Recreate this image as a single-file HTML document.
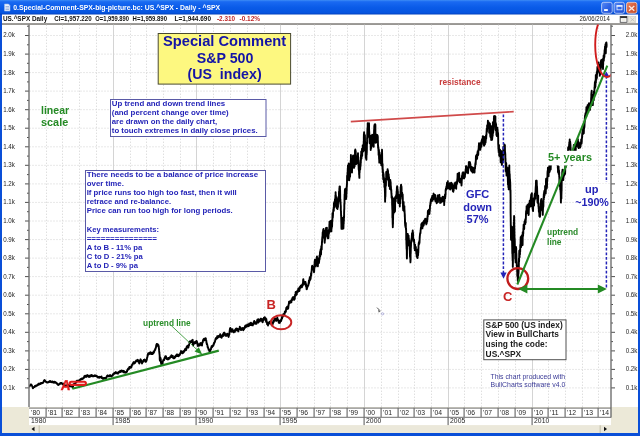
<!DOCTYPE html>
<html><head><meta charset="utf-8"><style>
html,body{margin:0;padding:0;width:640px;height:436px;overflow:hidden;background:#fff}
svg{display:block;will-change:transform}
</style></head><body>
<svg width="640" height="436" viewBox="0 0 640 436"><defs>
<linearGradient id="tb" x1="0" y1="0" x2="0" y2="1">
<stop offset="0" stop-color="#3d8cf5"/><stop offset="0.12" stop-color="#1a6af2"/><stop offset="0.5" stop-color="#0a5be8"/><stop offset="0.85" stop-color="#0655e0"/><stop offset="1" stop-color="#0240c0"/>
</linearGradient>
<clipPath id="plot"><rect x="29.5" y="24.5" width="581" height="382.5"/></clipPath>
</defs>
<rect x="0" y="0" width="640" height="436" fill="#0a4fd8"/>
<rect x="0" y="0" width="640" height="14.7" fill="url(#tb)"/>
<rect x="2" y="14.7" width="636" height="418.3" fill="#ece9d8"/>
<rect x="2" y="14.7" width="636" height="8.9" fill="#ffffff"/>
<rect x="2" y="23.6" width="636" height="1" fill="#1a1a1a"/>
<rect x="2" y="24.7" width="636" height="382.3" fill="#ffffff"/>
<g stroke="#d0d0d0" stroke-width="1" stroke-dasharray="1 2"><line x1="29.5" y1="387.9" x2="610.5" y2="387.9"/><line x1="29.5" y1="369.4" x2="610.5" y2="369.4"/><line x1="29.5" y1="350.9" x2="610.5" y2="350.9"/><line x1="29.5" y1="332.3" x2="610.5" y2="332.3"/><line x1="29.5" y1="313.8" x2="610.5" y2="313.8"/><line x1="29.5" y1="295.2" x2="610.5" y2="295.2"/><line x1="29.5" y1="276.6" x2="610.5" y2="276.6"/><line x1="29.5" y1="258.1" x2="610.5" y2="258.1"/><line x1="29.5" y1="239.6" x2="610.5" y2="239.6"/><line x1="29.5" y1="221.0" x2="610.5" y2="221.0"/><line x1="29.5" y1="202.4" x2="610.5" y2="202.4"/><line x1="29.5" y1="183.9" x2="610.5" y2="183.9"/><line x1="29.5" y1="165.3" x2="610.5" y2="165.3"/><line x1="29.5" y1="146.8" x2="610.5" y2="146.8"/><line x1="29.5" y1="128.2" x2="610.5" y2="128.2"/><line x1="29.5" y1="109.7" x2="610.5" y2="109.7"/><line x1="29.5" y1="91.1" x2="610.5" y2="91.1"/><line x1="29.5" y1="72.6" x2="610.5" y2="72.6"/><line x1="29.5" y1="54.1" x2="610.5" y2="54.1"/><line x1="29.5" y1="35.5" x2="610.5" y2="35.5"/></g>
<g stroke="#d0d0d0" stroke-width="1" stroke-dasharray="1 2"><line x1="46.5" y1="24.7" x2="46.5" y2="407"/><line x1="62.5" y1="24.7" x2="62.5" y2="407"/><line x1="79.5" y1="24.7" x2="79.5" y2="407"/><line x1="96.5" y1="24.7" x2="96.5" y2="407"/><line x1="130.5" y1="24.7" x2="130.5" y2="407"/><line x1="146.5" y1="24.7" x2="146.5" y2="407"/><line x1="163.5" y1="24.7" x2="163.5" y2="407"/><line x1="180.5" y1="24.7" x2="180.5" y2="407"/><line x1="213.5" y1="24.7" x2="213.5" y2="407"/><line x1="230.5" y1="24.7" x2="230.5" y2="407"/><line x1="247.5" y1="24.7" x2="247.5" y2="407"/><line x1="264.5" y1="24.7" x2="264.5" y2="407"/><line x1="297.5" y1="24.7" x2="297.5" y2="407"/><line x1="314.5" y1="24.7" x2="314.5" y2="407"/><line x1="330.5" y1="24.7" x2="330.5" y2="407"/><line x1="347.5" y1="24.7" x2="347.5" y2="407"/><line x1="381.5" y1="24.7" x2="381.5" y2="407"/><line x1="398.5" y1="24.7" x2="398.5" y2="407"/><line x1="414.5" y1="24.7" x2="414.5" y2="407"/><line x1="431.5" y1="24.7" x2="431.5" y2="407"/><line x1="464.5" y1="24.7" x2="464.5" y2="407"/><line x1="481.5" y1="24.7" x2="481.5" y2="407"/><line x1="498.5" y1="24.7" x2="498.5" y2="407"/><line x1="515.5" y1="24.7" x2="515.5" y2="407"/><line x1="548.5" y1="24.7" x2="548.5" y2="407"/><line x1="565.5" y1="24.7" x2="565.5" y2="407"/><line x1="582.5" y1="24.7" x2="582.5" y2="407"/><line x1="598.5" y1="24.7" x2="598.5" y2="407"/></g>
<g stroke="#d4d4d4" stroke-width="1"><line x1="113.5" y1="24.7" x2="113.5" y2="407"/><line x1="196.5" y1="24.7" x2="196.5" y2="407"/><line x1="280.5" y1="24.7" x2="280.5" y2="407"/><line x1="364.5" y1="24.7" x2="364.5" y2="407"/><line x1="448.5" y1="24.7" x2="448.5" y2="407"/><line x1="532.5" y1="24.7" x2="532.5" y2="407"/></g>
<g stroke="#505050" stroke-width="1"><line x1="25" y1="387.9" x2="29" y2="387.9"/><line x1="611" y1="387.9" x2="615" y2="387.9"/><line x1="25" y1="369.4" x2="29" y2="369.4"/><line x1="611" y1="369.4" x2="615" y2="369.4"/><line x1="25" y1="350.9" x2="29" y2="350.9"/><line x1="611" y1="350.9" x2="615" y2="350.9"/><line x1="25" y1="332.3" x2="29" y2="332.3"/><line x1="611" y1="332.3" x2="615" y2="332.3"/><line x1="25" y1="313.8" x2="29" y2="313.8"/><line x1="611" y1="313.8" x2="615" y2="313.8"/><line x1="25" y1="295.2" x2="29" y2="295.2"/><line x1="611" y1="295.2" x2="615" y2="295.2"/><line x1="25" y1="276.6" x2="29" y2="276.6"/><line x1="611" y1="276.6" x2="615" y2="276.6"/><line x1="25" y1="258.1" x2="29" y2="258.1"/><line x1="611" y1="258.1" x2="615" y2="258.1"/><line x1="25" y1="239.6" x2="29" y2="239.6"/><line x1="611" y1="239.6" x2="615" y2="239.6"/><line x1="25" y1="221.0" x2="29" y2="221.0"/><line x1="611" y1="221.0" x2="615" y2="221.0"/><line x1="25" y1="202.4" x2="29" y2="202.4"/><line x1="611" y1="202.4" x2="615" y2="202.4"/><line x1="25" y1="183.9" x2="29" y2="183.9"/><line x1="611" y1="183.9" x2="615" y2="183.9"/><line x1="25" y1="165.3" x2="29" y2="165.3"/><line x1="611" y1="165.3" x2="615" y2="165.3"/><line x1="25" y1="146.8" x2="29" y2="146.8"/><line x1="611" y1="146.8" x2="615" y2="146.8"/><line x1="25" y1="128.2" x2="29" y2="128.2"/><line x1="611" y1="128.2" x2="615" y2="128.2"/><line x1="25" y1="109.7" x2="29" y2="109.7"/><line x1="611" y1="109.7" x2="615" y2="109.7"/><line x1="25" y1="91.1" x2="29" y2="91.1"/><line x1="611" y1="91.1" x2="615" y2="91.1"/><line x1="25" y1="72.6" x2="29" y2="72.6"/><line x1="611" y1="72.6" x2="615" y2="72.6"/><line x1="25" y1="54.1" x2="29" y2="54.1"/><line x1="611" y1="54.1" x2="615" y2="54.1"/><line x1="25" y1="35.5" x2="29" y2="35.5"/><line x1="611" y1="35.5" x2="615" y2="35.5"/><line x1="27" y1="378.7" x2="29" y2="378.7"/><line x1="611" y1="378.7" x2="613" y2="378.7"/><line x1="27" y1="360.1" x2="29" y2="360.1"/><line x1="611" y1="360.1" x2="613" y2="360.1"/><line x1="27" y1="341.6" x2="29" y2="341.6"/><line x1="611" y1="341.6" x2="613" y2="341.6"/><line x1="27" y1="323.0" x2="29" y2="323.0"/><line x1="611" y1="323.0" x2="613" y2="323.0"/><line x1="27" y1="304.5" x2="29" y2="304.5"/><line x1="611" y1="304.5" x2="613" y2="304.5"/><line x1="27" y1="285.9" x2="29" y2="285.9"/><line x1="611" y1="285.9" x2="613" y2="285.9"/><line x1="27" y1="267.4" x2="29" y2="267.4"/><line x1="611" y1="267.4" x2="613" y2="267.4"/><line x1="27" y1="248.8" x2="29" y2="248.8"/><line x1="611" y1="248.8" x2="613" y2="248.8"/><line x1="27" y1="230.3" x2="29" y2="230.3"/><line x1="611" y1="230.3" x2="613" y2="230.3"/><line x1="27" y1="211.7" x2="29" y2="211.7"/><line x1="611" y1="211.7" x2="613" y2="211.7"/><line x1="27" y1="193.2" x2="29" y2="193.2"/><line x1="611" y1="193.2" x2="613" y2="193.2"/><line x1="27" y1="174.6" x2="29" y2="174.6"/><line x1="611" y1="174.6" x2="613" y2="174.6"/><line x1="27" y1="156.1" x2="29" y2="156.1"/><line x1="611" y1="156.1" x2="613" y2="156.1"/><line x1="27" y1="137.5" x2="29" y2="137.5"/><line x1="611" y1="137.5" x2="613" y2="137.5"/><line x1="27" y1="119.0" x2="29" y2="119.0"/><line x1="611" y1="119.0" x2="613" y2="119.0"/><line x1="27" y1="100.4" x2="29" y2="100.4"/><line x1="611" y1="100.4" x2="613" y2="100.4"/><line x1="27" y1="81.9" x2="29" y2="81.9"/><line x1="611" y1="81.9" x2="613" y2="81.9"/><line x1="27" y1="63.3" x2="29" y2="63.3"/><line x1="611" y1="63.3" x2="613" y2="63.3"/><line x1="27" y1="44.8" x2="29" y2="44.8"/><line x1="611" y1="44.8" x2="613" y2="44.8"/><line x1="27" y1="26.2" x2="29" y2="26.2"/><line x1="611" y1="26.2" x2="613" y2="26.2"/></g>
<rect x="28.3" y="24.7" width="1.4" height="382.3" fill="#707070"/>
<rect x="610.3" y="24.7" width="1.4" height="382.3" fill="#707070"/>
<g font-family='"Liberation Sans", sans-serif' font-size="7" fill="#1e1e1e"><text x="3.2" y="389.8" textLength="11.7" lengthAdjust="spacingAndGlyphs">0.1k</text><text x="625.7" y="389.8" textLength="11.7" lengthAdjust="spacingAndGlyphs">0.1k</text><text x="3.2" y="371.3" textLength="11.7" lengthAdjust="spacingAndGlyphs">0.2k</text><text x="625.7" y="371.3" textLength="11.7" lengthAdjust="spacingAndGlyphs">0.2k</text><text x="3.2" y="352.8" textLength="11.7" lengthAdjust="spacingAndGlyphs">0.3k</text><text x="625.7" y="352.8" textLength="11.7" lengthAdjust="spacingAndGlyphs">0.3k</text><text x="3.2" y="334.2" textLength="11.7" lengthAdjust="spacingAndGlyphs">0.4k</text><text x="625.7" y="334.2" textLength="11.7" lengthAdjust="spacingAndGlyphs">0.4k</text><text x="3.2" y="315.6" textLength="11.7" lengthAdjust="spacingAndGlyphs">0.5k</text><text x="625.7" y="315.6" textLength="11.7" lengthAdjust="spacingAndGlyphs">0.5k</text><text x="3.2" y="297.1" textLength="11.7" lengthAdjust="spacingAndGlyphs">0.6k</text><text x="625.7" y="297.1" textLength="11.7" lengthAdjust="spacingAndGlyphs">0.6k</text><text x="3.2" y="278.5" textLength="11.7" lengthAdjust="spacingAndGlyphs">0.7k</text><text x="625.7" y="278.5" textLength="11.7" lengthAdjust="spacingAndGlyphs">0.7k</text><text x="3.2" y="260.0" textLength="11.7" lengthAdjust="spacingAndGlyphs">0.8k</text><text x="625.7" y="260.0" textLength="11.7" lengthAdjust="spacingAndGlyphs">0.8k</text><text x="3.2" y="241.5" textLength="11.7" lengthAdjust="spacingAndGlyphs">0.9k</text><text x="625.7" y="241.5" textLength="11.7" lengthAdjust="spacingAndGlyphs">0.9k</text><text x="3.2" y="222.9" textLength="11.7" lengthAdjust="spacingAndGlyphs">1.0k</text><text x="625.7" y="222.9" textLength="11.7" lengthAdjust="spacingAndGlyphs">1.0k</text><text x="3.2" y="204.3" textLength="11.7" lengthAdjust="spacingAndGlyphs">1.1k</text><text x="625.7" y="204.3" textLength="11.7" lengthAdjust="spacingAndGlyphs">1.1k</text><text x="3.2" y="185.8" textLength="11.7" lengthAdjust="spacingAndGlyphs">1.2k</text><text x="625.7" y="185.8" textLength="11.7" lengthAdjust="spacingAndGlyphs">1.2k</text><text x="3.2" y="167.2" textLength="11.7" lengthAdjust="spacingAndGlyphs">1.3k</text><text x="625.7" y="167.2" textLength="11.7" lengthAdjust="spacingAndGlyphs">1.3k</text><text x="3.2" y="148.7" textLength="11.7" lengthAdjust="spacingAndGlyphs">1.4k</text><text x="625.7" y="148.7" textLength="11.7" lengthAdjust="spacingAndGlyphs">1.4k</text><text x="3.2" y="130.2" textLength="11.7" lengthAdjust="spacingAndGlyphs">1.5k</text><text x="625.7" y="130.2" textLength="11.7" lengthAdjust="spacingAndGlyphs">1.5k</text><text x="3.2" y="111.6" textLength="11.7" lengthAdjust="spacingAndGlyphs">1.6k</text><text x="625.7" y="111.6" textLength="11.7" lengthAdjust="spacingAndGlyphs">1.6k</text><text x="3.2" y="93.0" textLength="11.7" lengthAdjust="spacingAndGlyphs">1.7k</text><text x="625.7" y="93.0" textLength="11.7" lengthAdjust="spacingAndGlyphs">1.7k</text><text x="3.2" y="74.5" textLength="11.7" lengthAdjust="spacingAndGlyphs">1.8k</text><text x="625.7" y="74.5" textLength="11.7" lengthAdjust="spacingAndGlyphs">1.8k</text><text x="3.2" y="56.0" textLength="11.7" lengthAdjust="spacingAndGlyphs">1.9k</text><text x="625.7" y="56.0" textLength="11.7" lengthAdjust="spacingAndGlyphs">1.9k</text><text x="3.2" y="37.4" textLength="11.7" lengthAdjust="spacingAndGlyphs">2.0k</text><text x="625.7" y="37.4" textLength="11.7" lengthAdjust="spacingAndGlyphs">2.0k</text></g>
<rect x="29" y="407.8" width="582" height="17.5" fill="#ffffff"/>
<rect x="29" y="407.6" width="582" height="1" fill="#707070"/>
<rect x="29" y="416.8" width="582" height="1" fill="#707070"/>
<rect x="45.5" y="407.8" width="1.2" height="9.2" fill="#707070"/><rect x="61.5" y="407.8" width="1.2" height="9.2" fill="#707070"/><rect x="78.5" y="407.8" width="1.2" height="9.2" fill="#707070"/><rect x="95.5" y="407.8" width="1.2" height="9.2" fill="#707070"/><rect x="112.5" y="407.8" width="1.2" height="17.5" fill="#707070"/><rect x="129.5" y="407.8" width="1.2" height="9.2" fill="#707070"/><rect x="145.5" y="407.8" width="1.2" height="9.2" fill="#707070"/><rect x="162.5" y="407.8" width="1.2" height="9.2" fill="#707070"/><rect x="179.5" y="407.8" width="1.2" height="9.2" fill="#707070"/><rect x="195.5" y="407.8" width="1.2" height="17.5" fill="#707070"/><rect x="212.5" y="407.8" width="1.2" height="9.2" fill="#707070"/><rect x="229.5" y="407.8" width="1.2" height="9.2" fill="#707070"/><rect x="246.5" y="407.8" width="1.2" height="9.2" fill="#707070"/><rect x="263.5" y="407.8" width="1.2" height="9.2" fill="#707070"/><rect x="279.5" y="407.8" width="1.2" height="17.5" fill="#707070"/><rect x="296.5" y="407.8" width="1.2" height="9.2" fill="#707070"/><rect x="313.5" y="407.8" width="1.2" height="9.2" fill="#707070"/><rect x="329.5" y="407.8" width="1.2" height="9.2" fill="#707070"/><rect x="346.5" y="407.8" width="1.2" height="9.2" fill="#707070"/><rect x="363.5" y="407.8" width="1.2" height="17.5" fill="#707070"/><rect x="380.5" y="407.8" width="1.2" height="9.2" fill="#707070"/><rect x="397.5" y="407.8" width="1.2" height="9.2" fill="#707070"/><rect x="413.5" y="407.8" width="1.2" height="9.2" fill="#707070"/><rect x="430.5" y="407.8" width="1.2" height="9.2" fill="#707070"/><rect x="447.5" y="407.8" width="1.2" height="17.5" fill="#707070"/><rect x="463.5" y="407.8" width="1.2" height="9.2" fill="#707070"/><rect x="480.5" y="407.8" width="1.2" height="9.2" fill="#707070"/><rect x="497.5" y="407.8" width="1.2" height="9.2" fill="#707070"/><rect x="514.5" y="407.8" width="1.2" height="9.2" fill="#707070"/><rect x="531.5" y="407.8" width="1.2" height="17.5" fill="#707070"/><rect x="547.5" y="407.8" width="1.2" height="9.2" fill="#707070"/><rect x="564.5" y="407.8" width="1.2" height="9.2" fill="#707070"/><rect x="581.5" y="407.8" width="1.2" height="9.2" fill="#707070"/><rect x="597.5" y="407.8" width="1.2" height="9.2" fill="#707070"/>
<g font-family='"Liberation Sans", sans-serif' font-size="6.8" fill="#1e1e1e"><text x="31.1" y="415.2">'80</text><text x="31.1" y="423.4">1980</text><text x="48.1" y="415.2">'81</text><text x="64.1" y="415.2">'82</text><text x="81.1" y="415.2">'83</text><text x="98.1" y="415.2">'84</text><text x="115.1" y="415.2">'85</text><text x="115.1" y="423.4">1985</text><text x="132.1" y="415.2">'86</text><text x="148.1" y="415.2">'87</text><text x="165.1" y="415.2">'88</text><text x="182.1" y="415.2">'89</text><text x="198.1" y="415.2">'90</text><text x="198.1" y="423.4">1990</text><text x="215.1" y="415.2">'91</text><text x="232.1" y="415.2">'92</text><text x="249.1" y="415.2">'93</text><text x="266.1" y="415.2">'94</text><text x="282.1" y="415.2">'95</text><text x="282.1" y="423.4">1995</text><text x="299.1" y="415.2">'96</text><text x="316.1" y="415.2">'97</text><text x="332.1" y="415.2">'98</text><text x="349.1" y="415.2">'99</text><text x="366.1" y="415.2">'00</text><text x="366.1" y="423.4">2000</text><text x="383.1" y="415.2">'01</text><text x="400.1" y="415.2">'02</text><text x="416.1" y="415.2">'03</text><text x="433.1" y="415.2">'04</text><text x="450.1" y="415.2">'05</text><text x="450.1" y="423.4">2005</text><text x="466.1" y="415.2">'06</text><text x="483.1" y="415.2">'07</text><text x="500.1" y="415.2">'08</text><text x="517.1" y="415.2">'09</text><text x="534.1" y="415.2">'10</text><text x="534.1" y="423.4">2010</text><text x="550.1" y="415.2">'11</text><text x="567.1" y="415.2">'12</text><text x="584.1" y="415.2">'13</text><text x="600.1" y="415.2">'14</text></g>
<rect x="610.3" y="407" width="1.4" height="10.6" fill="#707070"/>
<rect x="29" y="425.3" width="582" height="7.7" fill="#ebe8da"/>
<rect x="38.5" y="425.3" width="1.5" height="7.7" fill="#cfcbb8"/>
<rect x="599.5" y="425.3" width="1.5" height="7.7" fill="#cfcbb8"/>
<path d="M31.5 429 L34.5 426.8 L34.5 431.2 Z" fill="#111"/>
<path d="M607 429 L604 426.8 L604 431.2 Z" fill="#111"/>
<path clip-path="url(#plot)" d="M29.0 386.9 29.1 386.8 29.2 386.7 29.2 386.6 29.3 386.6 29.4 386.5 29.4 386.5 29.5 386.4 29.6 386.0 29.6 385.9 29.7 385.7 29.8 385.8 29.8 385.7 29.9 385.7 30.0 385.5 30.0 385.3 30.1 385.2 30.2 385.3 30.2 385.5 30.3 385.4 30.3 385.3 30.4 385.1 30.5 385.2 30.5 384.9 30.6 384.8 30.7 385.0 30.7 384.6 30.8 384.5 30.9 384.5 30.9 384.5 31.0 384.6 31.1 384.5 31.1 384.5 31.2 384.6 31.3 384.8 31.3 385.0 31.4 384.8 31.5 385.1 31.5 385.3 31.6 385.2 31.7 385.0 31.7 385.4 31.8 385.5 31.9 385.7 31.9 385.8 32.0 385.8 32.1 386.0 32.1 386.0 32.2 386.3 32.3 386.6 32.3 386.5 32.4 386.6 32.5 386.8 32.5 387.0 32.6 387.2 32.7 387.5 32.7 387.9 32.8 388.0 32.9 388.0 32.9 388.3 33.0 388.3 33.1 387.7 33.1 387.6 33.2 387.7 33.3 387.7 33.3 387.5 33.4 387.8 33.5 387.6 33.5 387.4 33.6 387.4 33.7 387.4 33.7 387.4 33.8 387.3 33.9 387.3 33.9 387.3 34.0 387.0 34.1 387.1 34.1 387.1 34.2 386.9 34.3 386.8 34.3 386.9 34.4 387.1 34.5 386.9 34.5 386.8 34.6 386.6 34.7 386.7 34.7 386.5 34.8 386.5 34.9 386.5 34.9 386.0 35.0 386.5 35.1 386.3 35.1 386.4 35.2 386.2 35.3 386.0 35.3 386.3 35.4 386.1 35.5 386.4 35.5 386.3 35.6 386.2 35.7 386.3 35.7 386.2 35.8 386.2 35.9 385.9 35.9 385.9 36.0 385.6 36.1 385.7 36.1 385.8 36.2 385.7 36.3 385.9 36.3 385.8 36.4 385.5 36.5 385.8 36.5 385.8 36.6 385.5 36.7 385.7 36.7 385.7 36.8 385.6 36.9 385.7 36.9 385.7 37.0 385.6 37.1 385.6 37.1 385.3 37.2 385.6 37.3 385.4 37.3 385.3 37.4 385.0 37.5 385.0 37.5 384.9 37.6 384.6 37.7 384.7 37.7 384.9 37.8 384.9 37.9 384.8 37.9 385.0 38.0 385.0 38.1 384.8 38.1 384.6 38.2 384.7 38.3 384.7 38.3 384.4 38.4 384.4 38.5 384.1 38.5 384.0 38.6 383.8 38.7 384.2 38.7 383.9 38.8 383.7 38.9 384.1 38.9 384.1 39.0 383.8 39.1 384.2 39.1 384.3 39.2 384.2 39.3 384.4 39.3 384.4 39.4 384.2 39.5 384.3 39.5 384.2 39.6 384.1 39.7 383.8 39.7 383.8 39.8 383.8 39.9 384.1 39.9 383.9 40.0 383.6 40.1 383.7 40.1 383.8 40.2 383.9 40.3 384.0 40.3 383.8 40.4 383.3 40.5 383.3 40.5 383.9 40.6 383.8 40.7 383.4 40.7 383.3 40.8 383.1 40.9 383.3 40.9 383.4 41.0 383.5 41.1 383.6 41.1 383.4 41.2 383.4 41.3 383.2 41.3 383.1 41.4 383.2 41.5 383.2 41.5 383.2 41.6 383.4 41.6 383.1 41.7 383.1 41.8 383.0 41.8 383.1 41.9 383.2 42.0 383.1 42.0 382.9 42.1 383.1 42.2 383.2 42.2 383.1 42.3 382.9 42.4 382.9 42.4 382.9 42.5 382.9 42.6 383.0 42.6 382.9 42.7 382.7 42.8 382.6 42.8 382.6 42.9 382.9 43.0 382.5 43.0 382.7 43.1 382.7 43.2 382.5 43.2 382.5 43.3 382.4 43.4 382.2 43.4 382.1 43.5 382.0 43.6 381.8 43.6 381.5 43.7 381.4 43.8 381.5 43.8 381.0 43.9 381.2 44.0 380.9 44.0 380.5 44.1 380.5 44.2 380.6 44.2 380.6 44.3 380.4 44.4 380.4 44.4 380.2 44.5 380.5 44.6 380.3 44.6 380.4 44.7 380.5 44.8 380.6 44.8 380.5 44.9 380.3 45.0 380.8 45.0 380.8 45.1 380.6 45.2 380.8 45.2 381.1 45.3 381.2 45.4 381.4 45.4 381.4 45.5 381.5 45.6 381.5 45.6 381.5 45.7 381.3 45.8 381.4 45.8 381.8 45.9 381.8 46.0 381.9 46.0 382.0 46.1 381.9 46.2 382.0 46.2 381.9 46.3 382.2 46.4 382.1 46.4 382.2 46.5 382.0 46.6 382.4 46.6 382.3 46.7 382.2 46.8 382.2 46.8 381.9 46.9 382.1 47.0 382.1 47.0 382.3 47.1 382.5 47.2 382.3 47.2 382.4 47.3 382.2 47.4 382.4 47.4 382.5 47.5 382.5 47.6 382.6 47.6 382.5 47.7 382.2 47.8 382.4 47.8 382.5 47.9 382.2 48.0 382.3 48.0 382.4 48.1 382.3 48.2 382.3 48.2 382.4 48.3 382.2 48.4 382.3 48.4 382.0 48.5 382.1 48.6 382.1 48.6 382.1 48.7 382.0 48.8 381.8 48.8 381.7 48.9 381.8 49.0 381.9 49.0 382.1 49.1 381.8 49.2 381.7 49.2 381.6 49.3 381.5 49.4 381.3 49.4 381.7 49.5 381.5 49.6 381.3 49.6 381.8 49.7 381.5 49.8 381.3 49.8 381.2 49.9 381.3 50.0 381.2 50.0 381.2 50.1 381.3 50.2 381.2 50.2 380.9 50.3 381.5 50.4 381.5 50.4 381.6 50.5 381.5 50.6 381.8 50.6 381.6 50.7 381.9 50.8 381.8 50.8 381.7 50.9 381.9 51.0 381.4 51.0 381.5 51.1 382.0 51.2 381.7 51.2 381.8 51.3 381.9 51.4 381.8 51.4 381.9 51.5 382.0 51.6 382.0 51.6 381.7 51.7 381.9 51.8 382.0 51.8 382.2 51.9 382.2 52.0 382.1 52.0 382.1 52.1 381.9 52.2 382.0 52.2 381.7 52.3 381.6 52.4 381.6 52.4 381.8 52.5 381.7 52.6 381.8 52.6 382.1 52.7 381.9 52.7 382.0 52.8 381.7 52.9 382.0 52.9 382.1 53.0 382.3 53.1 382.2 53.1 382.4 53.2 382.6 53.3 382.1 53.3 382.1 53.4 382.2 53.5 381.9 53.5 382.4 53.6 382.5 53.7 382.4 53.7 382.3 53.8 382.2 53.9 382.5 53.9 382.5 54.0 382.8 54.1 382.2 54.1 382.2 54.2 382.0 54.3 382.0 54.3 382.0 54.4 381.7 54.5 381.9 54.5 381.9 54.6 382.1 54.7 382.3 54.7 382.4 54.8 382.1 54.9 382.2 54.9 382.3 55.0 382.2 55.1 382.2 55.1 382.2 55.2 382.2 55.3 382.2 55.3 382.6 55.4 382.3 55.5 382.2 55.5 382.2 55.6 382.2 55.7 382.3 55.7 382.7 55.8 382.4 55.9 382.8 55.9 382.7 56.0 382.6 56.1 382.7 56.1 382.5 56.2 382.8 56.3 383.0 56.3 383.0 56.4 383.0 56.5 383.1 56.5 382.9 56.6 383.0 56.7 383.3 56.7 383.6 56.8 383.4 56.9 383.7 56.9 383.6 57.0 383.8 57.1 383.7 57.1 383.7 57.2 383.5 57.3 383.8 57.3 383.8 57.4 384.2 57.5 383.7 57.5 383.9 57.6 384.0 57.7 384.1 57.7 384.3 57.8 384.4 57.9 384.5 57.9 384.8 58.0 384.6 58.1 384.6 58.1 385.0 58.2 384.8 58.3 384.9 58.3 384.9 58.4 384.9 58.5 384.7 58.5 384.6 58.6 384.6 58.7 384.6 58.7 384.6 58.8 384.4 58.9 384.5 58.9 384.6 59.0 384.2 59.1 384.2 59.1 384.3 59.2 384.2 59.3 384.4 59.3 384.4 59.4 384.1 59.5 384.0 59.5 384.2 59.6 384.0 59.7 383.9 59.7 384.0 59.8 383.8 59.9 383.9 59.9 383.4 60.0 383.5 60.1 383.6 60.1 383.1 60.2 383.4 60.3 383.4 60.3 383.7 60.4 383.4 60.5 383.4 60.5 383.1 60.6 383.1 60.7 383.6 60.7 383.2 60.8 383.3 60.9 382.9 60.9 383.4 61.0 383.3 61.1 383.1 61.1 382.9 61.2 383.0 61.3 383.1 61.3 383.0 61.4 383.0 61.5 383.1 61.5 383.3 61.6 383.2 61.7 383.3 61.7 383.5 61.8 383.5 61.9 383.3 61.9 383.6 62.0 383.4 62.1 383.5 62.1 383.4 62.2 383.4 62.3 383.5 62.3 383.5 62.4 383.5 62.5 383.8 62.5 383.8 62.6 383.7 62.7 384.3 62.7 384.0 62.8 384.3 62.9 384.0 62.9 383.7 63.0 384.2 63.1 383.8 63.1 383.7 63.2 383.8 63.3 383.7 63.3 384.0 63.4 383.7 63.5 383.8 63.5 384.1 63.6 384.2 63.7 384.0 63.7 384.3 63.8 384.2 63.8 384.2 63.9 384.5 64.0 384.7 64.0 384.4 64.1 384.5 64.2 384.8 64.2 385.0 64.3 385.0 64.4 385.1 64.4 384.9 64.5 385.0 64.6 384.9 64.6 384.9 64.7 385.3 64.8 385.2 64.8 385.1 64.9 385.1 65.0 385.1 65.0 385.3 65.1 385.6 65.2 385.6 65.2 385.5 65.3 385.7 65.4 385.8 65.4 385.8 65.5 385.6 65.6 385.5 65.6 385.7 65.7 385.7 65.8 385.7 65.8 386.0 65.9 386.0 66.0 386.2 66.0 386.1 66.1 386.0 66.2 385.9 66.2 385.9 66.3 386.0 66.4 385.9 66.4 385.9 66.5 385.9 66.6 385.5 66.6 385.7 66.7 385.6 66.8 385.7 66.8 385.5 66.9 385.6 67.0 385.2 67.0 385.4 67.1 385.4 67.2 385.3 67.2 385.2 67.3 385.1 67.4 385.0 67.4 384.9 67.5 385.0 67.6 384.9 67.6 384.8 67.7 384.8 67.8 385.0 67.8 385.1 67.9 385.0 68.0 385.1 68.0 384.9 68.1 385.2 68.2 385.3 68.2 385.4 68.3 385.5 68.4 385.3 68.4 385.3 68.5 385.3 68.6 385.3 68.6 385.2 68.7 385.3 68.8 385.3 68.8 385.2 68.9 385.1 69.0 385.4 69.0 385.5 69.1 385.7 69.2 385.7 69.2 385.6 69.3 385.7 69.4 385.6 69.4 385.7 69.5 385.6 69.6 385.9 69.6 385.9 69.7 386.0 69.8 386.1 69.8 386.2 69.9 386.3 70.0 386.2 70.0 386.2 70.1 386.4 70.2 386.3 70.2 386.1 70.3 386.3 70.4 386.2 70.4 386.2 70.5 385.9 70.6 386.2 70.6 386.1 70.7 386.0 70.8 386.2 70.8 386.2 70.9 386.1 71.0 386.2 71.0 386.0 71.1 386.2 71.2 386.1 71.2 386.2 71.3 386.1 71.4 386.2 71.4 386.2 71.5 386.3 71.6 386.4 71.6 386.2 71.7 386.2 71.8 386.2 71.8 386.2 71.9 386.3 72.0 386.4 72.0 386.6 72.1 386.5 72.2 386.5 72.2 386.6 72.3 386.8 72.4 387.0 72.4 386.9 72.5 387.1 72.6 387.2 72.6 387.5 72.7 387.5 72.8 387.5 72.8 387.2 72.9 387.1 73.0 387.1 73.0 386.7 73.1 386.3 73.2 386.0 73.2 386.0 73.3 385.7 73.4 385.4 73.4 385.1 73.5 384.7 73.6 384.7 73.6 384.3 73.7 384.4 73.8 384.6 73.8 384.5 73.9 384.4 74.0 384.3 74.0 384.1 74.1 384.2 74.2 383.9 74.2 383.9 74.3 383.9 74.4 384.0 74.4 384.0 74.5 384.2 74.6 384.0 74.6 384.0 74.7 384.2 74.8 383.9 74.8 384.2 74.9 383.9 75.0 384.4 75.0 384.2 75.1 384.1 75.1 383.9 75.2 383.9 75.3 383.5 75.3 383.2 75.4 383.0 75.5 383.0 75.5 382.8 75.6 382.7 75.7 382.9 75.7 382.7 75.8 382.6 75.9 382.4 75.9 382.2 76.0 382.4 76.1 382.6 76.1 382.0 76.2 381.7 76.3 381.4 76.3 381.7 76.4 381.7 76.5 381.4 76.5 381.2 76.6 381.0 76.7 381.3 76.7 381.3 76.8 381.2 76.9 381.1 76.9 380.7 77.0 381.1 77.1 381.1 77.1 381.1 77.2 381.4 77.3 381.3 77.3 381.2 77.4 381.1 77.5 380.9 77.5 380.9 77.6 381.0 77.7 380.7 77.7 380.9 77.8 380.8 77.9 380.7 77.9 380.9 78.0 380.9 78.1 380.6 78.1 380.7 78.2 380.8 78.3 380.8 78.3 380.6 78.4 380.7 78.5 380.6 78.5 380.6 78.6 380.8 78.7 380.8 78.7 380.8 78.8 380.9 78.9 380.7 78.9 380.4 79.0 380.8 79.1 380.5 79.1 380.7 79.2 380.4 79.3 380.3 79.3 380.4 79.4 380.7 79.5 380.4 79.5 380.2 79.6 380.4 79.7 380.2 79.7 380.2 79.8 380.1 79.9 380.1 79.9 380.2 80.0 380.1 80.1 379.6 80.1 379.7 80.2 379.7 80.3 379.9 80.3 379.6 80.4 379.2 80.5 379.6 80.5 379.6 80.6 379.5 80.7 379.5 80.7 379.5 80.8 379.6 80.9 379.6 80.9 379.5 81.0 379.3 81.1 379.2 81.1 379.3 81.2 379.5 81.3 379.1 81.3 379.1 81.4 378.8 81.5 379.2 81.5 378.8 81.6 378.7 81.7 378.7 81.7 378.7 81.8 378.6 81.9 378.9 81.9 378.8 82.0 379.0 82.1 379.2 82.1 378.9 82.2 378.9 82.3 378.7 82.3 378.9 82.4 378.7 82.5 379.1 82.5 379.0 82.6 378.6 82.7 378.7 82.7 378.7 82.8 378.6 82.9 378.5 82.9 378.6 83.0 378.1 83.1 378.2 83.1 378.2 83.2 378.2 83.3 378.5 83.3 378.2 83.4 378.1 83.5 377.8 83.5 378.0 83.6 378.2 83.7 377.9 83.7 377.9 83.8 378.1 83.9 378.0 83.9 378.1 84.0 377.5 84.1 377.5 84.1 376.8 84.2 376.9 84.3 376.6 84.3 376.1 84.4 376.3 84.5 376.2 84.5 376.2 84.6 376.4 84.7 376.0 84.7 376.2 84.8 376.0 84.9 375.9 84.9 376.2 85.0 376.0 85.1 376.0 85.1 375.8 85.2 376.4 85.3 376.4 85.3 376.3 85.4 376.3 85.5 376.1 85.5 376.3 85.6 376.1 85.7 376.7 85.7 376.9 85.8 376.5 85.9 376.5 85.9 376.4 86.0 376.7 86.1 377.0 86.1 376.4 86.2 376.4 86.2 376.3 86.3 376.5 86.4 376.0 86.4 375.8 86.5 375.4 86.6 375.8 86.6 376.0 86.7 375.6 86.8 375.4 86.8 375.7 86.9 375.9 87.0 376.3 87.0 376.1 87.1 375.7 87.2 376.1 87.2 376.2 87.3 375.8 87.4 375.4 87.4 375.2 87.5 375.1 87.6 375.3 87.6 375.3 87.7 375.5 87.8 375.3 87.8 375.8 87.9 375.4 88.0 375.8 88.0 375.6 88.1 376.0 88.2 375.8 88.2 375.6 88.3 375.6 88.4 375.6 88.4 375.9 88.5 376.1 88.6 376.6 88.6 376.5 88.7 376.9 88.8 376.1 88.8 376.1 88.9 376.1 89.0 376.3 89.0 376.5 89.1 376.5 89.2 376.5 89.2 376.3 89.3 376.4 89.4 375.7 89.4 376.0 89.5 376.4 89.6 376.8 89.6 376.6 89.7 376.8 89.8 376.9 89.8 376.3 89.9 376.2 90.0 376.2 90.0 376.2 90.1 376.2 90.2 376.2 90.2 375.8 90.3 376.0 90.4 376.0 90.4 376.0 90.5 376.1 90.6 376.1 90.6 376.1 90.7 376.3 90.8 376.2 90.8 375.8 90.9 375.7 91.0 375.6 91.0 375.3 91.1 375.7 91.2 375.6 91.2 375.5 91.3 375.4 91.4 375.1 91.4 374.9 91.5 375.5 91.6 375.2 91.6 375.2 91.7 375.2 91.8 375.7 91.8 375.6 91.9 375.4 92.0 375.5 92.0 375.6 92.1 376.0 92.2 375.8 92.2 375.8 92.3 375.8 92.4 376.3 92.4 376.0 92.5 375.7 92.6 375.6 92.6 375.5 92.7 375.7 92.8 375.8 92.8 375.7 92.9 375.8 93.0 376.2 93.0 376.2 93.1 376.2 93.2 376.2 93.2 375.9 93.3 375.9 93.4 376.3 93.4 376.0 93.5 376.4 93.6 376.0 93.6 375.9 93.7 376.0 93.8 376.3 93.8 376.0 93.9 375.9 94.0 375.8 94.0 375.9 94.1 376.1 94.2 376.1 94.2 375.8 94.3 376.1 94.4 375.5 94.4 375.5 94.5 375.5 94.6 375.6 94.6 375.5 94.7 375.4 94.8 376.0 94.8 375.7 94.9 375.9 95.0 376.1 95.0 375.8 95.1 375.9 95.2 375.8 95.2 375.9 95.3 375.8 95.4 375.8 95.4 375.7 95.5 375.4 95.6 375.5 95.6 375.7 95.7 375.6 95.8 375.4 95.8 376.1 95.9 376.0 96.0 375.9 96.0 375.9 96.1 375.8 96.2 376.0 96.2 376.2 96.3 376.2 96.4 375.9 96.4 376.1 96.5 376.2 96.6 375.8 96.6 376.5 96.7 376.1 96.8 376.3 96.8 376.4 96.9 376.7 97.0 376.7 97.0 376.6 97.1 376.6 97.2 376.3 97.2 376.4 97.3 376.4 97.3 376.2 97.4 376.4 97.5 376.8 97.5 376.8 97.6 376.9 97.7 377.1 97.7 377.2 97.8 377.4 97.9 377.5 97.9 377.5 98.0 377.2 98.1 377.0 98.1 377.3 98.2 377.0 98.3 377.2 98.3 377.3 98.4 377.1 98.5 377.1 98.5 377.2 98.6 377.1 98.7 377.4 98.7 377.4 98.8 377.0 98.9 377.2 98.9 377.1 99.0 377.0 99.1 377.3 99.1 377.2 99.2 377.7 99.3 377.8 99.3 377.1 99.4 377.4 99.5 377.1 99.5 377.3 99.6 377.0 99.7 377.1 99.7 377.0 99.8 377.2 99.9 376.8 99.9 377.2 100.0 377.1 100.1 377.0 100.1 377.0 100.2 376.9 100.3 376.9 100.3 377.1 100.4 377.0 100.5 377.0 100.5 377.2 100.6 377.0 100.7 377.1 100.7 377.3 100.8 377.1 100.9 377.5 100.9 377.0 101.0 377.1 101.1 377.4 101.1 377.0 101.2 376.9 101.3 376.9 101.3 376.9 101.4 376.6 101.5 376.5 101.5 376.8 101.6 377.1 101.7 377.4 101.7 377.5 101.8 377.8 101.9 378.1 101.9 378.0 102.0 378.0 102.1 378.1 102.1 377.8 102.2 378.4 102.3 378.1 102.3 378.2 102.4 378.2 102.5 378.4 102.5 378.0 102.6 378.7 102.7 378.1 102.7 378.6 102.8 378.6 102.9 378.4 102.9 378.6 103.0 378.7 103.1 378.7 103.1 378.4 103.2 378.9 103.3 378.6 103.3 378.8 103.4 378.9 103.5 378.4 103.5 378.4 103.6 378.4 103.7 378.6 103.7 378.3 103.8 378.4 103.9 378.4 103.9 378.0 104.0 378.1 104.1 378.0 104.1 377.9 104.2 377.9 104.3 377.9 104.3 378.1 104.4 378.4 104.5 378.0 104.5 378.4 104.6 378.5 104.7 378.6 104.7 378.3 104.8 378.3 104.9 378.1 104.9 378.2 105.0 378.2 105.1 378.3 105.1 378.1 105.2 378.0 105.3 378.0 105.3 378.7 105.4 378.7 105.5 378.6 105.5 378.6 105.6 378.7 105.7 378.3 105.7 378.6 105.8 378.3 105.9 378.2 105.9 378.3 106.0 378.4 106.1 378.1 106.1 378.1 106.2 378.1 106.3 378.0 106.3 377.4 106.4 377.5 106.5 377.0 106.5 377.0 106.6 376.6 106.7 376.8 106.7 376.6 106.8 376.5 106.9 376.3 106.9 376.4 107.0 376.2 107.1 375.6 107.1 375.6 107.2 375.6 107.3 375.7 107.3 375.8 107.4 375.7 107.5 375.9 107.5 375.8 107.6 376.0 107.7 376.0 107.7 376.0 107.8 376.0 107.9 376.0 107.9 376.0 108.0 375.7 108.1 376.2 108.1 375.9 108.2 376.4 108.3 376.1 108.3 376.0 108.4 375.6 108.5 375.9 108.5 375.7 108.6 375.7 108.6 376.0 108.7 376.2 108.8 375.9 108.8 376.2 108.9 376.2 109.0 376.2 109.0 376.4 109.1 376.2 109.2 376.3 109.2 376.1 109.3 375.7 109.4 376.1 109.4 376.1 109.5 376.0 109.6 375.9 109.6 376.2 109.7 375.8 109.8 375.9 109.8 375.6 109.9 375.7 110.0 375.7 110.0 375.4 110.1 375.1 110.2 375.2 110.2 375.3 110.3 375.4 110.4 375.6 110.4 375.8 110.5 375.9 110.6 375.7 110.6 375.7 110.7 375.8 110.8 375.9 110.8 375.7 110.9 375.6 111.0 375.8 111.0 376.2 111.1 376.2 111.2 376.4 111.2 376.1 111.3 376.2 111.4 376.5 111.4 376.3 111.5 376.3 111.6 376.3 111.6 376.3 111.7 376.2 111.8 376.1 111.8 376.1 111.9 376.1 112.0 376.0 112.0 375.8 112.1 375.7 112.2 375.6 112.2 375.5 112.3 375.6 112.4 375.7 112.4 375.6 112.5 375.1 112.6 375.5 112.6 375.3 112.7 375.5 112.8 375.2 112.8 374.8 112.9 374.7 113.0 374.9 113.0 374.3 113.1 374.2 113.2 374.2 113.2 374.4 113.3 374.2 113.4 373.7 113.4 373.8 113.5 374.1 113.6 374.3 113.6 374.0 113.7 374.4 113.8 373.8 113.8 373.9 113.9 373.4 114.0 373.5 114.0 373.2 114.1 373.2 114.2 373.3 114.2 373.2 114.3 373.0 114.4 373.1 114.4 373.0 114.5 373.4 114.6 373.1 114.6 373.0 114.7 372.8 114.8 373.1 114.8 373.3 114.9 373.0 115.0 373.5 115.0 373.3 115.1 373.0 115.2 373.3 115.2 373.3 115.3 373.1 115.4 373.1 115.4 373.2 115.5 372.9 115.6 372.8 115.6 372.6 115.7 372.3 115.8 372.1 115.8 372.8 115.9 372.2 116.0 372.7 116.0 372.4 116.1 372.7 116.2 372.8 116.2 372.9 116.3 373.0 116.4 372.7 116.4 372.9 116.5 372.6 116.6 372.7 116.6 373.1 116.7 373.3 116.8 373.2 116.8 373.0 116.9 373.0 117.0 373.2 117.0 373.0 117.1 373.3 117.2 373.0 117.2 373.0 117.3 372.7 117.4 372.9 117.4 372.9 117.5 372.8 117.6 372.7 117.6 373.3 117.7 373.1 117.8 373.3 117.8 373.6 117.9 373.7 118.0 373.5 118.0 373.6 118.1 373.3 118.2 373.4 118.2 372.8 118.3 373.1 118.4 373.1 118.4 372.8 118.5 372.5 118.6 372.8 118.6 372.3 118.7 372.3 118.8 372.3 118.8 372.1 118.9 372.0 119.0 371.8 119.0 372.3 119.1 371.9 119.2 372.2 119.2 372.0 119.3 371.9 119.4 372.3 119.4 372.3 119.5 372.0 119.6 371.4 119.6 371.3 119.7 371.3 119.7 371.4 119.8 371.2 119.9 371.5 119.9 371.9 120.0 371.6 120.1 371.8 120.1 371.4 120.2 371.0 120.3 371.3 120.3 371.5 120.4 371.5 120.5 372.0 120.5 371.3 120.6 371.5 120.7 371.4 120.7 371.6 120.8 371.5 120.9 371.4 120.9 371.1 121.0 370.9 121.1 370.9 121.1 370.7 121.2 371.2 121.3 371.2 121.3 371.0 121.4 370.8 121.5 371.1 121.5 371.5 121.6 370.5 121.7 371.3 121.7 371.3 121.8 371.4 121.9 371.4 121.9 371.4 122.0 371.1 122.1 371.1 122.1 371.2 122.2 371.4 122.3 371.2 122.3 371.1 122.4 371.0 122.5 371.1 122.5 371.1 122.6 371.0 122.7 371.0 122.7 370.9 122.8 370.9 122.9 371.3 122.9 371.2 123.0 371.2 123.1 370.9 123.1 371.4 123.2 371.2 123.3 371.0 123.3 371.5 123.4 371.7 123.5 372.3 123.5 371.7 123.6 372.1 123.7 371.7 123.7 372.0 123.8 371.7 123.9 371.5 123.9 371.5 124.0 371.5 124.1 371.2 124.1 371.4 124.2 371.5 124.3 371.5 124.3 371.9 124.4 372.1 124.5 371.7 124.5 371.8 124.6 372.1 124.7 372.2 124.7 372.5 124.8 372.5 124.9 372.4 124.9 372.4 125.0 372.5 125.1 372.5 125.1 372.6 125.2 372.6 125.3 372.7 125.3 372.7 125.4 372.6 125.5 372.5 125.5 372.3 125.6 372.3 125.7 372.3 125.7 372.2 125.8 372.4 125.9 372.1 125.9 372.2 126.0 372.4 126.1 372.1 126.1 372.3 126.2 372.3 126.3 372.5 126.3 371.9 126.4 372.0 126.5 371.8 126.5 371.7 126.6 371.4 126.7 371.3 126.7 371.3 126.8 371.1 126.9 371.4 126.9 371.1 127.0 371.4 127.1 371.7 127.1 371.2 127.2 370.3 127.3 370.5 127.3 370.0 127.4 369.9 127.5 370.0 127.5 369.9 127.6 369.8 127.7 369.6 127.7 370.2 127.8 369.6 127.9 369.1 127.9 369.7 128.0 369.2 128.1 369.0 128.1 368.6 128.2 368.5 128.3 368.7 128.3 368.9 128.4 369.3 128.5 369.6 128.5 368.9 128.6 368.9 128.7 369.4 128.7 368.7 128.8 368.7 128.9 368.8 128.9 368.0 129.0 368.8 129.1 368.9 129.1 368.9 129.2 368.4 129.3 368.1 129.3 367.5 129.4 366.9 129.5 367.3 129.5 367.4 129.6 367.5 129.7 367.4 129.7 367.2 129.8 367.0 129.9 367.2 129.9 367.4 130.0 367.0 130.1 367.0 130.1 366.9 130.2 366.9 130.3 367.2 130.3 367.3 130.4 367.4 130.5 367.5 130.5 367.7 130.6 367.2 130.7 367.6 130.7 367.1 130.8 366.8 130.8 367.2 130.9 367.7 131.0 367.3 131.0 367.3 131.1 367.0 131.2 366.3 131.2 366.2 131.3 366.3 131.4 366.0 131.4 366.6 131.5 367.0 131.6 366.7 131.6 365.9 131.7 365.6 131.8 365.6 131.8 365.6 131.9 365.2 132.0 364.9 132.0 365.1 132.1 364.7 132.2 364.6 132.2 364.4 132.3 364.8 132.4 364.5 132.4 364.5 132.5 364.9 132.6 364.1 132.6 364.1 132.7 363.8 132.8 363.5 132.8 363.5 132.9 363.8 133.0 363.6 133.0 363.4 133.1 363.1 133.2 362.8 133.2 362.9 133.3 363.4 133.4 363.2 133.4 362.9 133.5 363.5 133.6 362.2 133.6 362.2 133.7 362.1 133.8 362.4 133.8 362.9 133.9 363.1 134.0 363.1 134.0 362.8 134.1 362.7 134.2 363.0 134.2 363.5 134.3 363.3 134.4 363.4 134.4 363.4 134.5 363.2 134.6 363.2 134.6 363.3 134.7 363.0 134.8 362.5 134.8 362.5 134.9 362.8 135.0 363.0 135.0 362.8 135.1 363.0 135.2 362.2 135.2 362.5 135.3 361.7 135.4 362.2 135.4 362.0 135.5 361.8 135.6 361.9 135.6 361.4 135.7 361.2 135.8 361.5 135.8 361.8 135.9 361.5 136.0 361.5 136.0 361.2 136.1 360.8 136.2 360.4 136.2 360.7 136.3 360.7 136.4 360.4 136.4 360.6 136.5 360.5 136.6 360.8 136.6 360.9 136.7 360.9 136.8 360.8 136.8 360.9 136.9 360.7 137.0 360.4 137.0 361.3 137.1 360.8 137.2 360.6 137.2 360.5 137.3 360.4 137.4 360.8 137.4 360.8 137.5 360.8 137.6 359.9 137.6 360.1 137.7 360.1 137.8 359.8 137.8 360.0 137.9 360.3 138.0 360.2 138.0 360.3 138.1 360.4 138.2 360.5 138.2 360.8 138.3 360.6 138.4 361.3 138.4 361.3 138.5 361.8 138.6 361.4 138.6 361.8 138.7 361.3 138.8 361.1 138.8 361.6 138.9 362.4 139.0 362.1 139.0 362.9 139.1 362.7 139.2 362.6 139.2 362.7 139.3 362.6 139.4 362.7 139.4 363.6 139.5 362.8 139.6 362.6 139.6 362.3 139.7 361.8 139.8 362.0 139.8 361.3 139.9 361.1 140.0 360.6 140.0 360.5 140.1 360.7 140.2 360.2 140.2 360.3 140.3 360.1 140.4 360.3 140.4 359.4 140.5 360.1 140.6 359.5 140.6 359.6 140.7 360.1 140.8 359.6 140.8 360.0 140.9 360.1 141.0 360.6 141.0 360.3 141.1 360.7 141.2 360.9 141.2 361.2 141.3 361.4 141.4 362.1 141.4 362.0 141.5 362.2 141.6 362.4 141.6 362.3 141.7 362.1 141.8 362.5 141.8 362.5 141.9 362.3 142.0 363.1 142.0 363.6 142.1 363.1 142.1 362.9 142.2 362.6 142.3 362.8 142.3 362.7 142.4 362.4 142.5 362.3 142.5 362.6 142.6 362.2 142.7 361.8 142.7 361.6 142.8 362.0 142.9 361.4 142.9 361.0 143.0 361.4 143.1 361.7 143.1 361.2 143.2 361.5 143.3 361.6 143.3 361.4 143.4 361.2 143.5 360.7 143.5 360.8 143.6 360.3 143.7 360.3 143.7 360.0 143.8 360.2 143.9 359.9 143.9 360.0 144.0 360.0 144.1 360.0 144.1 360.1 144.2 360.0 144.3 360.6 144.3 360.6 144.4 360.6 144.5 360.3 144.5 360.0 144.6 359.8 144.7 360.2 144.7 359.5 144.8 360.3 144.9 360.4 144.9 359.7 145.0 360.6 145.1 360.3 145.1 360.8 145.2 361.3 145.3 361.3 145.3 361.4 145.4 361.9 145.5 361.3 145.5 361.4 145.6 361.4 145.7 361.5 145.7 361.2 145.8 361.6 145.9 361.1 145.9 361.3 146.0 361.4 146.1 361.1 146.1 361.7 146.2 361.6 146.3 360.9 146.3 360.9 146.4 360.4 146.5 360.6 146.5 360.2 146.6 360.3 146.7 360.2 146.7 360.1 146.8 359.5 146.9 358.8 146.9 359.1 147.0 357.9 147.1 358.1 147.1 357.8 147.2 357.1 147.3 357.0 147.3 357.2 147.4 357.1 147.5 356.5 147.5 356.0 147.6 355.7 147.7 355.4 147.7 354.9 147.8 354.2 147.9 354.9 147.9 354.4 148.0 354.3 148.1 353.8 148.1 353.9 148.2 353.8 148.3 353.3 148.3 354.1 148.4 354.5 148.5 354.0 148.5 353.9 148.6 354.1 148.7 353.7 148.7 353.6 148.8 354.3 148.9 353.5 148.9 354.0 149.0 353.8 149.1 353.0 149.1 353.6 149.2 353.4 149.3 353.6 149.3 353.9 149.4 353.6 149.5 353.9 149.5 353.7 149.6 353.5 149.7 353.0 149.7 352.6 149.8 352.8 149.9 353.1 149.9 353.2 150.0 352.6 150.1 352.6 150.1 352.6 150.2 353.0 150.3 353.0 150.3 352.2 150.4 352.4 150.5 352.3 150.5 352.8 150.6 353.0 150.7 352.9 150.7 353.0 150.8 353.4 150.9 353.3 150.9 353.9 151.0 353.4 151.1 353.2 151.1 353.3 151.2 353.2 151.3 353.0 151.3 354.0 151.4 353.5 151.5 353.8 151.5 354.0 151.6 353.5 151.7 352.8 151.7 353.1 151.8 353.0 151.9 353.2 151.9 353.8 152.0 353.9 152.1 353.3 152.1 353.5 152.2 353.8 152.3 353.8 152.3 354.1 152.4 353.8 152.5 353.9 152.5 353.7 152.6 353.9 152.7 353.4 152.7 353.6 152.8 353.8 152.9 353.8 152.9 353.4 153.0 353.6 153.1 353.0 153.1 352.5 153.2 352.7 153.2 353.1 153.3 352.3 153.4 353.1 153.4 353.1 153.5 353.2 153.6 352.8 153.6 352.5 153.7 351.6 153.8 351.9 153.8 352.1 153.9 352.3 154.0 352.1 154.0 352.1 154.1 352.2 154.2 352.0 154.2 351.1 154.3 350.7 154.4 351.1 154.4 350.7 154.5 350.6 154.6 350.1 154.6 350.7 154.7 350.1 154.8 350.4 154.8 350.0 154.9 350.3 155.0 349.7 155.0 350.1 155.1 350.0 155.2 349.1 155.2 349.2 155.3 348.7 155.4 348.6 155.4 348.4 155.5 348.6 155.6 349.0 155.6 348.4 155.7 348.1 155.8 347.7 155.8 347.6 155.9 347.4 156.0 347.4 156.0 347.0 156.1 346.3 156.2 345.4 156.2 345.9 156.3 345.2 156.4 345.0 156.4 344.4 156.5 344.6 156.6 344.4 156.6 344.8 156.7 344.8 156.8 344.0 156.9 344.4 156.9 344.0 157.0 344.5 157.1 344.1 157.1 344.0 157.2 344.8 157.2 345.2 157.3 345.8 157.4 345.3 157.4 345.4 157.5 345.2 157.6 345.1 157.6 345.3 157.7 345.0 157.8 345.0 157.8 344.8 157.9 344.5 158.0 345.4 158.0 345.3 158.1 345.8 158.2 345.3 158.2 345.6 158.3 345.7 158.4 345.7 158.4 345.0 158.5 346.6 158.6 346.1 158.6 345.8 158.7 346.1 158.8 346.8 158.8 347.6 158.9 348.3 159.0 349.0 159.0 349.1 159.1 350.2 159.2 350.9 159.2 351.5 159.3 352.3 159.4 352.8 159.4 353.3 159.5 354.1 159.6 354.8 159.7 356.9 159.7 358.6 159.8 359.9 159.9 360.5 159.9 359.3 160.0 358.2 160.0 359.7 160.1 360.8 160.2 359.8 160.2 358.2 160.3 357.5 160.4 359.6 160.4 359.4 160.5 360.4 160.6 358.3 160.6 358.7 160.7 358.6 160.8 359.1 160.8 359.5 160.9 362.1 161.0 362.8 161.0 362.3 161.1 363.4 161.2 362.3 161.2 362.8 161.3 363.2 161.4 363.2 161.4 365.0 161.5 362.2 161.6 363.8 161.6 364.5 161.7 364.7 161.7 365.0 161.8 364.8 161.9 365.0 161.9 365.0 162.0 364.4 162.1 364.8 162.1 365.0 162.2 363.9 162.3 363.8 162.3 363.5 162.4 362.4 162.5 361.7 162.6 362.7 162.6 363.7 162.7 362.8 162.8 361.5 162.8 361.5 162.9 361.0 163.0 360.7 163.0 360.7 163.1 360.3 163.2 360.5 163.2 360.4 163.3 360.5 163.4 360.3 163.4 360.0 163.5 360.1 163.6 360.2 163.6 360.4 163.7 360.2 163.8 360.1 163.8 359.7 163.9 360.4 164.0 359.8 164.0 359.9 164.1 360.0 164.2 360.0 164.2 359.7 164.3 359.4 164.3 358.8 164.4 358.1 164.5 358.7 164.5 359.0 164.6 357.9 164.7 357.8 164.7 358.3 164.8 357.5 164.9 357.9 164.9 357.6 165.0 357.4 165.1 357.8 165.1 356.7 165.2 356.6 165.3 356.6 165.3 356.5 165.4 356.1 165.5 356.6 165.5 356.2 165.6 356.4 165.7 356.2 165.7 356.8 165.8 356.8 165.9 356.9 165.9 357.0 166.0 356.5 166.1 356.9 166.1 357.5 166.2 357.5 166.3 358.0 166.3 358.1 166.4 358.4 166.5 358.4 166.5 358.5 166.6 358.5 166.7 358.9 166.7 358.5 166.8 359.0 166.9 358.7 166.9 358.5 167.0 358.4 167.1 358.7 167.1 358.5 167.2 358.1 167.3 358.5 167.3 358.5 167.4 359.0 167.5 359.1 167.5 359.2 167.6 358.8 167.7 359.1 167.7 358.7 167.8 359.0 167.9 359.3 167.9 359.4 168.0 359.3 168.1 359.5 168.1 358.9 168.2 359.1 168.3 358.8 168.3 358.2 168.4 358.5 168.5 358.4 168.5 358.0 168.6 358.4 168.7 358.6 168.7 358.0 168.8 358.8 168.9 358.3 168.9 358.8 169.0 358.4 169.1 358.6 169.1 358.5 169.2 358.5 169.3 358.5 169.3 358.7 169.4 358.2 169.5 358.2 169.5 358.0 169.6 358.5 169.7 358.2 169.7 358.0 169.8 358.2 169.9 357.9 169.9 357.9 170.0 357.8 170.1 357.2 170.1 357.5 170.2 357.1 170.3 357.0 170.3 356.9 170.4 356.6 170.5 356.7 170.5 356.9 170.6 357.1 170.7 356.7 170.7 356.8 170.8 356.6 170.9 356.7 170.9 356.5 171.0 356.9 171.1 356.9 171.1 357.1 171.2 356.4 171.3 355.7 171.3 355.8 171.4 355.5 171.5 355.4 171.5 355.2 171.6 356.1 171.7 356.1 171.7 356.6 171.8 357.1 171.9 357.1 171.9 357.0 172.0 356.9 172.1 356.8 172.1 356.6 172.2 356.9 172.3 356.8 172.3 356.6 172.4 356.5 172.5 356.3 172.5 356.6 172.6 356.2 172.7 355.9 172.7 356.0 172.8 356.7 172.9 356.8 172.9 357.3 173.0 356.9 173.1 357.2 173.1 358.0 173.2 358.0 173.3 357.8 173.3 358.2 173.4 357.9 173.5 357.7 173.5 357.2 173.6 357.5 173.7 357.9 173.7 358.0 173.8 357.9 173.9 357.7 173.9 357.8 174.0 357.9 174.1 358.4 174.1 358.0 174.2 357.8 174.3 357.6 174.3 357.2 174.4 357.5 174.5 357.5 174.5 357.7 174.6 357.6 174.7 357.2 174.7 357.2 174.8 357.1 174.9 357.3 174.9 357.4 175.0 357.6 175.1 356.8 175.1 356.7 175.2 356.7 175.3 356.2 175.3 356.3 175.4 356.3 175.5 356.2 175.5 356.1 175.6 356.4 175.6 356.0 175.7 355.9 175.8 355.5 175.8 355.6 175.9 355.7 176.0 356.1 176.0 355.4 176.1 355.2 176.2 355.4 176.2 355.4 176.3 355.6 176.4 355.8 176.4 356.3 176.5 355.7 176.6 355.5 176.6 355.5 176.7 354.9 176.8 354.6 176.8 355.0 176.9 354.8 177.0 354.7 177.0 355.0 177.1 354.9 177.2 355.2 177.2 354.8 177.3 355.2 177.4 354.9 177.4 355.3 177.5 354.7 177.6 354.8 177.6 354.8 177.7 354.9 177.8 355.4 177.8 356.0 177.9 355.2 178.0 355.2 178.0 355.7 178.1 356.0 178.2 355.7 178.2 355.5 178.3 355.7 178.4 355.6 178.4 355.7 178.5 356.1 178.6 355.9 178.6 356.2 178.7 355.3 178.8 355.8 178.8 355.8 178.9 354.9 179.0 354.8 179.0 354.8 179.1 354.6 179.2 354.7 179.2 355.1 179.3 355.3 179.4 355.1 179.4 355.5 179.5 355.2 179.6 355.1 179.6 355.0 179.7 355.0 179.8 354.7 179.8 354.7 179.9 354.7 180.0 354.2 180.0 354.4 180.1 354.1 180.2 353.6 180.2 353.7 180.3 353.2 180.4 353.1 180.4 353.2 180.5 353.1 180.6 352.6 180.6 352.7 180.7 352.3 180.8 352.5 180.8 352.2 180.9 352.3 181.0 351.5 181.0 350.9 181.1 351.3 181.2 351.6 181.2 352.0 181.3 351.5 181.4 352.1 181.4 352.1 181.5 352.5 181.6 352.1 181.6 352.1 181.7 352.3 181.8 352.3 181.8 352.0 181.9 352.0 182.0 352.4 182.0 352.9 182.1 352.7 182.2 352.9 182.2 352.7 182.3 353.0 182.4 353.4 182.4 353.0 182.5 352.9 182.6 353.1 182.6 352.7 182.7 352.3 182.8 352.0 182.8 352.5 182.9 352.5 183.0 352.1 183.0 352.3 183.1 352.3 183.2 351.3 183.2 351.5 183.3 352.8 183.4 352.5 183.4 352.5 183.5 352.1 183.6 352.0 183.6 352.3 183.7 352.4 183.8 351.8 183.8 352.1 183.9 351.8 184.0 351.7 184.0 351.8 184.1 351.4 184.2 351.6 184.2 351.1 184.3 351.3 184.4 351.3 184.4 350.9 184.5 350.4 184.6 350.5 184.6 350.6 184.7 350.9 184.8 349.9 184.8 349.5 184.9 350.3 185.0 349.8 185.0 349.4 185.1 349.0 185.2 349.1 185.2 349.0 185.3 349.1 185.4 349.6 185.4 349.2 185.5 348.8 185.6 348.7 185.6 349.2 185.7 349.1 185.8 349.1 185.8 349.6 185.9 349.3 186.0 349.3 186.0 349.3 186.1 349.5 186.2 348.8 186.2 350.0 186.3 349.4 186.4 348.6 186.4 348.8 186.5 348.7 186.6 347.6 186.6 347.0 186.7 347.0 186.7 347.3 186.8 346.5 186.9 347.2 186.9 347.2 187.0 347.1 187.1 347.2 187.1 346.8 187.2 346.6 187.3 346.3 187.3 346.3 187.4 345.9 187.5 346.2 187.5 345.8 187.6 346.5 187.7 346.1 187.7 346.9 187.8 347.3 187.9 346.6 187.9 346.9 188.0 347.0 188.1 347.5 188.1 347.6 188.2 347.7 188.3 346.7 188.3 346.5 188.4 347.0 188.5 347.3 188.5 346.9 188.6 345.9 188.7 345.7 188.7 345.3 188.8 345.5 188.9 345.2 188.9 345.7 189.0 345.5 189.1 344.4 189.1 344.0 189.2 343.7 189.3 343.2 189.3 343.2 189.4 342.4 189.5 342.3 189.5 341.6 189.6 341.6 189.7 342.2 189.7 341.5 189.8 342.6 189.9 342.3 189.9 341.8 190.0 341.7 190.1 342.1 190.1 342.1 190.2 341.6 190.3 341.8 190.3 341.6 190.4 342.2 190.5 342.8 190.5 341.7 190.6 341.8 190.7 341.4 190.7 342.1 190.8 342.1 190.9 341.3 190.9 341.8 191.0 341.7 191.1 341.3 191.1 341.9 191.2 342.0 191.3 341.6 191.3 342.1 191.4 340.8 191.5 341.8 191.5 341.4 191.6 341.6 191.7 341.3 191.7 341.5 191.8 341.8 191.9 341.5 191.9 341.9 192.0 341.2 192.1 341.1 192.1 341.3 192.2 341.6 192.3 341.7 192.3 341.8 192.4 341.0 192.5 340.0 192.5 340.3 192.6 339.9 192.7 339.8 192.7 341.3 192.8 342.5 192.9 344.6 192.9 343.9 193.0 343.9 193.1 345.0 193.1 345.5 193.2 345.1 193.3 343.8 193.3 344.4 193.4 343.8 193.5 343.8 193.5 343.8 193.6 342.8 193.7 343.4 193.7 343.2 193.8 343.6 193.9 343.5 193.9 343.3 194.0 343.6 194.1 343.2 194.1 342.6 194.2 342.7 194.3 342.5 194.3 342.8 194.4 342.1 194.5 342.9 194.5 343.1 194.6 342.8 194.7 343.4 194.7 342.9 194.8 343.5 194.9 342.7 194.9 342.2 195.0 342.3 195.1 342.3 195.1 342.7 195.2 342.4 195.3 342.5 195.3 343.2 195.4 342.5 195.5 342.8 195.5 342.6 195.6 342.9 195.7 342.6 195.7 342.6 195.8 342.9 195.9 342.4 195.9 342.3 196.0 341.8 196.1 341.9 196.1 341.2 196.2 341.7 196.3 341.5 196.3 341.7 196.4 341.1 196.5 340.9 196.5 341.0 196.6 341.2 196.7 341.2 196.7 341.8 196.8 342.2 196.9 342.9 196.9 342.6 197.0 341.9 197.1 342.2 197.1 342.2 197.2 342.4 197.3 342.6 197.3 342.9 197.4 343.8 197.5 344.0 197.5 344.8 197.6 344.8 197.7 344.8 197.7 345.1 197.8 345.5 197.8 345.5 197.9 346.1 198.0 345.2 198.0 345.5 198.1 344.7 198.2 344.8 198.2 345.2 198.3 345.6 198.4 344.9 198.4 345.2 198.5 345.4 198.6 344.6 198.6 344.3 198.7 345.0 198.8 344.9 198.8 344.6 198.9 345.3 199.0 344.8 199.0 344.9 199.1 344.4 199.2 345.0 199.2 344.9 199.3 345.1 199.4 345.1 199.4 344.2 199.5 345.1 199.6 345.5 199.6 344.8 199.7 345.5 199.8 345.3 199.8 345.0 199.9 344.8 200.0 344.9 200.0 344.1 200.1 344.3 200.2 343.1 200.2 343.8 200.3 343.3 200.4 344.0 200.4 343.9 200.5 344.0 200.6 343.7 200.6 343.4 200.7 343.6 200.8 343.4 200.8 343.0 200.9 343.4 201.0 343.8 201.0 344.8 201.1 343.9 201.2 344.7 201.2 344.5 201.3 344.3 201.4 344.3 201.4 344.3 201.5 344.1 201.6 343.7 201.6 344.8 201.7 343.9 201.8 344.5 201.8 344.5 201.9 344.8 202.0 345.5 202.0 345.1 202.1 344.9 202.2 343.3 202.2 343.4 202.3 342.8 202.4 342.8 202.4 342.4 202.5 342.3 202.6 342.4 202.6 342.2 202.7 342.6 202.8 341.4 202.8 341.3 202.9 341.2 203.0 340.5 203.0 340.3 203.1 340.7 203.2 340.8 203.2 340.5 203.3 339.8 203.4 339.5 203.4 339.5 203.5 339.2 203.6 339.2 203.6 339.8 203.7 339.2 203.8 339.0 203.8 338.9 203.9 338.8 204.0 338.8 204.0 339.0 204.1 339.1 204.2 340.3 204.2 340.1 204.3 340.0 204.4 340.1 204.4 340.4 204.5 340.0 204.6 339.7 204.6 339.9 204.7 340.2 204.8 340.1 204.8 340.1 204.9 339.7 205.0 339.1 205.0 338.4 205.1 338.7 205.2 338.8 205.2 339.3 205.3 338.5 205.4 338.4 205.4 338.7 205.5 338.6 205.6 338.1 205.6 338.6 205.7 339.3 205.8 339.7 205.8 339.8 205.9 338.6 206.0 339.3 206.0 339.8 206.1 340.1 206.2 340.3 206.2 340.4 206.3 340.6 206.4 341.5 206.4 342.5 206.5 342.3 206.6 342.5 206.6 343.4 206.7 343.1 206.8 344.2 206.8 343.3 206.9 344.2 207.0 343.9 207.0 344.3 207.1 344.1 207.2 344.6 207.2 345.0 207.3 344.9 207.4 345.3 207.4 345.4 207.5 346.2 207.6 346.4 207.6 346.7 207.7 347.4 207.8 347.5 207.8 347.2 207.9 347.0 208.0 347.2 208.0 347.7 208.1 347.6 208.2 348.3 208.2 348.0 208.3 348.5 208.4 348.7 208.4 349.0 208.5 348.6 208.6 349.6 208.6 349.8 208.7 349.3 208.8 349.7 208.8 349.5 208.9 349.6 209.0 349.5 209.0 349.7 209.1 349.7 209.1 349.6 209.2 350.3 209.3 350.6 209.3 351.1 209.4 351.2 209.5 351.2 209.5 351.7 209.6 351.7 209.7 351.7 209.7 351.7 209.8 351.7 209.9 351.7 209.9 351.7 210.0 351.7 210.1 351.0 210.1 350.9 210.2 351.2 210.3 350.9 210.3 350.5 210.4 350.1 210.5 350.1 210.5 349.6 210.6 349.7 210.7 349.1 210.7 349.5 210.8 349.6 210.9 348.8 210.9 348.9 211.0 348.6 211.1 348.3 211.1 348.9 211.2 347.6 211.3 347.2 211.3 347.3 211.4 347.8 211.5 347.0 211.5 346.9 211.6 346.2 211.7 346.6 211.7 346.6 211.8 346.7 211.9 346.3 211.9 346.9 212.0 346.8 212.1 346.2 212.1 346.9 212.2 347.0 212.3 346.2 212.3 346.5 212.4 346.1 212.5 345.7 212.5 345.7 212.6 345.7 212.7 346.1 212.7 346.3 212.8 345.9 212.9 346.3 212.9 345.5 213.0 345.2 213.1 345.5 213.1 345.7 213.2 345.2 213.3 345.2 213.3 345.0 213.4 345.2 213.5 344.7 213.5 345.4 213.6 344.4 213.7 344.8 213.7 343.8 213.8 343.5 213.9 343.8 213.9 343.4 214.0 344.0 214.1 343.4 214.1 343.6 214.2 343.1 214.3 342.5 214.3 342.4 214.4 342.2 214.5 342.4 214.5 342.6 214.6 342.7 214.7 342.6 214.7 342.4 214.8 341.8 214.9 341.3 214.9 341.8 215.0 341.4 215.1 341.2 215.1 340.9 215.2 340.9 215.3 339.8 215.3 340.2 215.4 339.4 215.5 339.4 215.5 339.0 215.6 339.3 215.7 339.0 215.7 339.3 215.8 338.1 215.9 338.8 215.9 338.8 216.0 338.4 216.1 338.1 216.1 338.6 216.2 338.2 216.3 338.8 216.3 338.7 216.4 338.7 216.5 338.1 216.5 338.0 216.6 338.7 216.7 338.3 216.7 338.0 216.8 338.4 216.9 338.4 216.9 338.5 217.0 337.9 217.1 338.4 217.1 337.2 217.2 336.2 217.3 337.3 217.3 336.4 217.4 336.9 217.5 336.8 217.5 336.6 217.6 337.1 217.7 337.7 217.7 337.1 217.8 336.7 217.9 336.1 217.9 336.9 218.0 336.5 218.1 336.7 218.1 336.2 218.2 336.4 218.3 336.4 218.3 337.0 218.4 336.6 218.5 336.5 218.5 336.5 218.6 335.9 218.7 336.5 218.7 336.8 218.8 336.9 218.9 336.3 218.9 336.3 219.0 336.2 219.1 336.0 219.1 336.2 219.2 335.8 219.3 336.6 219.3 335.8 219.4 336.6 219.5 336.2 219.5 335.9 219.6 336.8 219.7 336.5 219.7 336.1 219.8 336.0 219.9 336.1 219.9 335.5 220.0 335.4 220.1 335.2 220.1 335.2 220.2 334.2 220.2 334.4 220.3 334.9 220.4 335.0 220.4 336.1 220.5 335.7 220.6 336.0 220.6 335.9 220.7 335.7 220.8 335.9 220.8 336.3 220.9 336.7 221.0 337.3 221.0 337.3 221.1 336.4 221.2 336.7 221.2 336.5 221.3 337.0 221.4 337.7 221.4 336.9 221.5 337.5 221.6 337.6 221.6 337.8 221.7 336.1 221.8 336.0 221.8 336.3 221.9 336.5 222.0 336.9 222.0 336.0 222.1 336.2 222.2 335.9 222.2 335.7 222.3 335.5 222.4 335.5 222.4 335.0 222.5 334.8 222.6 335.7 222.6 336.1 222.7 335.2 222.8 335.3 222.8 335.0 222.9 334.2 223.0 334.6 223.0 334.7 223.1 334.1 223.2 334.6 223.2 334.9 223.3 334.6 223.4 334.6 223.4 335.5 223.5 335.9 223.6 335.6 223.6 335.1 223.7 333.7 223.8 333.7 223.8 332.9 223.9 332.7 224.0 333.0 224.0 332.8 224.1 333.3 224.2 333.4 224.2 332.8 224.3 332.9 224.4 333.1 224.4 332.8 224.5 333.3 224.6 333.5 224.6 333.1 224.7 333.5 224.8 333.5 224.8 333.2 224.9 333.4 225.0 333.8 225.0 334.4 225.1 334.1 225.2 334.8 225.2 334.2 225.3 334.1 225.4 334.6 225.4 334.7 225.5 334.8 225.6 335.2 225.6 334.4 225.7 334.6 225.8 334.6 225.8 334.8 225.9 335.8 226.0 335.1 226.0 335.1 226.1 334.8 226.2 335.1 226.2 335.4 226.3 334.8 226.4 335.6 226.4 334.7 226.5 335.6 226.6 335.4 226.6 335.0 226.7 335.8 226.8 335.7 226.8 334.6 226.9 334.4 227.0 333.9 227.0 334.5 227.1 333.6 227.2 333.7 227.2 333.7 227.3 333.8 227.4 333.9 227.4 334.0 227.5 333.9 227.6 334.1 227.6 334.3 227.7 334.7 227.8 334.2 227.8 334.4 227.9 334.2 228.0 335.0 228.0 335.3 228.1 335.8 228.2 334.9 228.2 335.4 228.3 335.3 228.4 336.1 228.4 335.8 228.5 336.6 228.6 336.9 228.6 336.7 228.7 336.4 228.8 335.6 228.8 335.4 228.9 335.4 229.0 335.6 229.0 335.2 229.1 334.5 229.2 334.7 229.2 334.4 229.3 334.1 229.4 333.4 229.4 332.9 229.5 332.8 229.6 332.2 229.6 331.1 229.7 330.8 229.8 329.9 229.8 330.0 229.9 328.7 230.0 329.1 230.0 329.6 230.1 329.0 230.2 328.3 230.2 328.2 230.3 327.9 230.4 327.9 230.4 328.9 230.5 330.1 230.6 330.0 230.6 330.0 230.7 328.8 230.8 329.7 230.8 329.6 230.9 329.1 231.0 328.8 231.0 329.7 231.1 329.5 231.2 330.0 231.2 330.6 231.3 330.5 231.3 330.7 231.4 330.6 231.5 331.4 231.5 331.7 231.6 331.1 231.7 331.1 231.7 331.6 231.8 330.1 231.9 330.6 231.9 331.2 232.0 330.8 232.1 330.3 232.1 330.6 232.2 330.5 232.3 330.5 232.3 330.1 232.4 329.8 232.5 329.3 232.5 329.8 232.6 329.7 232.7 329.7 232.7 329.9 232.8 330.8 232.9 330.7 232.9 330.7 233.0 331.5 233.1 331.3 233.1 330.7 233.2 331.0 233.3 332.0 233.3 331.5 233.4 331.5 233.5 332.2 233.5 332.2 233.6 332.4 233.7 332.4 233.7 331.9 233.8 331.3 233.9 331.7 233.9 332.0 234.0 331.2 234.1 331.1 234.1 331.6 234.2 330.9 234.3 330.9 234.3 330.6 234.4 331.1 234.5 330.6 234.5 331.3 234.6 330.8 234.7 330.6 234.7 331.3 234.8 330.9 234.9 331.1 234.9 331.9 235.0 331.0 235.1 331.0 235.1 329.8 235.2 329.9 235.3 329.4 235.3 329.4 235.4 330.4 235.5 329.6 235.5 329.5 235.6 329.4 235.7 329.6 235.7 330.2 235.8 330.2 235.9 328.8 235.9 329.8 236.0 329.5 236.1 329.6 236.1 329.5 236.2 330.2 236.3 329.9 236.3 329.8 236.4 328.8 236.5 329.3 236.5 329.4 236.6 329.9 236.7 329.1 236.7 328.6 236.8 329.4 236.9 329.4 236.9 329.5 237.0 329.6 237.1 329.9 237.1 330.3 237.2 329.4 237.3 329.3 237.3 328.7 237.4 328.8 237.5 329.1 237.5 329.5 237.6 330.6 237.7 330.5 237.7 329.9 237.8 329.5 237.9 329.9 237.9 330.0 238.0 330.0 238.1 329.5 238.1 330.7 238.2 331.2 238.3 331.4 238.3 330.8 238.4 331.3 238.5 330.4 238.5 329.8 238.6 329.7 238.7 329.2 238.7 329.5 238.8 330.0 238.9 329.2 238.9 329.0 239.0 328.9 239.1 328.7 239.1 328.9 239.2 329.1 239.3 328.9 239.3 328.6 239.4 329.0 239.5 328.7 239.5 328.2 239.6 328.6 239.7 328.0 239.7 327.8 239.8 326.7 239.9 327.9 239.9 327.8 240.0 327.8 240.1 328.0 240.1 328.4 240.2 327.6 240.3 328.9 240.3 328.5 240.4 328.1 240.5 328.8 240.5 328.9 240.6 328.5 240.7 328.9 240.7 329.7 240.8 329.9 240.9 329.8 240.9 328.8 241.0 329.7 241.1 330.0 241.1 329.7 241.2 329.8 241.3 329.1 241.3 328.1 241.4 328.5 241.5 329.0 241.5 329.4 241.6 329.4 241.7 328.5 241.7 328.4 241.8 329.7 241.9 328.7 241.9 329.1 242.0 329.5 242.1 329.3 242.1 328.7 242.2 329.3 242.3 328.3 242.3 328.5 242.4 328.9 242.5 328.8 242.5 329.0 242.6 328.6 242.6 328.7 242.7 328.8 242.8 328.2 242.8 328.8 242.9 328.7 243.0 329.0 243.0 328.9 243.1 328.2 243.2 329.3 243.2 328.7 243.3 329.8 243.4 329.2 243.4 330.2 243.5 329.3 243.6 328.8 243.6 329.5 243.7 329.5 243.8 329.2 243.8 328.9 243.9 328.8 244.0 328.8 244.0 329.1 244.1 329.2 244.2 328.7 244.2 328.7 244.3 328.6 244.4 327.7 244.4 327.7 244.5 327.8 244.6 327.8 244.6 327.8 244.7 328.0 244.8 327.4 244.8 327.0 244.9 326.8 245.0 326.7 245.0 326.3 245.1 326.0 245.2 326.5 245.2 326.5 245.3 326.5 245.4 326.8 245.4 325.9 245.5 325.5 245.6 325.9 245.6 325.7 245.7 326.4 245.8 326.5 245.8 327.2 245.9 326.2 246.0 326.5 246.0 325.7 246.1 326.0 246.2 326.8 246.2 326.5 246.3 326.2 246.4 326.4 246.4 326.3 246.5 326.1 246.6 325.8 246.6 325.4 246.7 325.7 246.8 325.1 246.8 325.3 246.9 325.8 247.0 325.1 247.0 325.4 247.1 325.1 247.2 325.5 247.2 325.5 247.3 324.5 247.4 324.4 247.4 324.9 247.5 326.0 247.6 325.4 247.6 325.7 247.7 325.9 247.8 325.7 247.8 326.3 247.9 325.0 248.0 325.1 248.0 325.2 248.1 325.1 248.2 325.8 248.2 326.2 248.3 325.0 248.4 324.5 248.4 324.6 248.5 324.7 248.6 325.0 248.6 325.5 248.7 325.4 248.8 324.2 248.8 325.0 248.9 325.2 249.0 325.6 249.0 325.1 249.1 325.9 249.2 325.0 249.2 324.1 249.3 323.4 249.4 324.4 249.4 324.2 249.5 324.3 249.6 324.0 249.6 324.2 249.7 324.4 249.8 325.0 249.8 324.2 249.9 324.4 250.0 324.9 250.0 323.9 250.1 323.8 250.2 323.7 250.2 323.8 250.3 323.6 250.4 323.6 250.4 324.3 250.5 324.2 250.6 324.8 250.6 325.1 250.7 324.2 250.8 325.0 250.8 323.4 250.9 322.7 251.0 323.6 251.0 323.3 251.1 323.0 251.2 323.1 251.2 323.7 251.3 323.1 251.4 323.4 251.4 323.3 251.5 323.4 251.6 323.7 251.6 323.9 251.7 324.0 251.8 323.8 251.8 324.3 251.9 324.1 252.0 324.3 252.0 325.3 252.1 324.8 252.2 324.9 252.2 324.8 252.3 324.8 252.4 324.1 252.4 325.4 252.5 324.8 252.6 324.6 252.6 324.8 252.7 324.9 252.8 324.2 252.8 325.3 252.9 324.4 253.0 324.4 253.0 324.6 253.1 324.7 253.2 324.4 253.2 323.3 253.3 323.1 253.4 322.7 253.4 322.6 253.5 323.7 253.6 322.9 253.6 322.9 253.7 323.0 253.7 322.1 253.8 322.9 253.9 323.0 253.9 323.5 254.0 322.1 254.1 322.0 254.1 321.1 254.2 321.9 254.3 321.0 254.3 321.9 254.4 321.7 254.5 322.3 254.5 322.5 254.6 323.0 254.7 322.7 254.7 323.5 254.8 323.6 254.9 322.4 254.9 322.6 255.0 323.1 255.1 322.9 255.1 323.5 255.2 323.4 255.3 322.9 255.3 323.5 255.4 323.8 255.5 322.9 255.5 322.9 255.6 322.1 255.7 323.1 255.7 322.6 255.8 322.5 255.9 323.0 255.9 322.5 256.0 322.4 256.1 323.2 256.1 322.4 256.2 323.1 256.3 322.9 256.3 322.7 256.4 322.7 256.5 323.4 256.5 323.7 256.6 322.7 256.7 322.7 256.7 322.6 256.8 322.1 256.9 322.5 256.9 322.7 257.0 322.3 257.1 321.6 257.1 320.2 257.2 321.1 257.3 321.0 257.3 320.7 257.4 320.0 257.5 320.2 257.5 319.6 257.6 319.5 257.7 320.1 257.7 320.2 257.8 320.3 257.9 320.5 257.9 321.0 258.0 320.6 258.1 320.4 258.1 320.3 258.2 321.1 258.3 321.4 258.3 322.6 258.4 322.3 258.5 322.5 258.5 321.3 258.6 320.2 258.7 320.3 258.7 319.3 258.8 320.0 258.9 319.7 258.9 320.9 259.0 320.3 259.1 320.3 259.1 320.4 259.2 321.1 259.3 321.4 259.3 320.7 259.4 320.0 259.5 321.0 259.5 320.4 259.6 320.9 259.7 320.9 259.7 321.4 259.8 320.5 259.9 320.5 259.9 320.2 260.0 320.1 260.1 320.3 260.1 319.8 260.2 320.0 260.3 320.1 260.3 319.7 260.4 320.4 260.5 319.5 260.5 320.2 260.6 319.5 260.7 319.7 260.7 319.6 260.8 318.7 260.9 319.9 260.9 320.6 261.0 319.8 261.1 319.4 261.1 318.8 261.2 319.6 261.3 319.2 261.3 320.0 261.4 319.7 261.5 320.0 261.5 320.3 261.6 319.4 261.7 319.2 261.7 319.6 261.8 320.2 261.9 319.8 261.9 320.6 262.0 321.2 262.1 320.8 262.1 320.0 262.2 321.7 262.3 320.9 262.3 321.4 262.4 320.1 262.5 320.7 262.5 320.8 262.6 321.2 262.7 321.5 262.7 322.2 262.8 321.2 262.9 319.8 262.9 320.0 263.0 320.4 263.1 321.1 263.1 320.2 263.2 320.6 263.3 319.7 263.3 318.8 263.4 319.6 263.5 320.0 263.5 320.2 263.6 319.8 263.7 319.4 263.7 319.2 263.8 319.0 263.9 318.5 263.9 317.8 264.0 318.7 264.1 318.0 264.1 318.5 264.2 318.3 264.3 317.5 264.3 318.0 264.4 318.2 264.5 318.8 264.5 318.7 264.6 318.3 264.7 319.1 264.7 318.0 264.8 317.2 264.8 317.2 264.9 317.3 265.0 318.3 265.0 317.8 265.1 318.2 265.2 318.7 265.2 319.6 265.3 318.2 265.4 319.0 265.4 318.9 265.5 319.0 265.6 318.1 265.6 320.3 265.7 319.7 265.8 319.6 265.8 320.2 265.9 320.6 266.0 321.7 266.0 319.9 266.1 320.1 266.2 321.0 266.2 319.8 266.3 319.0 266.4 319.6 266.4 320.7 266.5 320.9 266.6 320.8 266.6 320.9 266.7 321.3 266.8 322.0 266.8 321.9 266.9 322.9 267.0 323.0 267.0 323.1 267.1 324.1 267.2 323.6 267.2 322.5 267.3 323.2 267.4 323.5 267.4 323.2 267.5 324.4 267.6 324.1 267.6 323.8 267.7 324.0 267.8 324.3 267.8 323.4 267.9 323.9 268.0 325.5 268.0 325.1 268.1 324.8 268.2 324.1 268.2 324.0 268.3 323.5 268.4 323.5 268.4 323.9 268.5 323.1 268.6 324.2 268.6 323.6 268.7 322.7 268.8 322.9 268.8 323.2 268.9 323.1 269.0 322.8 269.0 322.9 269.1 322.5 269.2 322.6 269.2 322.8 269.3 322.4 269.4 322.5 269.4 322.3 269.5 321.6 269.6 321.6 269.6 323.0 269.7 322.5 269.8 322.1 269.8 322.2 269.9 322.1 270.0 322.6 270.0 323.0 270.1 322.6 270.2 321.8 270.2 321.5 270.3 322.1 270.4 322.1 270.4 321.8 270.5 321.8 270.6 321.6 270.6 322.7 270.7 322.9 270.8 323.4 270.8 323.4 270.9 323.4 271.0 323.3 271.0 322.9 271.1 323.0 271.2 323.4 271.2 324.4 271.3 323.1 271.4 324.2 271.4 324.1 271.5 324.4 271.6 323.5 271.6 324.0 271.7 323.9 271.8 323.7 271.8 324.1 271.9 323.4 272.0 324.1 272.0 323.8 272.1 325.5 272.2 324.2 272.2 323.6 272.3 323.4 272.4 323.3 272.4 323.9 272.5 324.4 272.6 323.5 272.6 323.3 272.7 323.2 272.8 323.4 272.8 323.1 272.9 323.9 273.0 322.6 273.0 322.2 273.1 321.9 273.2 322.1 273.2 321.5 273.3 321.3 273.4 321.1 273.4 320.8 273.5 320.1 273.6 320.1 273.6 320.7 273.7 320.7 273.8 321.5 273.8 321.6 273.9 321.8 274.0 320.5 274.0 321.0 274.1 321.1 274.2 321.1 274.2 320.4 274.3 319.9 274.4 319.6 274.4 319.5 274.5 319.2 274.6 318.5 274.6 318.3 274.7 319.1 274.8 318.4 274.8 319.7 274.9 319.4 275.0 319.3 275.0 319.0 275.1 319.3 275.2 319.4 275.2 318.4 275.3 319.6 275.4 319.3 275.4 319.0 275.5 318.6 275.6 318.9 275.6 320.2 275.7 320.2 275.8 320.2 275.8 320.5 275.9 320.7 276.0 320.6 276.0 320.7 276.1 320.7 276.1 320.4 276.2 320.4 276.3 320.7 276.3 320.9 276.4 320.5 276.5 320.7 276.5 320.2 276.6 319.3 276.7 318.6 276.7 319.2 276.8 319.2 276.9 320.0 276.9 318.9 277.0 318.8 277.1 319.2 277.1 318.8 277.2 318.2 277.3 317.5 277.3 318.1 277.4 318.9 277.5 319.6 277.5 320.1 277.6 319.4 277.7 319.7 277.7 318.9 277.8 319.9 277.9 319.6 277.9 319.9 278.0 320.3 278.1 320.1 278.1 320.0 278.2 320.0 278.3 320.3 278.3 320.4 278.4 320.1 278.5 321.2 278.5 321.6 278.6 321.2 278.7 322.3 278.7 322.3 278.8 322.3 278.9 321.9 278.9 322.1 279.0 322.9 279.1 320.7 279.1 321.4 279.2 322.2 279.3 322.4 279.3 322.7 279.4 322.9 279.5 322.7 279.5 322.1 279.6 322.2 279.7 322.0 279.7 322.7 279.8 322.5 279.9 322.8 279.9 322.4 280.0 321.9 280.1 321.6 280.1 320.8 280.2 321.3 280.3 320.4 280.3 321.0 280.4 321.3 280.5 321.1 280.5 320.9 280.6 320.8 280.7 320.1 280.7 321.4 280.8 320.5 280.9 321.1 280.9 321.3 281.0 321.0 281.1 319.7 281.1 320.5 281.2 321.0 281.3 319.9 281.3 320.3 281.4 319.1 281.5 319.6 281.5 319.4 281.6 319.2 281.7 318.7 281.7 319.1 281.8 319.0 281.9 318.1 281.9 317.5 282.0 318.8 282.1 318.2 282.1 316.8 282.2 316.2 282.3 316.5 282.3 316.0 282.4 316.7 282.5 315.6 282.5 316.7 282.6 316.6 282.7 316.9 282.7 316.6 282.8 315.9 282.9 316.1 282.9 315.4 283.0 316.1 283.1 315.6 283.1 315.7 283.2 316.3 283.3 315.0 283.3 314.2 283.4 315.2 283.5 314.7 283.5 315.0 283.6 315.8 283.7 315.3 283.7 315.6 283.8 315.7 283.9 315.1 283.9 314.3 284.0 314.7 284.1 314.5 284.1 314.4 284.2 315.1 284.3 314.1 284.3 314.5 284.4 313.6 284.5 313.2 284.5 314.2 284.6 314.0 284.7 312.4 284.7 312.9 284.8 312.0 284.9 311.5 284.9 312.0 285.0 312.4 285.1 311.5 285.1 312.5 285.2 312.3 285.3 311.8 285.3 311.2 285.4 311.5 285.5 312.2 285.5 311.9 285.6 311.8 285.7 311.6 285.7 311.1 285.8 311.0 285.9 311.6 285.9 310.1 286.0 310.2 286.1 309.3 286.1 309.3 286.2 308.3 286.3 308.5 286.3 307.8 286.4 309.1 286.5 308.9 286.5 308.8 286.6 308.6 286.7 309.2 286.7 308.7 286.8 308.8 286.9 308.0 286.9 307.7 287.0 307.7 287.1 307.6 287.1 306.6 287.2 307.6 287.2 307.6 287.3 308.2 287.4 307.6 287.4 307.8 287.5 307.6 287.6 307.2 287.6 308.2 287.7 307.7 287.8 307.6 287.8 307.8 287.9 307.7 288.0 307.1 288.0 307.0 288.1 308.7 288.2 307.9 288.2 308.4 288.3 307.2 288.4 307.0 288.4 305.5 288.5 305.4 288.6 305.4 288.6 304.6 288.7 304.2 288.8 303.9 288.8 304.1 288.9 303.3 289.0 302.8 289.0 301.8 289.1 303.4 289.2 303.4 289.2 302.7 289.3 301.9 289.4 301.9 289.4 301.8 289.5 302.4 289.6 302.0 289.6 302.1 289.7 303.1 289.8 302.5 289.8 301.7 289.9 301.6 290.0 302.2 290.0 301.8 290.1 301.2 290.2 301.5 290.2 301.2 290.3 302.1 290.4 302.2 290.4 301.4 290.5 301.8 290.6 302.3 290.6 301.8 290.7 301.6 290.8 302.6 290.8 302.2 290.9 302.0 291.0 300.9 291.0 301.0 291.1 302.0 291.2 302.3 291.2 301.1 291.3 302.3 291.4 302.3 291.4 301.5 291.5 300.5 291.6 299.9 291.6 300.9 291.7 299.1 291.8 299.8 291.8 299.4 291.9 300.1 292.0 299.6 292.0 299.7 292.1 300.2 292.2 299.2 292.2 300.0 292.3 299.9 292.4 299.3 292.4 299.6 292.5 297.7 292.6 298.7 292.6 298.1 292.7 298.8 292.8 298.1 292.8 298.2 292.9 297.9 293.0 297.8 293.0 297.8 293.1 297.0 293.2 298.9 293.2 298.4 293.3 298.3 293.4 298.7 293.4 298.6 293.5 297.9 293.6 297.5 293.6 298.7 293.7 299.0 293.8 299.3 293.8 298.2 293.9 299.3 294.0 299.9 294.0 298.3 294.1 299.4 294.2 298.6 294.2 298.0 294.3 298.1 294.4 298.2 294.4 299.4 294.5 298.2 294.6 298.3 294.6 297.9 294.7 298.9 294.8 298.6 294.8 297.5 294.9 296.2 295.0 296.1 295.0 296.3 295.1 294.6 295.2 295.2 295.2 295.5 295.3 294.9 295.4 295.7 295.4 295.4 295.5 295.0 295.6 294.2 295.6 292.4 295.7 291.9 295.8 292.8 295.8 292.4 295.9 292.0 296.0 293.5 296.0 292.9 296.1 294.2 296.2 294.8 296.2 295.2 296.3 294.6 296.4 294.5 296.4 293.5 296.5 294.6 296.6 294.1 296.6 294.3 296.7 293.9 296.8 294.4 296.8 293.4 296.9 293.1 297.0 292.2 297.0 292.6 297.1 292.0 297.2 291.3 297.2 291.9 297.3 291.2 297.4 291.0 297.4 290.6 297.5 290.4 297.6 291.5 297.6 291.1 297.7 290.8 297.8 292.1 297.8 291.5 297.9 290.5 298.0 291.5 298.0 291.5 298.1 290.3 298.2 289.9 298.2 289.2 298.3 289.3 298.3 288.5 298.4 289.2 298.5 289.3 298.5 289.1 298.6 290.1 298.7 290.1 298.7 290.3 298.8 290.4 298.9 289.6 298.9 289.6 299.0 291.0 299.1 290.8 299.1 291.1 299.2 289.0 299.3 290.2 299.3 288.3 299.4 289.9 299.5 289.4 299.5 290.6 299.6 289.4 299.7 287.7 299.7 287.7 299.8 286.9 299.9 288.8 299.9 288.7 300.0 288.1 300.1 287.6 300.1 287.3 300.2 287.2 300.3 287.8 300.3 287.1 300.4 286.8 300.5 286.3 300.5 286.4 300.6 287.1 300.7 286.9 300.7 286.3 300.8 285.7 300.9 285.6 300.9 286.4 301.0 287.0 301.1 287.3 301.1 286.8 301.2 286.2 301.3 286.4 301.3 286.9 301.4 285.8 301.5 286.6 301.5 286.2 301.6 287.0 301.7 286.6 301.7 285.2 301.8 285.8 301.9 287.2 301.9 287.0 302.0 285.2 302.1 286.2 302.1 286.6 302.2 284.8 302.3 285.2 302.3 284.8 302.4 284.2 302.5 285.8 302.5 285.2 302.6 285.7 302.7 285.6 302.7 285.7 302.8 285.6 302.9 284.3 302.9 283.9 303.0 282.6 303.1 281.2 303.1 280.0 303.2 280.0 303.3 279.1 303.3 280.5 303.4 280.1 303.5 280.1 303.5 280.2 303.6 282.1 303.7 281.6 303.7 282.6 303.8 282.6 303.9 282.1 303.9 282.4 304.0 281.7 304.1 283.4 304.1 283.8 304.2 282.9 304.3 282.8 304.3 282.9 304.4 282.7 304.5 282.1 304.5 283.2 304.6 283.4 304.7 283.2 304.7 284.1 304.8 282.8 304.9 283.4 304.9 283.7 305.0 283.4 305.1 282.8 305.1 282.9 305.2 283.4 305.3 282.0 305.3 282.1 305.4 282.6 305.5 282.6 305.5 282.0 305.6 284.7 305.7 285.6 305.7 283.5 305.8 283.3 305.9 284.6 305.9 284.6 306.0 284.2 306.1 285.1 306.1 285.8 306.2 286.7 306.3 287.1 306.3 286.3 306.4 287.0 306.5 286.7 306.5 287.9 306.6 289.1 306.7 287.7 306.7 287.8 306.8 289.2 306.9 288.8 306.9 288.7 307.0 288.4 307.1 287.7 307.1 287.1 307.2 287.5 307.3 287.8 307.3 287.4 307.4 287.1 307.5 286.9 307.5 285.9 307.6 286.4 307.7 286.6 307.7 285.6 307.8 286.2 307.9 286.0 307.9 286.2 308.0 285.2 308.1 285.8 308.1 285.6 308.2 285.3 308.3 285.6 308.3 284.9 308.4 285.1 308.5 284.1 308.5 283.5 308.6 283.6 308.7 284.0 308.7 282.5 308.8 282.0 308.9 282.0 308.9 280.7 309.0 280.4 309.1 283.0 309.1 280.6 309.2 281.5 309.3 281.6 309.3 281.4 309.4 281.3 309.5 279.3 309.5 279.0 309.6 280.4 309.6 279.3 309.7 278.0 309.8 278.5 309.8 277.1 309.9 277.5 310.0 278.6 310.0 279.0 310.1 279.9 310.2 279.5 310.2 279.2 310.3 278.3 310.4 278.1 310.4 278.7 310.5 277.5 310.6 278.9 310.6 279.0 310.7 277.6 310.8 276.9 310.8 276.3 310.9 275.7 311.0 275.5 311.0 273.5 311.1 273.7 311.2 274.8 311.2 275.8 311.3 273.3 311.4 273.6 311.4 272.0 311.5 272.2 311.6 271.2 311.6 271.7 311.7 270.0 311.8 268.8 311.8 269.3 311.9 267.4 312.0 266.3 312.0 267.4 312.1 267.1 312.2 265.9 312.2 265.7 312.3 266.1 312.4 266.1 312.4 266.8 312.5 269.1 312.6 268.4 312.6 268.4 312.7 267.8 312.8 268.3 312.8 267.8 312.9 268.4 313.0 268.1 313.0 268.4 313.1 269.5 313.2 269.4 313.2 269.2 313.3 269.4 313.4 269.2 313.4 268.5 313.5 267.1 313.6 267.2 313.6 268.0 313.7 269.1 313.8 268.2 313.8 269.5 313.9 270.9 314.0 272.2 314.0 269.5 314.1 270.4 314.2 271.3 314.2 269.9 314.3 268.8 314.4 267.8 314.4 264.4 314.5 265.7 314.6 264.8 314.6 261.7 314.7 261.9 314.8 260.6 314.8 261.5 314.9 259.8 315.0 260.3 315.0 261.7 315.1 260.7 315.2 262.4 315.2 263.9 315.3 265.0 315.4 265.0 315.4 263.5 315.5 264.7 315.6 264.7 315.6 263.3 315.7 262.4 315.8 266.4 315.8 264.2 315.9 265.6 316.0 263.7 316.0 260.9 316.1 265.2 316.2 263.4 316.2 262.0 316.3 261.2 316.4 262.1 316.4 260.3 316.5 259.8 316.6 259.5 316.6 258.0 316.7 257.8 316.8 257.8 316.8 257.3 316.9 258.5 317.0 256.4 317.0 259.6 317.1 260.0 317.2 260.7 317.2 258.8 317.3 258.8 317.4 261.2 317.4 263.1 317.5 262.4 317.6 263.4 317.6 263.7 317.7 261.4 317.8 264.3 317.8 266.3 317.9 266.1 318.0 263.5 318.0 263.5 318.1 263.3 318.2 262.3 318.2 259.7 318.3 262.1 318.4 262.7 318.4 262.0 318.5 261.0 318.6 263.1 318.6 262.4 318.7 258.3 318.8 260.2 318.8 260.5 318.9 261.5 319.0 262.9 319.0 261.2 319.1 258.3 319.2 259.0 319.2 261.3 319.3 257.9 319.4 258.1 319.4 258.1 319.5 255.5 319.6 256.3 319.6 259.1 319.7 255.8 319.8 256.5 319.8 256.4 319.9 254.8 320.0 253.3 320.0 251.9 320.1 253.4 320.2 256.4 320.2 254.1 320.3 251.5 320.4 250.6 320.4 253.3 320.5 254.6 320.6 252.1 320.6 250.1 320.7 249.1 320.7 250.4 320.8 250.3 320.9 250.8 320.9 254.7 321.0 254.5 321.1 253.0 321.1 249.1 321.2 249.2 321.3 246.9 321.3 246.2 321.4 248.9 321.5 247.0 321.5 246.9 321.6 246.8 321.7 249.6 321.7 249.4 321.8 245.0 321.9 244.5 321.9 242.8 322.0 241.4 322.1 242.3 322.1 241.3 322.2 238.5 322.3 237.3 322.3 238.2 322.4 236.5 322.5 236.6 322.5 237.8 322.6 234.5 322.7 232.2 322.7 237.6 322.8 237.4 322.9 233.4 322.9 234.0 323.0 233.3 323.1 233.6 323.1 231.2 323.2 230.1 323.3 229.5 323.3 230.4 323.4 231.4 323.5 229.5 323.5 229.7 323.6 229.0 323.7 230.6 323.7 229.8 323.8 233.0 323.9 235.3 323.9 232.3 324.0 233.7 324.1 233.9 324.1 235.2 324.2 234.3 324.3 236.6 324.3 238.7 324.4 238.1 324.5 239.4 324.5 235.6 324.6 241.6 324.7 242.1 324.7 242.8 324.8 240.2 324.9 239.6 324.9 238.2 325.0 240.0 325.1 234.8 325.1 232.5 325.2 232.1 325.3 233.1 325.3 230.6 325.4 235.9 325.5 235.7 325.5 234.0 325.6 233.3 325.7 230.6 325.7 231.9 325.8 232.8 325.9 235.8 325.9 235.1 326.0 228.0 326.1 232.3 326.1 233.4 326.2 230.8 326.3 230.8 326.3 230.3 326.4 229.6 326.5 231.3 326.5 232.3 326.6 234.3 326.7 230.1 326.7 232.4 326.8 229.4 326.9 227.8 326.9 231.2 327.0 233.9 327.1 234.3 327.1 231.5 327.2 236.4 327.3 232.3 327.3 234.0 327.4 236.7 327.5 237.9 327.5 231.6 327.6 233.6 327.7 236.8 327.7 234.9 327.8 230.9 327.9 236.6 327.9 236.1 328.0 235.5 328.1 238.4 328.1 237.5 328.2 234.2 328.3 234.9 328.3 235.7 328.4 238.2 328.5 236.7 328.5 236.0 328.6 234.4 328.7 230.6 328.7 233.4 328.8 231.7 328.9 230.0 328.9 233.6 329.0 232.4 329.1 229.3 329.1 230.7 329.2 231.1 329.3 231.4 329.3 228.7 329.4 224.0 329.5 225.0 329.5 221.6 329.6 223.1 329.7 225.0 329.7 223.9 329.8 221.6 329.9 226.3 329.9 226.6 330.0 227.6 330.1 229.4 330.1 231.5 330.2 224.4 330.3 227.8 330.3 229.4 330.4 227.3 330.5 226.5 330.5 229.5 330.6 227.2 330.7 221.0 330.7 224.8 330.8 224.7 330.9 226.7 330.9 226.0 331.0 227.6 331.1 229.0 331.1 225.0 331.2 225.7 331.3 226.6 331.3 227.5 331.4 231.4 331.5 224.8 331.5 224.1 331.6 227.1 331.7 220.8 331.7 222.5 331.8 228.1 331.8 224.7 331.9 222.0 332.0 221.4 332.0 221.8 332.1 226.5 332.2 221.2 332.2 219.4 332.3 219.9 332.4 221.3 332.4 218.5 332.5 213.1 332.6 213.2 332.6 217.2 332.7 216.7 332.8 216.6 332.8 217.6 332.9 216.1 333.0 214.9 333.0 214.4 333.1 212.4 333.2 211.6 333.2 211.8 333.3 209.9 333.4 211.2 333.4 209.3 333.5 209.4 333.6 210.4 333.6 209.3 333.7 207.4 333.8 207.1 333.8 210.7 333.9 203.3 334.0 205.2 334.0 204.7 334.1 204.8 334.2 203.5 334.2 205.1 334.3 202.0 334.4 204.9 334.4 207.6 334.5 203.1 334.6 203.5 334.6 202.1 334.7 201.7 334.8 201.3 334.8 203.2 334.9 199.5 335.0 201.7 335.0 200.8 335.1 201.7 335.2 198.6 335.2 201.3 335.3 200.9 335.4 195.8 335.4 195.6 335.5 195.2 335.6 196.9 335.6 192.3 335.7 199.0 335.8 195.0 335.8 198.8 335.9 195.9 336.0 197.7 336.0 200.3 336.1 202.4 336.2 197.6 336.2 202.5 336.3 206.3 336.4 203.7 336.4 200.3 336.5 199.7 336.6 204.5 336.6 207.4 336.7 201.6 336.8 203.5 336.8 207.7 336.9 208.2 337.0 204.3 337.0 204.9 337.1 207.4 337.2 206.4 337.2 201.3 337.3 205.6 337.4 202.2 337.4 204.2 337.5 209.1 337.6 204.1 337.6 202.1 337.7 203.8 337.8 203.0 337.8 202.9 337.9 202.3 338.0 206.9 338.0 199.1 338.1 202.8 338.2 202.1 338.2 198.2 338.3 197.7 338.4 198.2 338.4 197.0 338.5 197.1 338.6 197.0 338.6 198.6 338.7 200.5 338.8 199.2 338.8 196.2 338.9 196.7 339.0 191.6 339.0 193.4 339.1 195.5 339.2 200.8 339.2 196.9 339.3 192.3 339.3 190.8 339.4 188.0 339.5 191.9 339.5 188.1 339.6 186.4 339.7 186.4 339.7 186.4 339.8 186.4 339.9 186.4 340.0 189.8 340.0 192.5 340.1 190.3 340.2 195.9 340.2 198.6 340.3 201.0 340.4 203.6 340.4 199.2 340.5 204.3 340.6 202.0 340.6 203.8 340.7 205.0 340.8 206.3 340.8 210.6 340.9 210.7 341.0 211.4 341.0 212.8 341.1 216.3 341.2 214.9 341.2 218.2 341.3 222.0 341.4 224.6 341.4 227.0 341.5 228.9 341.6 228.3 341.6 228.9 341.7 228.9 341.8 227.7 341.8 228.9 341.9 228.9 342.0 228.9 342.0 228.9 342.1 228.9 342.2 228.9 342.2 226.7 342.3 228.9 342.4 225.4 342.4 227.6 342.5 226.1 342.6 222.2 342.6 220.4 342.7 223.2 342.8 222.3 342.8 224.0 342.9 219.2 343.0 219.8 343.0 217.8 343.1 218.2 343.1 222.1 343.2 222.6 343.3 222.6 343.3 224.5 343.4 228.5 343.5 226.0 343.5 222.7 343.6 220.0 343.7 223.8 343.7 219.5 343.8 219.7 343.9 221.1 343.9 217.0 344.0 218.0 344.1 217.0 344.1 213.9 344.2 208.9 344.3 209.4 344.3 205.2 344.4 202.7 344.5 203.9 344.5 199.7 344.6 194.2 344.7 196.0 344.7 197.3 344.8 193.0 344.9 189.6 344.9 194.9 345.0 192.0 345.1 198.0 345.1 194.4 345.2 192.4 345.3 188.7 345.3 191.2 345.4 190.2 345.5 191.7 345.5 191.8 345.6 191.6 345.7 193.7 345.7 192.8 345.8 190.6 345.9 194.7 345.9 192.7 346.0 194.5 346.1 194.8 346.1 199.1 346.2 193.5 346.3 197.7 346.3 197.4 346.4 194.0 346.5 192.5 346.5 194.0 346.6 191.1 346.7 189.4 346.7 187.1 346.8 185.5 346.9 186.5 346.9 184.3 347.0 184.6 347.1 175.7 347.1 179.0 347.2 178.5 347.3 180.8 347.3 180.3 347.4 176.1 347.5 176.8 347.5 172.4 347.6 178.0 347.7 171.7 347.7 170.7 347.8 168.1 347.9 167.9 347.9 165.8 348.0 165.1 348.1 174.5 348.1 166.4 348.2 165.3 348.3 171.6 348.3 165.7 348.4 168.6 348.5 174.2 348.5 171.2 348.6 169.1 348.7 168.3 348.7 171.1 348.8 163.5 348.9 167.7 348.9 171.2 349.0 168.4 349.1 172.5 349.1 175.1 349.2 180.3 349.3 179.8 349.3 177.9 349.4 175.9 349.5 176.9 349.5 178.4 349.6 177.8 349.7 177.0 349.7 174.3 349.8 171.0 349.9 176.0 349.9 173.8 350.0 176.8 350.1 175.9 350.1 171.5 350.2 172.9 350.3 169.1 350.3 172.0 350.4 169.6 350.5 171.4 350.5 167.6 350.6 166.4 350.7 163.9 350.7 160.6 350.8 161.8 350.9 160.5 350.9 155.0 351.0 160.3 351.1 163.3 351.1 164.9 351.2 162.1 351.3 168.9 351.3 164.8 351.4 167.9 351.5 168.3 351.5 165.3 351.6 163.0 351.7 167.1 351.7 164.2 351.8 164.5 351.9 166.3 351.9 160.8 352.0 172.6 352.1 167.5 352.1 167.4 352.2 165.4 352.3 162.1 352.3 159.1 352.4 160.7 352.5 162.7 352.5 163.8 352.6 162.0 352.7 160.7 352.7 161.2 352.8 158.8 352.9 161.4 352.9 156.0 353.0 158.5 353.1 162.6 353.1 156.6 353.2 155.4 353.3 162.4 353.3 163.3 353.4 159.3 353.5 163.0 353.5 159.2 353.6 158.4 353.7 158.8 353.7 160.5 353.8 158.1 353.9 161.6 353.9 160.6 354.0 167.9 354.1 164.4 354.1 166.9 354.2 165.0 354.2 163.4 354.3 162.8 354.4 163.4 354.4 163.2 354.5 161.3 354.6 166.4 354.6 160.3 354.7 159.8 354.8 165.1 354.8 156.8 354.9 161.1 355.0 162.1 355.0 150.5 355.1 152.1 355.2 154.4 355.2 154.5 355.3 149.5 355.4 152.8 355.4 153.5 355.5 150.3 355.6 151.9 355.6 154.6 355.7 151.2 355.8 156.1 355.8 159.0 355.9 157.4 356.0 154.9 356.0 158.4 356.1 160.2 356.2 164.0 356.2 160.2 356.3 161.4 356.4 158.0 356.4 160.3 356.5 161.5 356.6 159.3 356.6 160.0 356.7 161.3 356.8 163.0 356.8 162.8 356.9 158.8 357.0 160.0 357.0 162.4 357.1 158.5 357.2 157.1 357.2 160.4 357.3 161.8 357.4 161.5 357.4 159.7 357.5 158.9 357.6 161.5 357.6 162.9 357.7 157.2 357.8 161.2 357.8 158.1 357.9 158.9 358.0 153.1 358.0 159.0 358.1 161.8 358.2 160.1 358.2 160.3 358.3 157.1 358.4 161.6 358.4 165.1 358.5 164.3 358.6 166.2 358.6 166.2 358.7 169.5 358.8 169.6 358.8 165.4 358.9 171.1 359.0 170.2 359.0 168.7 359.1 174.4 359.2 171.8 359.2 173.3 359.3 177.0 359.4 177.9 359.4 173.6 359.5 171.7 359.6 169.0 359.6 172.7 359.7 168.6 359.8 168.6 359.8 169.0 359.9 167.9 360.0 167.4 360.0 167.9 360.1 164.5 360.2 165.2 360.2 169.5 360.3 166.4 360.4 163.7 360.4 162.9 360.5 161.8 360.6 160.3 360.6 165.9 360.7 160.1 360.8 163.0 360.8 160.6 360.9 158.3 361.0 154.9 361.0 160.0 361.1 155.9 361.2 153.7 361.2 151.4 361.3 154.3 361.4 154.2 361.4 155.5 361.5 158.5 361.6 154.6 361.6 154.0 361.7 154.7 361.8 156.8 361.8 156.2 361.9 153.7 362.0 148.7 362.0 151.6 362.1 151.9 362.2 152.5 362.2 155.7 362.3 150.5 362.4 150.1 362.4 149.6 362.5 150.5 362.6 148.9 362.6 151.7 362.7 145.3 362.8 146.7 362.8 145.4 362.9 150.1 363.0 146.9 363.0 147.6 363.1 145.5 363.2 150.3 363.2 151.6 363.3 147.0 363.4 149.9 363.4 148.3 363.5 149.0 363.6 150.5 363.6 145.5 363.7 141.2 363.8 142.7 363.8 138.0 363.9 134.2 364.0 134.0 364.0 134.2 364.1 132.2 364.2 136.0 364.2 137.1 364.3 134.0 364.4 137.1 364.4 136.4 364.5 140.2 364.6 139.1 364.6 139.4 364.7 142.2 364.8 136.4 364.8 138.3 364.9 135.1 365.0 139.6 365.0 142.9 365.1 141.5 365.2 142.5 365.2 147.0 365.3 151.1 365.3 147.8 365.4 148.6 365.5 149.8 365.5 145.5 365.6 151.1 365.7 151.3 365.7 154.5 365.8 158.0 365.9 155.4 365.9 153.9 366.0 153.2 366.1 150.3 366.1 156.3 366.2 155.8 366.3 159.4 366.3 155.4 366.4 159.8 366.5 154.8 366.5 148.9 366.6 154.9 366.7 154.3 366.7 153.0 366.8 152.3 366.9 148.2 366.9 146.5 367.0 142.7 367.1 143.4 367.1 137.7 367.2 139.4 367.3 132.5 367.3 134.3 367.4 130.0 367.5 127.9 367.5 131.0 367.6 129.3 367.7 125.5 367.7 123.2 367.8 123.2 367.8 123.2 367.9 129.8 368.0 125.8 368.1 128.5 368.1 128.5 368.2 129.5 368.3 136.7 368.3 129.3 368.4 128.5 368.5 126.2 368.5 131.9 368.6 132.3 368.7 132.3 368.7 126.8 368.8 133.1 368.9 131.1 368.9 125.8 369.0 123.2 369.1 129.1 369.1 130.2 369.2 131.4 369.3 132.9 369.3 136.7 369.4 134.1 369.5 135.6 369.5 137.1 369.6 141.7 369.7 143.3 369.7 139.7 369.8 135.4 369.9 140.2 369.9 137.4 370.0 142.8 370.1 138.0 370.1 135.7 370.2 142.1 370.3 140.6 370.3 139.9 370.4 143.6 370.5 142.8 370.5 143.3 370.6 141.4 370.7 148.8 370.7 150.1 370.8 142.2 370.9 139.9 370.9 143.0 371.0 142.1 371.1 141.5 371.1 139.2 371.2 146.2 371.3 141.9 371.3 148.0 371.4 140.5 371.5 137.2 371.5 135.8 371.6 139.0 371.7 141.5 371.7 140.6 371.8 138.2 371.9 139.5 371.9 139.8 372.0 138.4 372.1 136.7 372.1 138.0 372.2 134.6 372.3 134.9 372.3 136.7 372.4 136.2 372.5 141.2 372.5 145.8 372.6 144.2 372.7 139.6 372.7 137.2 372.8 140.2 372.9 138.4 372.9 142.6 373.0 137.5 373.1 141.6 373.1 135.6 373.2 138.9 373.3 141.9 373.3 136.2 373.4 140.2 373.5 138.6 373.5 136.7 373.6 143.2 373.7 146.8 373.7 141.1 373.8 142.0 373.9 142.9 373.9 138.8 374.0 133.9 374.1 130.6 374.1 129.8 374.2 129.4 374.2 130.3 374.3 125.7 374.4 127.9 374.4 126.4 374.5 126.4 374.6 128.3 374.6 124.4 374.7 124.4 374.8 124.4 374.8 129.9 374.9 128.8 375.0 129.5 375.0 127.3 375.1 124.4 375.2 124.4 375.2 127.4 375.3 124.4 375.4 125.8 375.4 131.5 375.5 140.2 375.6 140.2 375.6 142.7 375.7 141.6 375.8 141.3 375.8 139.9 375.9 142.3 376.0 142.7 376.0 140.6 376.1 137.3 376.2 135.9 376.2 134.4 376.3 135.5 376.4 137.8 376.4 140.3 376.5 140.0 376.6 135.3 376.6 137.6 376.7 135.9 376.8 136.7 376.8 138.5 376.9 139.2 377.0 139.7 377.0 142.2 377.1 139.8 377.2 135.0 377.2 136.5 377.3 139.9 377.4 139.5 377.4 141.8 377.5 136.6 377.6 135.4 377.6 138.8 377.7 142.5 377.8 136.6 377.8 139.7 377.9 141.3 378.0 146.1 378.0 145.1 378.1 147.9 378.2 146.3 378.2 147.1 378.3 147.3 378.4 147.4 378.4 150.4 378.5 149.2 378.6 155.1 378.6 153.7 378.7 150.5 378.8 149.4 378.8 150.4 378.9 155.2 379.0 150.4 379.0 156.1 379.1 159.3 379.2 157.7 379.2 159.2 379.3 162.6 379.4 158.2 379.4 157.2 379.5 160.6 379.6 155.1 379.6 152.4 379.7 157.5 379.8 157.1 379.8 156.8 379.9 158.0 380.0 160.3 380.0 157.3 380.1 161.1 380.2 159.4 380.2 159.3 380.3 158.0 380.4 155.5 380.4 157.9 380.5 156.9 380.6 157.9 380.6 159.3 380.7 161.6 380.8 161.6 380.8 163.3 380.9 155.6 381.0 157.3 381.0 159.1 381.1 159.7 381.2 161.7 381.2 161.8 381.3 165.3 381.4 163.2 381.4 162.9 381.5 160.7 381.6 160.9 381.6 159.4 381.7 154.3 381.8 155.7 381.8 158.7 381.9 159.9 382.0 152.7 382.0 149.8 382.1 153.1 382.2 160.6 382.2 160.0 382.3 165.0 382.4 165.9 382.4 166.0 382.5 168.7 382.6 166.9 382.6 163.9 382.7 172.2 382.8 168.9 382.8 169.6 382.9 170.7 383.0 173.8 383.0 175.3 383.1 177.2 383.2 175.2 383.2 179.3 383.3 177.0 383.4 174.5 383.4 173.0 383.5 176.5 383.6 174.9 383.6 174.3 383.7 177.0 383.8 182.3 383.8 178.3 383.9 177.5 384.0 181.4 384.0 179.3 384.1 179.1 384.2 180.3 384.2 182.3 384.3 181.6 384.4 182.8 384.4 186.9 384.5 183.9 384.6 185.7 384.6 186.2 384.7 183.3 384.8 187.3 384.8 187.4 384.9 191.3 385.0 193.7 385.0 195.7 385.1 201.8 385.1 199.4 385.2 198.7 385.3 195.7 385.3 194.4 385.4 196.8 385.5 192.0 385.5 187.7 385.6 185.7 385.7 183.3 385.7 180.0 385.8 178.8 385.9 186.0 386.0 182.6 386.0 179.1 386.1 180.9 386.2 175.2 386.2 172.0 386.3 174.7 386.4 177.3 386.4 174.5 386.5 174.2 386.6 176.6 386.6 176.6 386.7 173.7 386.8 178.5 386.8 172.1 386.9 176.2 387.0 175.8 387.0 173.4 387.1 178.7 387.2 175.1 387.2 179.6 387.3 176.8 387.4 172.6 387.4 170.6 387.5 171.8 387.6 169.1 387.6 171.0 387.7 173.5 387.7 172.7 387.8 173.6 387.9 174.1 387.9 170.4 388.0 171.1 388.1 172.5 388.1 175.9 388.2 176.2 388.3 174.4 388.3 173.6 388.4 176.9 388.5 178.5 388.5 177.7 388.6 177.7 388.7 174.5 388.7 182.2 388.8 179.7 388.9 186.1 388.9 181.1 389.0 177.0 389.1 179.4 389.1 179.3 389.2 182.6 389.3 183.3 389.3 185.5 389.4 183.1 389.5 184.8 389.5 186.3 389.6 184.1 389.7 182.7 389.7 181.9 389.8 188.3 389.9 187.3 389.9 189.1 390.0 184.7 390.1 183.5 390.1 187.9 390.2 186.8 390.3 180.0 390.3 180.5 390.4 181.8 390.5 181.8 390.5 181.3 390.6 184.5 390.7 182.5 390.7 184.6 390.8 185.8 390.9 189.5 390.9 186.4 391.0 188.2 391.1 190.5 391.1 190.1 391.2 189.4 391.3 192.2 391.3 189.9 391.4 193.6 391.5 194.7 391.5 193.1 391.6 197.7 391.7 196.7 391.7 196.9 391.8 198.1 391.9 196.2 391.9 199.0 392.0 196.5 392.1 198.5 392.1 204.3 392.2 206.0 392.3 209.3 392.4 210.3 392.4 217.7 392.5 212.0 392.6 217.7 392.6 219.3 392.7 224.1 392.8 225.2 392.8 227.3 392.9 224.4 393.0 223.6 393.0 221.0 393.1 218.1 393.1 216.5 393.2 212.1 393.3 213.4 393.3 213.5 393.4 211.5 393.5 213.7 393.5 210.3 393.6 208.4 393.7 208.7 393.7 208.7 393.8 206.0 393.9 203.1 393.9 202.9 394.0 198.3 394.1 201.7 394.1 201.4 394.2 207.8 394.3 204.2 394.3 207.1 394.4 204.9 394.5 206.7 394.5 209.3 394.6 212.0 394.7 209.9 394.7 207.1 394.8 207.6 394.9 202.6 394.9 205.7 395.0 211.3 395.1 207.7 395.1 200.9 395.2 201.4 395.3 199.6 395.3 199.8 395.4 196.7 395.5 197.3 395.5 198.8 395.6 200.4 395.7 201.2 395.7 198.0 395.8 197.6 395.9 198.4 395.9 196.9 396.0 199.0 396.1 195.1 396.1 197.4 396.2 196.0 396.3 195.9 396.3 198.2 396.4 196.7 396.5 196.7 396.5 195.3 396.6 191.5 396.7 191.6 396.7 193.2 396.8 190.2 396.9 187.6 396.9 187.3 397.0 188.9 397.1 186.2 397.1 187.1 397.2 192.8 397.3 187.9 397.3 186.5 397.4 191.6 397.5 193.5 397.5 193.4 397.6 189.0 397.7 193.7 397.7 194.1 397.8 193.4 397.9 191.5 397.9 195.8 398.0 196.6 398.1 194.6 398.1 202.8 398.2 198.6 398.3 202.0 398.3 203.1 398.4 201.4 398.5 202.5 398.5 202.4 398.6 199.0 398.7 198.8 398.7 200.2 398.8 198.9 398.8 196.8 398.9 199.3 399.0 197.6 399.0 203.3 399.1 197.4 399.2 197.8 399.2 197.4 399.3 202.8 399.4 195.2 399.4 197.5 399.5 198.8 399.6 196.6 399.6 198.2 399.7 198.3 399.8 198.6 399.8 206.5 399.9 199.6 400.0 195.7 400.0 198.1 400.1 197.4 400.2 203.5 400.2 201.2 400.3 197.2 400.4 196.4 400.4 195.5 400.5 190.9 400.6 191.8 400.6 187.2 400.7 189.2 400.8 189.4 400.8 190.5 400.9 186.7 401.0 185.1 401.0 187.1 401.1 184.6 401.2 186.2 401.2 191.0 401.3 187.9 401.4 188.6 401.4 195.1 401.5 186.5 401.6 188.8 401.6 193.7 401.7 195.1 401.8 195.6 401.8 195.1 401.9 196.4 402.0 196.2 402.0 193.1 402.1 192.6 402.2 193.7 402.2 194.4 402.3 194.9 402.4 195.5 402.4 199.0 402.5 197.7 402.6 194.7 402.6 196.9 402.7 194.5 402.8 198.4 402.8 203.1 402.9 203.8 403.0 206.1 403.0 206.7 403.1 208.9 403.2 206.6 403.2 210.2 403.3 207.1 403.4 205.9 403.4 207.6 403.5 205.6 403.6 206.0 403.6 201.9 403.7 205.4 403.8 207.7 403.8 207.8 403.9 210.0 404.0 210.4 404.0 210.7 404.1 207.8 404.2 210.0 404.2 211.2 404.3 211.6 404.4 206.1 404.4 208.5 404.5 210.0 404.6 211.6 404.6 212.7 404.7 213.4 404.8 216.6 404.8 214.4 404.9 217.8 405.0 223.3 405.0 219.5 405.1 224.5 405.2 222.3 405.2 225.8 405.3 225.1 405.4 224.9 405.4 226.4 405.5 227.2 405.6 226.1 405.6 227.2 405.7 224.2 405.8 226.1 405.8 222.9 405.9 228.7 406.0 229.6 406.0 229.8 406.1 229.2 406.2 232.8 406.2 239.9 406.3 239.9 406.4 239.7 406.4 243.2 406.5 245.2 406.6 248.9 406.6 247.6 406.7 248.6 406.8 251.3 406.8 254.1 406.9 258.5 407.0 254.6 407.0 251.5 407.1 245.5 407.2 242.1 407.2 237.4 407.3 234.0 407.4 238.9 407.4 234.6 407.5 238.2 407.6 238.2 407.6 238.4 407.7 236.4 407.8 233.9 407.8 239.0 407.9 236.9 408.0 234.9 408.0 235.5 408.1 236.5 408.2 235.8 408.2 237.7 408.3 238.5 408.4 236.9 408.4 236.1 408.5 237.1 408.6 235.6 408.6 236.6 408.7 239.8 408.8 237.9 408.8 238.1 408.9 240.3 409.0 241.9 409.0 245.7 409.1 240.1 409.2 242.7 409.2 245.6 409.3 241.7 409.4 246.4 409.4 242.6 409.5 244.8 409.6 245.3 409.6 249.2 409.7 247.6 409.8 251.0 409.8 250.7 409.9 253.8 410.0 256.7 410.0 255.3 410.1 255.8 410.2 257.7 410.2 257.9 410.3 257.1 410.4 260.3 410.4 262.4 410.5 260.6 410.6 259.9 410.6 253.5 410.7 253.8 410.8 250.1 410.8 248.3 410.9 247.3 411.0 245.9 411.0 245.0 411.1 242.8 411.2 242.2 411.2 239.9 411.3 241.4 411.3 242.3 411.4 242.2 411.5 239.2 411.5 239.7 411.6 239.0 411.7 238.0 411.7 238.1 411.8 236.8 411.9 235.1 411.9 235.6 412.0 233.3 412.1 235.6 412.1 233.3 412.2 234.7 412.3 234.2 412.3 235.0 412.4 232.9 412.5 233.9 412.5 232.8 412.6 232.1 412.7 231.8 412.7 230.5 412.8 232.8 412.9 233.2 412.9 234.4 413.0 235.7 413.1 234.6 413.1 232.9 413.2 238.7 413.3 238.8 413.3 239.3 413.4 239.7 413.5 240.9 413.5 240.4 413.6 239.2 413.7 240.7 413.7 239.8 413.8 240.3 413.9 240.2 413.9 240.5 414.0 240.4 414.1 239.7 414.1 241.3 414.2 243.3 414.3 242.2 414.3 245.1 414.4 244.9 414.5 244.2 414.5 248.6 414.6 248.5 414.7 247.6 414.7 248.5 414.8 250.2 414.9 250.0 414.9 248.4 415.0 246.7 415.1 244.8 415.1 246.2 415.2 247.0 415.3 247.2 415.3 247.1 415.4 248.5 415.5 246.9 415.5 249.1 415.6 247.8 415.7 248.0 415.7 248.1 415.8 248.9 415.9 246.9 415.9 248.2 416.0 248.7 416.1 249.0 416.1 250.7 416.2 251.0 416.3 253.6 416.3 252.3 416.4 252.4 416.5 252.1 416.5 250.4 416.6 253.8 416.7 256.6 416.7 254.4 416.8 254.7 416.9 251.2 416.9 252.3 417.0 250.5 417.1 249.6 417.1 251.9 417.2 253.2 417.2 251.4 417.3 252.2 417.4 254.0 417.4 258.0 417.5 258.0 417.6 258.0 417.6 254.9 417.7 252.9 417.8 251.4 417.8 250.9 417.9 254.2 418.0 252.0 418.0 252.0 418.1 255.1 418.2 252.2 418.3 252.4 418.3 252.8 418.4 249.2 418.5 247.3 418.5 245.7 418.6 245.6 418.7 243.0 418.7 243.8 418.8 243.9 418.9 244.6 418.9 242.4 419.0 242.3 419.1 242.7 419.1 243.4 419.2 241.2 419.3 243.7 419.3 242.3 419.4 240.7 419.5 242.1 419.5 242.6 419.6 240.3 419.7 237.7 419.7 238.1 419.8 236.4 419.9 235.5 419.9 235.5 420.0 234.4 420.1 234.1 420.1 233.4 420.2 232.8 420.3 232.7 420.3 233.0 420.4 233.4 420.5 231.9 420.5 232.8 420.6 230.3 420.7 230.0 420.7 230.0 420.8 228.7 420.9 227.6 420.9 228.6 421.0 229.2 421.1 227.7 421.1 227.9 421.2 227.8 421.2 227.5 421.3 224.2 421.4 228.5 421.4 226.9 421.5 224.8 421.6 227.5 421.6 226.8 421.7 226.0 421.8 223.1 421.8 223.9 421.9 224.1 422.0 225.7 422.0 226.0 422.1 224.8 422.2 225.7 422.2 226.1 422.3 225.5 422.4 228.4 422.4 226.7 422.5 227.7 422.6 225.7 422.6 226.5 422.7 224.4 422.8 224.5 422.8 223.2 422.9 223.0 423.0 222.3 423.0 224.7 423.1 225.1 423.2 223.8 423.2 223.3 423.3 224.9 423.4 225.7 423.4 225.5 423.5 222.5 423.6 224.4 423.6 224.1 423.7 222.9 423.8 225.1 423.8 224.8 423.9 225.0 424.0 222.8 424.0 220.8 424.1 222.2 424.2 222.8 424.2 223.5 424.3 221.9 424.4 222.4 424.4 222.3 424.5 222.6 424.6 222.5 424.6 220.0 424.7 220.1 424.8 220.2 424.8 221.3 424.9 221.2 425.0 220.9 425.0 221.7 425.1 221.9 425.2 219.8 425.2 218.6 425.3 218.7 425.4 219.5 425.4 220.2 425.5 221.6 425.6 220.5 425.6 220.2 425.7 221.6 425.8 219.1 425.8 223.0 425.9 220.8 426.0 222.5 426.0 222.2 426.1 223.2 426.2 222.6 426.2 224.4 426.3 221.6 426.4 220.9 426.4 224.0 426.5 221.5 426.6 220.6 426.6 221.3 426.7 223.1 426.8 221.7 426.8 220.9 426.9 220.6 427.0 219.3 427.0 218.6 427.1 218.5 427.2 221.5 427.2 219.8 427.3 220.1 427.4 216.9 427.4 219.7 427.5 217.7 427.6 215.8 427.6 215.5 427.7 216.1 427.8 216.6 427.8 211.9 427.9 211.8 428.0 211.9 428.0 210.7 428.1 211.6 428.2 211.6 428.2 214.0 428.3 213.1 428.4 210.4 428.4 210.4 428.5 211.0 428.6 213.4 428.6 212.9 428.7 211.7 428.8 212.8 428.8 210.7 428.9 209.7 429.0 212.3 429.0 213.6 429.1 214.0 429.2 213.6 429.2 212.9 429.3 214.1 429.4 213.6 429.4 213.7 429.5 213.7 429.6 210.2 429.6 210.1 429.7 211.3 429.8 210.2 429.8 209.1 429.9 208.9 430.0 206.2 430.0 205.5 430.1 205.6 430.2 205.7 430.2 206.0 430.3 204.7 430.4 203.0 430.4 204.5 430.5 203.6 430.6 201.7 430.6 202.7 430.7 202.9 430.8 203.3 430.8 201.0 430.9 199.6 431.0 200.2 431.0 200.0 431.1 200.5 431.2 200.6 431.2 201.2 431.3 199.4 431.4 198.4 431.4 200.6 431.5 199.7 431.6 200.0 431.6 198.6 431.7 199.2 431.8 197.8 431.8 199.6 431.9 199.3 432.0 199.4 432.0 199.8 432.1 197.2 432.2 197.3 432.2 195.9 432.3 197.4 432.3 196.7 432.4 197.5 432.5 197.5 432.5 199.1 432.6 200.8 432.7 200.0 432.7 197.9 432.8 197.0 432.9 199.7 432.9 199.1 433.0 198.8 433.1 198.5 433.1 199.5 433.2 197.5 433.3 197.1 433.3 198.0 433.4 198.3 433.5 194.7 433.5 193.9 433.6 193.6 433.7 195.3 433.7 194.1 433.8 196.2 433.9 194.7 433.9 195.1 434.0 195.8 434.1 195.7 434.1 197.7 434.2 195.0 434.3 197.2 434.3 198.0 434.4 196.5 434.5 198.6 434.5 196.3 434.6 196.9 434.7 196.4 434.7 199.0 434.8 197.6 434.9 198.2 434.9 198.0 435.0 196.4 435.1 194.9 435.1 197.6 435.2 200.3 435.3 200.2 435.3 201.0 435.4 198.8 435.5 200.0 435.5 201.1 435.6 200.0 435.7 199.7 435.7 200.1 435.8 201.0 435.9 199.8 435.9 200.9 436.0 198.6 436.1 199.6 436.1 198.9 436.2 200.2 436.3 201.1 436.3 201.4 436.4 202.3 436.5 198.2 436.5 201.1 436.6 201.7 436.7 200.0 436.7 203.3 436.8 202.7 436.9 199.7 436.9 201.6 437.0 201.4 437.1 198.9 437.1 198.3 437.2 198.2 437.3 198.8 437.3 197.6 437.4 197.8 437.5 197.5 437.5 196.8 437.6 195.5 437.7 195.9 437.7 197.3 437.8 196.6 437.9 197.2 437.9 198.6 438.0 202.0 438.1 195.4 438.1 196.1 438.2 196.0 438.3 197.2 438.3 196.6 438.4 198.7 438.5 196.5 438.5 199.1 438.6 197.4 438.7 198.2 438.7 197.3 438.8 197.4 438.9 199.3 438.9 198.3 439.0 197.7 439.1 197.0 439.1 196.9 439.2 196.0 439.3 196.8 439.3 194.9 439.4 194.8 439.5 197.0 439.5 197.9 439.6 197.5 439.7 197.7 439.7 198.1 439.8 197.6 439.9 198.7 439.9 199.8 440.0 200.5 440.1 202.9 440.1 199.9 440.2 202.2 440.3 201.6 440.3 202.3 440.4 201.2 440.5 200.9 440.5 200.5 440.6 201.6 440.7 202.7 440.7 202.1 440.8 201.4 440.9 199.4 440.9 199.6 441.0 198.2 441.1 199.2 441.1 199.9 441.2 199.2 441.3 200.6 441.3 198.9 441.4 199.5 441.5 200.9 441.5 199.4 441.6 199.5 441.7 197.9 441.7 201.0 441.8 200.6 441.9 199.4 441.9 200.8 442.0 201.2 442.1 200.8 442.1 201.7 442.2 200.9 442.3 199.8 442.3 200.7 442.4 198.0 442.5 197.9 442.5 196.9 442.6 198.6 442.7 200.2 442.7 199.0 442.8 196.8 442.9 199.7 442.9 199.8 443.0 199.8 443.1 201.1 443.1 198.7 443.2 199.9 443.3 199.9 443.3 198.6 443.4 198.1 443.5 200.2 443.5 199.7 443.6 199.5 443.6 198.9 443.7 200.1 443.8 200.3 443.8 198.6 443.9 197.5 444.0 200.6 444.0 198.2 444.1 201.3 444.2 205.1 444.2 203.0 444.3 202.6 444.4 201.6 444.4 200.9 444.5 201.2 444.6 197.5 444.6 196.2 444.7 197.6 444.8 196.2 444.8 198.0 444.9 196.8 445.0 194.5 445.0 194.7 445.1 196.7 445.2 196.7 445.2 198.1 445.3 194.7 445.4 196.4 445.4 194.1 445.5 193.8 445.6 194.5 445.6 190.5 445.7 189.5 445.8 190.3 445.8 189.7 445.9 189.2 446.0 188.2 446.0 188.9 446.1 189.6 446.2 189.9 446.2 189.6 446.3 188.8 446.4 188.6 446.4 186.4 446.5 189.2 446.6 187.0 446.6 186.1 446.7 188.4 446.8 188.1 446.8 185.4 446.9 183.8 447.0 182.8 447.0 183.8 447.1 185.0 447.2 184.5 447.2 184.9 447.3 182.6 447.4 182.9 447.4 183.6 447.5 182.4 447.6 183.1 447.6 182.0 447.7 181.7 447.8 181.1 447.8 185.2 447.9 185.1 448.0 184.9 448.0 184.3 448.1 183.4 448.2 186.9 448.2 184.2 448.3 186.7 448.4 188.4 448.4 186.4 448.5 186.8 448.6 185.5 448.6 186.7 448.7 187.4 448.8 185.3 448.8 188.3 448.9 187.7 449.0 185.6 449.0 185.7 449.1 187.4 449.2 185.3 449.2 187.0 449.3 188.1 449.4 188.8 449.4 187.8 449.5 187.1 449.6 186.9 449.6 183.9 449.7 183.3 449.8 184.7 449.8 187.1 449.9 187.7 450.0 185.1 450.0 184.3 450.1 186.8 450.2 189.5 450.2 188.4 450.3 187.7 450.4 184.3 450.4 183.8 450.5 183.2 450.6 183.2 450.6 183.7 450.7 184.0 450.8 184.2 450.8 183.6 450.9 185.6 451.0 185.8 451.0 184.8 451.1 184.7 451.2 184.6 451.2 182.8 451.3 183.9 451.4 184.2 451.4 187.0 451.5 187.2 451.6 185.3 451.6 183.5 451.7 183.1 451.8 188.2 451.8 188.2 451.9 187.5 452.0 188.5 452.0 183.9 452.1 185.0 452.2 185.9 452.2 184.8 452.3 184.1 452.4 185.4 452.4 187.5 452.5 188.5 452.6 189.0 452.6 187.6 452.7 189.9 452.8 187.8 452.8 190.9 452.9 190.4 453.0 189.3 453.0 191.2 453.1 189.5 453.2 190.0 453.2 191.3 453.3 191.9 453.4 190.6 453.4 189.1 453.5 190.4 453.6 190.1 453.6 190.2 453.7 190.3 453.8 186.6 453.8 187.8 453.9 187.2 454.0 185.8 454.0 187.9 454.1 188.3 454.2 188.0 454.2 185.5 454.3 186.3 454.4 185.3 454.4 184.6 454.5 186.6 454.6 183.3 454.6 186.7 454.7 185.5 454.7 183.4 454.8 185.4 454.9 187.7 454.9 185.5 455.0 183.5 455.1 185.3 455.1 184.2 455.2 184.6 455.3 184.2 455.3 183.8 455.4 182.4 455.5 186.2 455.5 185.2 455.6 185.0 455.7 186.3 455.7 184.5 455.8 185.7 455.9 187.7 455.9 187.0 456.0 188.2 456.1 185.5 456.1 185.9 456.2 188.7 456.3 185.0 456.3 185.4 456.4 185.2 456.5 184.5 456.5 182.7 456.6 182.5 456.7 181.9 456.7 182.9 456.8 181.9 456.9 182.6 456.9 183.6 457.0 184.0 457.1 180.7 457.1 181.6 457.2 180.9 457.3 179.3 457.3 180.4 457.4 178.8 457.5 177.6 457.5 178.1 457.6 173.8 457.7 175.3 457.7 176.0 457.8 176.8 457.9 177.1 457.9 179.0 458.0 178.8 458.1 180.8 458.1 179.0 458.2 180.3 458.3 177.0 458.3 178.3 458.4 179.6 458.5 179.5 458.5 180.6 458.6 180.0 458.7 179.5 458.7 179.3 458.8 179.0 458.9 180.1 458.9 181.0 459.0 179.5 459.1 172.8 459.1 174.3 459.2 174.5 459.3 175.6 459.3 178.6 459.4 178.8 459.5 178.3 459.5 179.5 459.6 182.3 459.7 181.7 459.7 180.9 459.8 181.8 459.9 180.9 459.9 180.1 460.0 181.3 460.1 180.3 460.1 180.1 460.2 178.9 460.3 178.6 460.3 179.6 460.4 180.4 460.5 181.1 460.5 181.1 460.6 180.4 460.7 180.4 460.7 179.3 460.8 181.0 460.9 180.9 460.9 181.1 461.0 182.5 461.1 182.1 461.1 182.9 461.2 179.8 461.3 182.2 461.3 182.3 461.4 184.4 461.5 182.8 461.5 185.5 461.6 183.6 461.7 182.6 461.7 181.0 461.8 178.9 461.9 180.1 461.9 177.6 462.0 176.0 462.1 176.8 462.1 175.3 462.2 176.6 462.3 175.8 462.3 175.9 462.4 175.1 462.5 176.3 462.5 172.9 462.6 175.8 462.7 174.9 462.7 174.9 462.8 175.3 462.9 176.6 462.9 175.6 463.0 173.2 463.1 174.7 463.1 172.3 463.2 174.1 463.3 176.0 463.3 176.7 463.4 173.9 463.5 176.0 463.5 178.1 463.6 173.6 463.7 173.5 463.7 175.0 463.8 175.6 463.9 175.6 463.9 174.5 464.0 173.8 464.1 174.2 464.1 178.6 464.2 178.1 464.3 175.9 464.3 176.8 464.4 174.8 464.5 174.9 464.5 175.0 464.6 175.9 464.7 176.9 464.7 174.1 464.8 174.8 464.9 177.0 464.9 176.1 465.0 174.9 465.1 174.7 465.1 172.4 465.2 172.0 465.3 173.6 465.3 173.7 465.4 172.0 465.5 172.6 465.5 170.8 465.6 172.8 465.7 171.6 465.7 169.6 465.8 169.8 465.8 169.0 465.9 169.0 466.0 166.1 466.0 168.8 466.1 168.9 466.2 166.1 466.2 166.2 466.3 169.4 466.4 172.2 466.4 168.9 466.5 170.0 466.6 170.7 466.6 169.9 466.7 168.7 466.8 168.4 466.8 168.6 466.9 168.1 467.0 168.0 467.0 170.1 467.1 169.8 467.2 170.4 467.2 168.9 467.3 170.6 467.4 171.6 467.4 170.5 467.5 172.5 467.6 171.2 467.6 169.3 467.7 171.3 467.8 172.1 467.8 171.7 467.9 171.1 468.0 172.1 468.0 173.2 468.1 171.8 468.2 169.6 468.2 167.9 468.3 166.5 468.4 167.7 468.4 168.0 468.5 166.5 468.6 168.2 468.6 166.3 468.7 164.7 468.8 165.6 468.8 162.2 468.9 162.1 469.0 164.6 469.0 163.1 469.1 166.0 469.2 164.1 469.2 164.0 469.3 163.7 469.4 163.6 469.4 162.8 469.5 162.4 469.6 165.0 469.6 163.1 469.7 163.9 469.8 162.3 469.8 165.1 469.9 162.1 470.0 163.5 470.0 163.4 470.1 162.9 470.2 163.8 470.2 167.0 470.3 166.3 470.4 164.1 470.4 165.9 470.5 166.8 470.6 166.0 470.6 166.9 470.7 166.9 470.8 169.9 470.8 167.2 470.9 166.7 471.0 167.6 471.0 169.1 471.1 168.7 471.2 169.4 471.2 170.2 471.3 170.6 471.4 167.7 471.4 170.9 471.5 171.2 471.6 170.6 471.6 171.2 471.7 167.2 471.8 168.3 471.8 168.3 471.9 170.1 472.0 167.2 472.0 168.4 472.1 169.2 472.2 168.8 472.2 169.6 472.3 168.1 472.4 170.9 472.4 169.9 472.5 171.9 472.6 172.5 472.6 170.4 472.7 170.7 472.8 172.4 472.8 170.9 472.9 171.2 473.0 169.0 473.0 169.3 473.1 167.7 473.2 170.0 473.2 170.8 473.3 170.0 473.4 170.4 473.4 171.7 473.5 170.4 473.6 168.5 473.6 168.4 473.7 169.4 473.8 170.4 473.8 169.6 473.9 169.9 474.0 172.1 474.0 171.2 474.1 171.8 474.2 170.4 474.2 169.7 474.3 171.6 474.4 168.6 474.4 170.9 474.5 172.6 474.6 171.5 474.6 169.8 474.7 168.0 474.8 168.4 474.8 168.5 474.9 168.9 475.0 168.7 475.0 167.8 475.1 167.5 475.2 165.9 475.2 166.8 475.3 163.8 475.4 163.4 475.4 164.7 475.5 163.9 475.6 161.9 475.6 164.6 475.7 164.0 475.8 161.6 475.8 161.3 475.9 157.0 476.0 156.5 476.0 156.2 476.1 155.8 476.2 156.6 476.2 158.0 476.3 155.5 476.4 158.5 476.4 159.5 476.5 157.4 476.6 156.1 476.6 156.7 476.7 157.2 476.8 154.4 476.8 157.8 476.9 157.4 477.0 156.7 477.0 158.7 477.1 157.0 477.1 158.8 477.2 157.1 477.3 155.7 477.3 154.6 477.4 155.9 477.5 153.3 477.5 152.3 477.6 153.3 477.7 155.1 477.7 151.1 477.8 152.1 477.9 153.9 477.9 153.0 478.0 151.0 478.1 152.0 478.1 152.5 478.2 155.0 478.3 153.5 478.3 150.8 478.4 150.9 478.5 151.0 478.5 148.9 478.6 150.5 478.7 150.3 478.7 148.4 478.8 146.4 478.9 144.5 478.9 147.2 479.0 143.1 479.1 143.8 479.1 147.0 479.2 147.6 479.3 148.1 479.3 145.1 479.4 143.6 479.5 144.7 479.5 145.2 479.6 144.0 479.7 145.2 479.7 147.4 479.8 146.7 479.9 147.6 479.9 144.2 480.0 145.2 480.1 143.5 480.1 146.0 480.2 147.2 480.3 147.6 480.3 145.4 480.4 149.7 480.5 147.8 480.5 145.9 480.6 143.6 480.7 146.4 480.7 145.4 480.8 146.1 480.9 144.9 480.9 143.2 481.0 145.2 481.1 144.2 481.1 144.3 481.2 143.4 481.3 142.2 481.3 143.9 481.4 146.7 481.5 143.7 481.5 140.9 481.6 142.7 481.7 141.1 481.7 143.3 481.8 144.7 481.9 140.4 481.9 142.6 482.0 139.3 482.1 141.4 482.1 140.2 482.2 142.5 482.3 141.3 482.3 143.0 482.4 142.3 482.5 140.0 482.5 140.8 482.6 139.7 482.7 137.6 482.7 137.5 482.8 137.8 482.9 136.1 482.9 137.8 483.0 139.5 483.1 142.2 483.1 138.0 483.2 138.2 483.3 136.4 483.3 139.9 483.4 137.4 483.5 140.4 483.5 140.8 483.6 141.5 483.7 138.0 483.7 139.5 483.8 140.6 483.9 141.6 483.9 141.9 484.0 145.5 484.1 145.8 484.1 141.1 484.2 143.2 484.3 138.3 484.3 139.8 484.4 140.2 484.5 139.8 484.5 141.7 484.6 141.7 484.7 142.8 484.7 143.4 484.8 142.9 484.9 144.4 484.9 142.2 485.0 143.1 485.1 142.4 485.1 136.8 485.2 139.6 485.3 139.7 485.3 139.0 485.4 142.9 485.5 142.0 485.5 140.9 485.6 142.4 485.7 139.5 485.7 140.5 485.8 140.0 485.9 135.8 485.9 136.2 486.0 136.8 486.1 135.2 486.1 137.9 486.2 138.6 486.3 134.7 486.3 136.4 486.4 134.8 486.5 134.6 486.5 133.3 486.6 131.3 486.7 130.1 486.7 128.8 486.8 131.5 486.9 132.0 486.9 132.0 487.0 131.2 487.1 127.6 487.1 125.7 487.2 125.3 487.3 125.8 487.3 128.3 487.4 126.9 487.5 126.3 487.5 126.5 487.6 126.3 487.7 126.6 487.7 125.6 487.8 123.7 487.9 120.6 487.9 122.2 488.0 121.4 488.1 122.7 488.1 121.5 488.2 122.6 488.2 123.5 488.3 124.9 488.4 123.0 488.4 124.0 488.5 124.9 488.6 123.7 488.6 123.7 488.7 122.3 488.8 124.8 488.8 126.3 488.9 126.6 489.0 123.5 489.0 128.3 489.1 129.2 489.2 132.7 489.2 127.0 489.3 130.1 489.4 128.6 489.4 127.2 489.5 126.2 489.6 127.6 489.6 128.2 489.7 128.0 489.8 124.0 489.8 123.5 489.9 124.2 490.0 123.8 490.0 124.8 490.1 128.1 490.2 133.2 490.2 134.2 490.3 136.1 490.4 136.6 490.4 136.7 490.5 135.4 490.6 133.6 490.6 134.2 490.7 133.2 490.8 137.8 490.8 136.5 490.9 137.0 491.0 136.5 491.0 135.4 491.1 135.6 491.2 140.0 491.2 133.8 491.3 135.5 491.4 131.7 491.4 126.2 491.5 127.6 491.6 133.6 491.6 128.4 491.7 129.7 491.8 130.5 491.8 127.2 491.9 130.3 492.0 130.7 492.0 133.3 492.1 139.8 492.2 137.8 492.2 138.3 492.3 138.1 492.4 133.1 492.4 133.9 492.5 133.3 492.6 132.8 492.6 131.9 492.7 136.0 492.8 130.7 492.8 127.0 492.9 122.1 493.0 123.8 493.0 124.6 493.1 132.0 493.2 129.6 493.2 133.0 493.3 128.6 493.4 131.1 493.4 129.9 493.5 129.4 493.6 124.6 493.6 123.2 493.7 122.9 493.8 123.3 493.8 125.9 493.9 118.0 494.0 118.2 494.0 116.2 494.1 116.2 494.2 116.2 494.2 118.1 494.3 116.2 494.4 116.2 494.4 116.2 494.5 116.2 494.6 116.2 494.6 124.6 494.7 120.5 494.8 122.3 494.8 126.4 494.9 122.9 495.0 119.4 495.0 119.6 495.1 124.2 495.2 119.1 495.2 116.2 495.3 117.0 495.4 116.6 495.4 123.7 495.5 127.1 495.6 129.4 495.6 125.6 495.7 127.7 495.8 122.9 495.8 125.5 495.9 130.6 496.0 125.9 496.0 128.0 496.1 124.2 496.2 127.2 496.2 128.2 496.3 131.5 496.4 130.0 496.4 135.0 496.5 131.0 496.6 131.7 496.6 130.2 496.7 133.8 496.8 134.2 496.8 136.0 496.9 129.8 497.0 130.2 497.0 129.5 497.1 129.7 497.2 134.2 497.2 130.6 497.3 131.9 497.4 131.9 497.4 127.8 497.5 135.5 497.6 129.6 497.6 131.0 497.7 131.5 497.8 134.8 497.8 134.2 497.9 132.4 498.0 134.1 498.0 136.0 498.1 133.4 498.2 139.6 498.2 143.5 498.3 145.2 498.4 147.7 498.4 149.1 498.5 146.8 498.6 144.8 498.6 151.9 498.7 149.5 498.8 147.1 498.8 148.5 498.9 145.9 499.0 145.1 499.0 149.0 499.1 150.9 499.2 149.3 499.2 155.7 499.3 149.4 499.3 150.8 499.4 149.8 499.5 153.8 499.5 153.1 499.6 154.9 499.7 154.8 499.7 152.5 499.8 149.4 499.9 151.7 499.9 152.2 500.0 154.0 500.1 150.1 500.1 156.4 500.2 153.0 500.3 151.0 500.3 150.3 500.4 152.6 500.5 157.0 500.5 155.1 500.6 159.0 500.7 162.4 500.7 159.7 500.8 155.6 500.9 156.5 500.9 157.2 501.0 154.9 501.1 157.8 501.1 157.0 501.2 156.1 501.3 153.0 501.3 151.8 501.4 154.3 501.5 151.3 501.5 158.6 501.6 159.4 501.7 160.6 501.7 161.4 501.8 160.6 501.9 164.9 501.9 164.4 502.0 162.4 502.1 162.2 502.1 161.1 502.2 155.6 502.3 159.0 502.3 156.8 502.4 154.0 502.5 157.5 502.5 152.6 502.6 155.0 502.7 154.5 502.7 153.9 502.8 156.0 502.9 156.5 502.9 162.1 503.0 159.0 503.1 162.2 503.1 154.1 503.2 153.1 503.3 152.6 503.3 149.0 503.4 146.7 503.5 149.1 503.5 149.5 503.6 151.5 503.7 148.4 503.7 153.8 503.8 153.1 503.9 152.1 503.9 150.6 504.0 150.4 504.1 149.9 504.1 150.1 504.2 146.6 504.3 148.9 504.3 146.0 504.4 144.4 504.5 147.8 504.5 146.8 504.6 149.1 504.7 146.4 504.7 147.3 504.8 145.0 504.9 145.2 504.9 146.7 505.0 152.9 505.1 154.0 505.1 151.7 505.2 153.6 505.3 156.2 505.3 153.8 505.4 159.7 505.5 158.5 505.5 161.8 505.6 162.8 505.7 165.7 505.7 171.4 505.8 169.8 505.9 162.9 505.9 170.7 506.0 166.9 506.1 167.1 506.1 165.5 506.2 163.0 506.3 170.2 506.3 169.1 506.4 168.6 506.5 175.6 506.5 171.3 506.6 169.4 506.7 170.5 506.7 170.1 506.8 174.0 506.9 172.6 506.9 167.1 507.0 169.1 507.1 169.1 507.1 170.6 507.2 171.1 507.3 171.1 507.3 170.0 507.4 171.2 507.5 171.5 507.5 168.6 507.6 171.6 507.7 168.0 507.7 171.4 507.8 177.6 507.9 182.2 507.9 177.4 508.0 184.7 508.1 177.2 508.1 171.6 508.2 175.6 508.3 177.9 508.3 184.9 508.4 187.5 508.5 186.2 508.5 178.6 508.6 178.1 508.7 179.5 508.7 189.4 508.8 183.0 508.9 182.5 508.9 176.0 509.0 167.6 509.1 171.2 509.1 168.5 509.2 172.6 509.3 165.4 509.3 178.8 509.4 171.1 509.5 175.7 509.5 178.5 509.6 175.3 509.7 179.0 509.7 174.0 509.8 177.7 509.9 182.6 509.9 178.9 510.0 179.2 510.1 181.3 510.1 183.3 510.2 181.9 510.3 185.2 510.3 187.4 510.4 191.8 510.5 193.6 510.5 190.1 510.6 200.5 510.6 212.8 510.7 217.0 510.8 226.0 510.8 225.6 510.9 230.1 511.0 239.7 511.0 238.7 511.1 232.5 511.2 232.7 511.2 234.6 511.3 234.0 511.4 234.2 511.4 238.7 511.5 239.7 511.6 232.9 511.6 234.2 511.7 231.5 511.8 230.0 511.8 228.6 511.9 226.8 512.0 227.1 512.0 238.3 512.1 241.4 512.2 247.4 512.2 246.1 512.3 253.6 512.4 253.6 512.4 251.6 512.5 256.0 512.6 258.4 512.6 259.8 512.7 260.9 512.8 260.9 512.8 266.9 512.9 263.0 513.0 251.1 513.0 251.7 513.1 246.6 513.2 250.0 513.2 252.7 513.3 240.2 513.4 236.3 513.4 227.7 513.5 235.4 513.6 235.3 513.6 231.5 513.7 231.2 513.8 228.2 513.8 222.3 513.9 221.9 514.0 219.8 514.0 221.5 514.1 216.0 514.2 217.6 514.2 217.5 514.3 225.8 514.4 229.8 514.4 230.9 514.5 235.6 514.6 240.6 514.6 242.5 514.7 238.9 514.8 242.2 514.8 243.6 514.9 247.3 515.0 248.1 515.0 252.4 515.1 247.6 515.2 250.3 515.2 259.0 515.3 256.8 515.4 256.3 515.4 257.3 515.5 259.8 515.6 262.4 515.6 258.9 515.7 258.5 515.8 258.7 515.8 259.0 515.9 255.1 516.0 254.1 516.0 246.9 516.1 253.3 516.2 248.0 516.2 250.6 516.3 253.4 516.4 257.3 516.4 253.5 516.5 258.7 516.6 263.5 516.6 261.9 516.7 262.0 516.8 266.1 516.8 264.0 516.9 267.6 517.0 265.7 517.0 267.3 517.1 267.9 517.2 272.0 517.2 267.6 517.3 275.9 517.4 271.2 517.4 267.4 517.5 270.1 517.6 271.8 517.6 272.3 517.7 276.4 517.8 281.0 517.8 281.0 517.9 281.0 518.0 281.0 518.0 274.1 518.1 280.5 518.2 281.0 518.2 279.1 518.3 274.0 518.4 273.8 518.4 274.4 518.5 273.1 518.6 271.4 518.6 269.7 518.7 268.9 518.8 267.1 518.8 268.1 518.9 258.5 519.0 259.1 519.0 258.6 519.1 261.6 519.2 255.6 519.2 253.3 519.3 250.6 519.4 257.3 519.4 252.8 519.5 254.7 519.6 257.2 519.6 255.0 519.7 255.5 519.8 252.2 519.8 250.0 519.9 252.0 520.0 254.3 520.0 252.1 520.1 251.2 520.2 251.4 520.2 250.9 520.3 244.6 520.4 245.6 520.4 247.2 520.5 246.2 520.6 239.8 520.6 240.5 520.7 237.1 520.8 236.9 520.8 239.6 520.9 243.2 521.0 238.3 521.0 239.9 521.1 245.8 521.2 237.8 521.2 247.0 521.3 244.2 521.4 241.7 521.4 242.6 521.5 240.4 521.6 238.5 521.6 238.1 521.7 236.0 521.7 235.5 521.8 237.1 521.9 240.3 521.9 238.7 522.0 239.3 522.1 236.8 522.1 235.2 522.2 240.9 522.3 239.1 522.3 243.9 522.4 241.7 522.5 243.8 522.5 244.0 522.6 245.0 522.7 239.0 522.7 232.3 522.8 237.0 522.9 232.8 522.9 234.5 523.0 233.1 523.1 236.0 523.1 235.5 523.2 232.3 523.3 233.4 523.3 232.1 523.4 228.4 523.5 229.7 523.5 229.0 523.6 224.8 523.7 226.8 523.7 228.1 523.8 226.7 523.9 226.7 523.9 226.5 524.0 228.0 524.1 227.3 524.1 225.8 524.2 229.0 524.3 224.2 524.3 224.4 524.4 223.2 524.5 223.3 524.5 221.5 524.6 224.5 524.7 222.5 524.7 223.4 524.8 222.3 524.9 222.0 524.9 222.8 525.0 222.1 525.1 220.4 525.1 224.1 525.2 220.9 525.3 219.3 525.3 224.1 525.4 219.8 525.5 219.5 525.5 220.4 525.6 222.7 525.7 222.6 525.7 218.7 525.8 219.6 525.9 217.2 525.9 217.1 526.0 212.8 526.1 213.9 526.1 211.3 526.2 211.4 526.3 211.2 526.3 210.4 526.4 211.4 526.5 212.8 526.5 211.6 526.6 206.1 526.7 207.6 526.7 209.0 526.8 208.7 526.9 210.2 526.9 212.2 527.0 209.9 527.1 208.2 527.1 210.2 527.2 213.0 527.3 210.4 527.3 206.6 527.4 206.4 527.5 205.4 527.5 205.0 527.6 207.2 527.7 207.2 527.7 209.8 527.8 209.7 527.9 207.2 527.9 205.8 528.0 211.1 528.1 209.0 528.1 204.5 528.2 204.8 528.3 207.8 528.3 211.4 528.4 209.0 528.5 215.0 528.5 210.7 528.6 214.8 528.7 214.3 528.7 213.3 528.8 210.4 528.9 208.4 528.9 207.0 529.0 206.9 529.1 204.0 529.1 203.6 529.2 205.3 529.3 203.1 529.3 205.6 529.4 205.0 529.5 207.0 529.5 206.7 529.6 203.2 529.7 200.8 529.7 202.0 529.8 203.4 529.9 201.9 529.9 206.5 530.0 205.7 530.1 203.3 530.1 202.0 530.2 201.4 530.3 200.2 530.3 200.7 530.4 202.5 530.5 205.1 530.5 205.9 530.6 205.4 530.7 206.4 530.7 200.0 530.8 198.1 530.9 198.3 530.9 197.0 531.0 199.6 531.1 203.0 531.1 195.0 531.2 198.6 531.3 194.3 531.3 198.0 531.4 198.9 531.5 199.6 531.5 196.2 531.6 200.3 531.7 197.0 531.7 198.1 531.8 196.5 531.9 193.3 531.9 197.5 532.0 201.0 532.1 200.2 532.1 204.4 532.2 203.2 532.3 205.9 532.3 202.6 532.4 205.5 532.5 202.7 532.5 205.8 532.6 208.6 532.7 206.1 532.7 206.8 532.8 210.3 532.8 207.3 532.9 209.2 533.0 207.1 533.0 211.1 533.1 210.1 533.2 204.5 533.2 203.0 533.3 203.6 533.4 201.7 533.4 202.8 533.5 202.2 533.6 204.7 533.6 203.4 533.7 203.7 533.8 198.2 533.8 200.8 533.9 204.4 534.0 200.3 534.0 200.4 534.1 205.5 534.2 198.3 534.2 201.6 534.3 200.5 534.4 201.0 534.4 200.1 534.5 198.5 534.6 195.7 534.6 194.7 534.7 199.0 534.8 197.0 534.8 194.1 534.9 193.4 535.0 196.3 535.0 194.8 535.1 194.8 535.2 193.1 535.2 193.4 535.3 194.2 535.4 198.7 535.4 194.6 535.5 192.4 535.6 190.2 535.6 189.6 535.7 187.5 535.8 186.3 535.8 185.7 535.9 186.4 536.0 180.7 536.0 180.7 536.1 180.7 536.2 180.7 536.2 181.1 536.3 182.5 536.4 184.2 536.4 183.4 536.5 184.5 536.6 183.4 536.6 181.5 536.7 180.7 536.8 183.4 536.8 183.9 536.9 186.9 537.0 186.3 537.0 186.4 537.1 188.3 537.2 192.0 537.2 192.2 537.3 195.9 537.4 196.7 537.4 199.7 537.5 202.2 537.6 200.2 537.6 202.8 537.7 199.3 537.8 201.4 537.8 199.2 537.9 202.0 538.0 198.8 538.0 196.0 538.1 196.1 538.2 195.7 538.2 202.8 538.3 203.8 538.4 203.1 538.4 204.4 538.5 206.8 538.6 203.7 538.6 206.1 538.7 208.6 538.8 206.8 538.8 210.3 538.9 212.0 539.0 208.1 539.0 210.9 539.1 212.5 539.2 211.2 539.2 213.0 539.3 210.2 539.4 216.3 539.4 216.0 539.5 216.3 539.6 215.3 539.7 216.8 539.7 216.8 539.8 216.6 539.9 215.4 539.9 216.8 540.0 216.8 540.1 214.1 540.1 211.5 540.2 211.4 540.2 208.9 540.3 208.1 540.4 209.0 540.4 209.5 540.5 210.6 540.6 208.1 540.6 208.7 540.7 205.9 540.8 209.4 540.8 202.5 540.9 204.6 541.0 200.0 541.0 205.6 541.1 203.6 541.2 202.0 541.2 202.2 541.3 203.8 541.4 199.0 541.4 202.3 541.5 204.2 541.6 201.5 541.6 200.6 541.7 202.8 541.8 202.3 541.8 204.8 541.9 208.0 542.0 204.3 542.0 204.1 542.1 209.3 542.2 206.6 542.2 208.2 542.3 205.3 542.4 208.9 542.4 209.5 542.5 210.9 542.6 208.2 542.6 211.8 542.7 214.9 542.8 214.5 542.8 213.3 542.9 210.8 543.0 208.8 543.0 208.2 543.1 207.4 543.2 206.3 543.2 206.4 543.3 206.8 543.4 205.7 543.4 204.0 543.5 201.3 543.6 198.4 543.6 196.8 543.7 198.0 543.8 194.0 543.8 199.5 543.9 196.3 544.0 196.1 544.0 194.8 544.1 195.6 544.1 192.0 544.2 197.3 544.3 193.5 544.3 192.1 544.4 190.8 544.5 194.8 544.5 192.6 544.6 195.2 544.7 191.8 544.7 193.5 544.8 192.4 544.9 189.8 544.9 189.7 545.0 192.3 545.1 192.4 545.1 186.0 545.2 187.1 545.3 188.9 545.3 189.1 545.4 187.0 545.5 189.1 545.5 192.8 545.6 188.2 545.7 193.4 545.7 187.6 545.8 192.3 545.9 186.4 545.9 185.9 546.0 180.0 546.1 178.7 546.1 180.7 546.2 180.2 546.3 182.4 546.3 179.8 546.4 184.6 546.5 183.0 546.5 183.2 546.6 185.1 546.7 188.6 546.7 186.1 546.8 187.5 546.9 183.6 546.9 187.5 547.0 186.1 547.1 181.2 547.1 179.2 547.2 179.5 547.3 180.4 547.3 177.8 547.4 176.9 547.5 172.6 547.5 173.6 547.6 171.4 547.7 170.7 547.7 171.7 547.8 172.5 547.9 171.6 547.9 167.7 548.0 168.3 548.1 170.1 548.1 174.6 548.2 173.2 548.3 168.5 548.3 169.7 548.4 173.5 548.5 172.8 548.5 171.5 548.6 176.2 548.7 171.1 548.7 170.9 548.8 170.9 548.9 170.6 548.9 170.4 549.0 169.5 549.1 171.0 549.1 172.1 549.2 172.6 549.3 165.8 549.3 169.0 549.4 166.2 549.5 164.7 549.5 167.3 549.6 167.9 549.7 166.3 549.7 171.6 549.8 169.7 549.9 169.6 549.9 170.6 550.0 169.0 550.1 167.9 550.1 169.3 550.2 166.9 550.3 166.8 550.3 165.7 550.4 164.7 550.5 164.0 550.5 166.6 550.6 166.8 550.7 165.8 550.7 169.4 550.8 165.2 550.9 165.2 550.9 164.8 551.0 160.3 551.1 158.0 551.1 158.7 551.2 163.9 551.3 160.7 551.3 163.3 551.4 161.0 551.5 158.0 551.5 156.7 551.6 156.4 551.7 156.3 551.7 154.3 551.8 154.2 551.9 152.4 551.9 154.7 552.0 152.8 552.1 152.4 552.1 155.0 552.2 152.4 552.3 158.1 552.3 158.9 552.4 160.6 552.5 158.9 552.5 154.2 552.6 152.4 552.7 152.4 552.7 155.2 552.8 154.3 552.9 154.5 552.9 155.4 553.0 152.4 553.1 152.4 553.1 152.4 553.2 152.4 553.3 152.4 553.3 152.8 553.4 152.4 553.5 152.4 553.5 153.5 553.6 152.4 553.7 154.0 553.7 153.6 553.8 152.4 553.9 152.4 553.9 154.0 554.0 153.7 554.1 155.5 554.1 159.1 554.2 155.2 554.3 152.4 554.3 158.6 554.4 161.3 554.5 160.9 554.5 160.7 554.6 162.7 554.7 161.4 554.7 157.4 554.8 159.2 554.9 153.1 554.9 159.6 555.0 159.0 555.1 163.3 555.1 159.2 555.2 157.0 555.2 160.0 555.3 152.4 555.4 154.9 555.4 152.4 555.5 154.7 555.6 156.2 555.6 159.9 555.7 159.2 555.8 157.4 555.8 156.8 555.9 158.1 556.0 158.5 556.0 158.9 556.1 161.5 556.2 160.4 556.2 161.9 556.3 158.8 556.4 159.6 556.4 162.6 556.5 161.6 556.6 161.5 556.6 160.6 556.7 162.6 556.8 160.1 556.8 164.6 556.9 164.0 557.0 160.9 557.0 161.9 557.1 163.3 557.2 158.9 557.2 161.3 557.3 159.2 557.4 155.9 557.4 153.5 557.5 157.8 557.6 161.0 557.6 157.1 557.7 162.9 557.8 162.3 557.8 167.7 557.9 168.5 558.0 166.8 558.0 171.7 558.1 172.2 558.2 166.7 558.2 171.5 558.3 170.8 558.4 172.0 558.4 169.1 558.5 173.1 558.6 173.3 558.6 166.5 558.7 174.1 558.8 173.7 558.8 170.8 558.9 170.7 559.0 173.1 559.0 170.2 559.1 174.1 559.2 172.0 559.2 176.8 559.3 176.8 559.4 180.4 559.4 181.5 559.5 180.4 559.6 179.9 559.6 183.0 559.7 178.3 559.8 185.9 559.8 183.6 559.9 184.3 560.0 185.0 560.0 186.0 560.1 181.6 560.2 186.5 560.2 189.7 560.3 185.9 560.4 186.5 560.4 190.9 560.5 188.5 560.6 190.8 560.6 191.9 560.7 193.7 560.8 196.6 560.8 197.8 560.9 202.6 561.0 199.3 561.0 197.1 561.1 197.8 561.2 194.8 561.2 198.4 561.3 197.7 561.4 198.6 561.4 195.8 561.5 192.2 561.6 188.6 561.6 190.9 561.7 183.0 561.8 180.8 561.8 180.2 561.9 176.4 562.0 176.8 562.0 176.6 562.1 175.7 562.2 174.0 562.2 174.2 562.3 171.1 562.4 173.9 562.4 174.5 562.5 169.8 562.6 176.6 562.6 173.5 562.7 175.4 562.8 174.0 562.8 177.0 562.9 175.2 563.0 170.0 563.0 172.7 563.1 173.7 563.2 177.7 563.2 174.8 563.3 180.1 563.4 174.0 563.4 174.2 563.5 177.8 563.6 175.2 563.6 175.8 563.7 175.8 563.8 175.7 563.8 174.1 563.9 173.8 564.0 174.9 564.0 176.0 564.1 174.5 564.2 174.6 564.2 175.3 564.3 173.5 564.4 172.9 564.4 174.7 564.5 173.8 564.6 173.5 564.6 172.9 564.7 173.5 564.8 170.4 564.8 171.7 564.9 171.6 565.0 173.2 565.0 171.5 565.1 173.9 565.2 170.8 565.2 169.1 565.3 165.5 565.4 166.2 565.4 166.8 565.5 167.5 565.6 167.0 565.6 165.5 565.7 163.4 565.8 162.0 565.8 161.4 565.9 162.2 566.0 161.7 566.0 160.1 566.1 163.4 566.2 163.3 566.2 164.9 566.3 164.9 566.3 163.0 566.4 163.6 566.5 162.2 566.5 159.9 566.6 161.3 566.7 160.2 566.7 162.2 566.8 161.3 566.9 161.7 566.9 162.3 567.0 162.5 567.1 159.5 567.1 157.8 567.2 156.3 567.3 157.8 567.3 153.8 567.4 152.5 567.5 152.3 567.5 155.2 567.6 153.2 567.7 152.5 567.7 153.2 567.8 154.5 567.9 151.9 567.9 151.0 568.0 150.6 568.1 149.7 568.1 147.8 568.2 148.7 568.3 149.7 568.3 147.3 568.4 148.2 568.5 147.8 568.5 149.0 568.6 149.9 568.7 149.7 568.7 150.0 568.8 148.7 568.9 146.2 568.9 148.8 569.0 148.7 569.1 146.6 569.1 145.2 569.2 143.9 569.3 145.7 569.3 142.3 569.4 143.9 569.5 143.3 569.5 142.7 569.6 141.6 569.7 142.7 569.7 139.5 569.8 142.5 569.9 141.8 569.9 141.8 570.0 143.8 570.1 143.2 570.1 144.9 570.2 141.8 570.3 143.5 570.3 142.8 570.4 145.3 570.5 144.7 570.5 147.2 570.6 146.8 570.7 150.1 570.7 152.7 570.8 150.9 570.9 154.2 570.9 153.6 571.0 155.0 571.1 154.3 571.1 156.5 571.2 157.5 571.3 155.1 571.3 156.0 571.4 157.7 571.5 161.6 571.5 165.2 571.6 162.9 571.7 163.9 571.7 160.4 571.8 160.9 571.9 161.1 571.9 163.4 572.0 162.8 572.1 164.5 572.1 162.9 572.2 163.7 572.3 164.7 572.3 161.3 572.4 161.9 572.5 162.8 572.5 161.6 572.6 159.6 572.7 157.6 572.7 159.0 572.8 159.2 572.9 155.3 572.9 156.0 573.0 151.8 573.1 156.5 573.1 154.4 573.2 156.5 573.3 154.6 573.3 153.8 573.4 155.2 573.5 153.1 573.5 150.5 573.6 149.7 573.7 149.6 573.7 148.7 573.8 144.9 573.9 148.3 573.9 152.7 574.0 153.6 574.1 153.0 574.1 153.0 574.2 154.5 574.3 151.9 574.3 153.0 574.4 153.1 574.5 153.9 574.5 152.7 574.6 148.7 574.7 150.9 574.7 150.6 574.8 151.0 574.9 150.3 574.9 148.3 575.0 147.8 575.1 145.2 575.1 147.6 575.2 145.8 575.3 144.7 575.3 146.8 575.4 147.7 575.5 151.6 575.5 149.2 575.6 148.9 575.7 149.9 575.7 150.8 575.8 148.9 575.9 146.2 575.9 145.8 576.0 146.0 576.1 146.8 576.1 145.6 576.2 143.9 576.3 146.6 576.3 144.0 576.4 141.7 576.5 145.2 576.5 142.5 576.6 144.5 576.7 142.4 576.7 143.7 576.8 141.0 576.9 143.2 576.9 140.3 577.0 142.2 577.1 142.3 577.1 143.7 577.2 142.0 577.3 142.5 577.3 143.6 577.4 143.3 577.5 143.4 577.5 139.3 577.6 139.1 577.6 140.6 577.7 139.7 577.8 140.7 577.8 141.7 577.9 139.2 578.0 142.2 578.0 143.3 578.1 143.8 578.2 142.4 578.2 147.6 578.3 144.7 578.4 143.9 578.4 144.8 578.5 141.9 578.6 143.1 578.6 143.9 578.7 146.4 578.8 148.1 578.8 146.7 578.9 144.5 579.0 145.1 579.0 143.0 579.1 144.7 579.2 146.2 579.2 145.1 579.3 144.1 579.4 143.7 579.4 145.6 579.5 143.9 579.6 145.5 579.6 144.1 579.7 145.9 579.8 144.8 579.8 145.4 579.9 144.4 580.0 143.2 580.0 143.0 580.1 142.9 580.2 143.3 580.2 147.6 580.3 143.8 580.4 144.4 580.4 145.1 580.5 143.1 580.6 146.2 580.6 143.3 580.7 143.9 580.8 143.2 580.8 143.8 580.9 143.2 581.0 142.8 581.0 142.2 581.1 141.8 581.2 139.5 581.2 143.5 581.3 143.8 581.4 141.0 581.4 141.3 581.5 141.4 581.6 143.5 581.6 142.9 581.7 141.9 581.8 141.4 581.8 139.8 581.9 138.1 582.0 137.9 582.0 138.1 582.1 135.4 582.2 137.0 582.2 133.6 582.3 134.7 582.4 132.4 582.4 132.5 582.5 133.4 582.6 131.0 582.6 133.3 582.7 132.7 582.8 132.0 582.8 134.3 582.9 131.6 583.0 129.1 583.0 130.6 583.1 128.6 583.2 129.3 583.2 129.2 583.3 128.9 583.4 128.5 583.4 128.1 583.5 128.5 583.6 128.6 583.6 126.2 583.7 126.4 583.8 130.0 583.8 133.3 583.9 130.8 584.0 124.6 584.0 128.9 584.1 125.9 584.2 127.5 584.2 128.1 584.3 123.4 584.4 126.2 584.4 127.3 584.5 125.5 584.6 123.1 584.6 123.4 584.7 122.0 584.8 120.5 584.8 117.9 584.9 121.1 585.0 115.8 585.0 117.6 585.1 118.3 585.2 116.0 585.2 117.8 585.3 114.6 585.4 114.7 585.4 115.2 585.5 113.2 585.6 113.9 585.6 115.5 585.7 115.2 585.8 113.3 585.8 117.1 585.9 115.4 586.0 115.6 586.0 112.7 586.1 115.3 586.2 116.8 586.2 112.3 586.3 109.7 586.4 108.4 586.4 107.3 586.5 109.3 586.6 110.4 586.6 108.8 586.7 111.8 586.8 111.1 586.8 107.8 586.9 108.4 587.0 112.5 587.0 111.2 587.1 111.0 587.2 110.9 587.2 109.7 587.3 110.2 587.4 110.4 587.4 108.2 587.5 107.0 587.6 109.2 587.6 105.1 587.7 107.6 587.8 107.4 587.8 109.4 587.9 107.1 588.0 109.2 588.0 107.5 588.1 106.5 588.2 109.7 588.2 109.9 588.3 112.1 588.4 110.8 588.4 110.8 588.5 110.1 588.6 110.4 588.6 106.0 588.7 104.0 588.7 106.1 588.8 105.4 588.9 104.3 588.9 105.4 589.0 103.2 589.1 106.0 589.1 104.8 589.2 106.2 589.3 103.9 589.3 105.2 589.4 108.6 589.5 105.8 589.5 106.4 589.6 105.8 589.7 109.2 589.7 106.7 589.8 106.7 589.9 105.2 589.9 109.6 590.0 109.9 590.1 108.5 590.1 107.2 590.2 103.5 590.3 103.8 590.3 106.5 590.4 106.7 590.5 106.2 590.5 104.6 590.6 105.0 590.7 105.3 590.7 103.6 590.8 102.6 590.9 104.2 590.9 101.7 591.0 101.7 591.1 100.6 591.1 100.1 591.2 97.4 591.3 98.9 591.3 93.8 591.4 95.1 591.5 93.8 591.5 92.0 591.6 92.9 591.7 90.7 591.7 94.9 591.8 96.6 591.9 97.5 591.9 94.5 592.0 95.2 592.1 99.6 592.1 96.6 592.2 94.8 592.3 101.1 592.3 99.7 592.4 100.6 592.5 99.8 592.5 101.3 592.6 102.3 592.7 100.8 592.7 103.2 592.8 105.1 592.9 103.6 592.9 102.3 593.0 100.1 593.1 99.5 593.1 98.6 593.2 96.8 593.3 97.0 593.3 97.6 593.4 96.6 593.5 95.2 593.5 100.2 593.6 98.5 593.7 98.9 593.7 100.1 593.8 97.8 593.9 93.5 593.9 91.5 594.0 93.8 594.1 96.7 594.1 94.3 594.2 94.6 594.3 94.6 594.3 93.9 594.4 92.2 594.5 88.0 594.5 87.4 594.6 87.0 594.7 86.0 594.7 85.0 594.8 84.5 594.9 82.0 594.9 87.0 595.0 85.7 595.1 87.7 595.1 87.4 595.2 86.0 595.3 85.8 595.3 83.1 595.4 86.6 595.5 84.4 595.5 80.1 595.6 80.8 595.7 80.7 595.7 81.7 595.8 75.0 595.9 82.7 595.9 81.2 596.0 78.3 596.1 76.2 596.1 75.5 596.2 79.1 596.3 79.7 596.3 80.0 596.4 78.8 596.5 78.7 596.5 77.3 596.6 76.1 596.7 77.0 596.7 72.3 596.8 77.3 596.9 78.0 596.9 74.5 597.0 75.0 597.1 71.5 597.1 72.2 597.2 70.5 597.3 72.0 597.3 70.8 597.4 67.0 597.5 69.9 597.5 71.1 597.6 69.6 597.7 67.7 597.7 72.5 597.8 69.3 597.9 68.4 597.9 69.6 598.0 69.3 598.1 69.9 598.1 70.3 598.2 68.6 598.3 67.5 598.3 67.6 598.4 64.2 598.5 63.6 598.5 62.4 598.6 63.4 598.7 69.8 598.7 68.0 598.8 68.9 598.9 67.3 598.9 69.1 599.0 67.3 599.1 68.3 599.1 68.0 599.2 65.9 599.3 64.7 599.3 66.5 599.4 65.2 599.5 66.3 599.5 69.9 599.6 70.7 599.7 73.0 599.7 74.0 599.8 75.0 599.8 75.8 599.9 72.0 600.0 74.4 600.0 72.2 600.1 74.4 600.2 72.5 600.2 73.1 600.3 72.2 600.4 70.2 600.4 70.9 600.5 68.7 600.6 70.5 600.6 65.1 600.7 69.2 600.8 68.0 600.8 63.2 600.9 61.1 601.0 65.6 601.0 65.5 601.1 60.3 601.2 61.6 601.2 61.6 601.3 63.5 601.4 62.0 601.4 60.2 601.5 66.2 601.6 61.9 601.6 63.1 601.7 60.3 601.8 63.9 601.8 64.0 601.9 66.1 602.0 66.7 602.0 62.9 602.1 66.8 602.2 65.9 602.2 65.6 602.3 66.2 602.4 61.8 602.4 65.7 602.5 62.2 602.6 61.0 602.6 59.2 602.7 61.0 602.8 61.1 602.8 63.5 602.9 61.9 603.0 66.5 603.0 69.0 603.1 62.0 603.2 64.6 603.2 61.8 603.3 58.4 603.4 59.1 603.4 58.6 603.5 58.8 603.6 55.6 603.6 57.2 603.7 59.0 603.8 60.7 603.8 56.9 603.9 59.1 604.0 58.2 604.0 57.0 604.1 57.8 604.2 55.2 604.2 53.9 604.3 56.5 604.4 56.8 604.4 56.9 604.5 52.4 604.6 50.0 604.6 52.5 604.7 51.4 604.8 50.0 604.8 51.3 604.9 48.4 605.0 48.9 605.0 46.4 605.1 48.2 605.2 47.5 605.2 50.1 605.3 52.5 605.4 53.4 605.4 49.7 605.5 44.2 605.6 48.7 605.6 52.3 605.7 47.8 605.8 49.2 605.8 53.3 605.9 50.2 606.0 44.9 606.0 45.6 606.1 42.8 606.2 42.9 606.2 47.2 606.3 44.4 606.4 42.5 606.4 46.0 606.5 47.1 606.6 45.9 606.6 43.4" fill="none" stroke="#000" stroke-width="1.9" stroke-linejoin="round"/>
<text x="13.2" y="10.2" font-family='"Liberation Sans", sans-serif' font-weight="bold" font-size="7.5" fill="#ffffff" textLength="207" lengthAdjust="spacingAndGlyphs">0.Special-Comment-SPX-big-picture.bc: US.^SPX - Daily - ^SPX</text>
<path d="M4.5 4 H8.5 L10 5.5 V11 H4.5 Z" fill="#e8f0ff" stroke="#9bb8e8" stroke-width="0.6"/>
<path d="M5.5 6.5 H9 M5.5 8 H9 M5.5 9.5 H9" stroke="#6f90c8" stroke-width="0.6"/>
<defs><linearGradient id="bb" x1="0" y1="0" x2="1" y2="1"><stop offset="0" stop-color="#5a8cf6"/><stop offset="0.5" stop-color="#2f65e6"/><stop offset="1" stop-color="#1c4cd0"/></linearGradient><linearGradient id="bc" x1="0" y1="0" x2="1" y2="1"><stop offset="0" stop-color="#e88866"/><stop offset="0.5" stop-color="#d8603c"/><stop offset="1" stop-color="#c04820"/></linearGradient></defs>
<rect x="601.6" y="2.3" width="10.6" height="11" rx="2" fill="url(#bb)" stroke="#d0dcf8" stroke-width="0.8"/>
<rect x="604.1" y="9.1" width="3.7" height="1.9" fill="#fff"/>
<rect x="614.1" y="2.3" width="10.3" height="11" rx="2" fill="url(#bb)" stroke="#d0dcf8" stroke-width="0.8"/>
<rect x="617" y="5.6" width="5" height="4.2" fill="none" stroke="#e8f0ff" stroke-width="0.8"/><rect x="616.6" y="5.2" width="5.8" height="1.6" fill="#e8f0ff"/>
<rect x="626.5" y="2.3" width="10.4" height="11" rx="2" fill="url(#bc)" stroke="#f0d8d0" stroke-width="0.8"/>
<path d="M629 5.9 L634.3 10.8 M634.3 5.9 L629 10.8" stroke="#fbe8e0" stroke-width="1.3"/>
<text x="3" y="21.3" font-family='"Liberation Sans", sans-serif' font-weight="bold" font-size="6.4" fill="#111" textLength="44.2" lengthAdjust="spacingAndGlyphs">US.^SPX Daily</text>
<text x="54.3" y="21.3" font-family='"Liberation Sans", sans-serif' font-weight="bold" font-size="6.4" fill="#111" textLength="37.4" lengthAdjust="spacingAndGlyphs">Cl=1,957.220</text>
<text x="95.3" y="21.3" font-family='"Liberation Sans", sans-serif' font-weight="bold" font-size="6.4" fill="#111" textLength="33.7" lengthAdjust="spacingAndGlyphs">O=1,959.890</text>
<text x="132.6" y="21.3" font-family='"Liberation Sans", sans-serif' font-weight="bold" font-size="6.4" fill="#111" textLength="34.4" lengthAdjust="spacingAndGlyphs">H=1,959.890</text>
<text x="174.6" y="21.3" font-family='"Liberation Sans", sans-serif' font-weight="bold" font-size="6.4" fill="#111" textLength="36.4" lengthAdjust="spacingAndGlyphs">L=1,944.690</text>
<text x="217" y="21.3" font-family='"Liberation Sans", sans-serif' font-weight="bold" font-size="6.4" fill="#c02828" textLength="18" lengthAdjust="spacingAndGlyphs">-2.310</text>
<text x="239.5" y="21.3" font-family='"Liberation Sans", sans-serif' font-weight="bold" font-size="6.4" fill="#c02828" textLength="20.5" lengthAdjust="spacingAndGlyphs">-0.12%</text>
<text x="579.5" y="21.2" font-family='"Liberation Sans", sans-serif' font-size="6.4" fill="#222" textLength="30.3" lengthAdjust="spacingAndGlyphs">26/06/2014</text>
<rect x="620.2" y="16.5" width="6.8" height="5.8" fill="#ffffff" stroke="#505050" stroke-width="0.9"/><rect x="620.2" y="16.3" width="6.8" height="1.8" fill="#303030"/><rect x="621.6" y="18.4" width="4" height="2.6" fill="#f0eee4"/>
<rect x="628.6" y="16.6" width="7.2" height="5.8" fill="#e8e6dc" stroke="#c8c6bc" stroke-width="0.6"/><path d="M630.4 17.8 L634.6 21.4 M634.6 17.8 L630.4 21.4" stroke="#b8b8b8" stroke-width="0.7"/>
<line x1="350.8" y1="121.6" x2="513.7" y2="111.6" stroke="#d04a4a" stroke-width="1.6"/>
<line x1="72.3" y1="388.7" x2="218.8" y2="350.6" stroke="#248a24" stroke-width="2.2"/>
<line x1="171.3" y1="325.6" x2="199" y2="351.6" stroke="#3a9a3a" stroke-width="0.9"/>
<path d="M202.2 354.6 L194.6 351.4 L198.8 347.2 Z" fill="#248a24"/>
<rect x="69.7" y="381.7" width="16.2" height="3.2" rx="1.6" fill="none" stroke="#e01c1c" stroke-width="2.1"/>
<ellipse cx="281.1" cy="322.3" rx="10.2" ry="7" fill="none" stroke="#c82424" stroke-width="1.9"/>
<line x1="503.4" y1="114.4" x2="503.4" y2="273" stroke="#2424b8" stroke-width="1.5" stroke-dasharray="2.8 1.8"/>
<path d="M503.5 278.8 L500.4 272.6 L506.6 272.6 Z" fill="#2424b8"/>
<circle cx="517.8" cy="278.6" r="10.4" fill="none" stroke="#c01c1c" stroke-width="2.3"/>
<line x1="517.3" y1="284.5" x2="607.3" y2="65.6" stroke="#248a24" stroke-width="2.1"/>
<line x1="524" y1="289.1" x2="600" y2="289.1" stroke="#248a24" stroke-width="2"/>
<path d="M518.4 289.1 L527.4 284.6 L527.4 293.6 Z" fill="#248a24"/><path d="M606.8 289.1 L597.8 284.6 L597.8 293.6 Z" fill="#248a24"/>
<line x1="606.4" y1="76" x2="606.4" y2="182" stroke="#2424b8" stroke-width="1.5" stroke-dasharray="2.8 1.8"/>
<line x1="606.4" y1="211" x2="606.4" y2="288" stroke="#2424b8" stroke-width="1.5" stroke-dasharray="2.8 1.8"/>
<path d="M606.4 71.6 L603.6 76.4 L609.2 76.4 Z" fill="#2424b8"/>
<ellipse clip-path="url(#plot)" cx="607" cy="45" rx="11.8" ry="32" fill="none" stroke="#d01c1c" stroke-width="1.9"/>
<rect x="158.2" y="33.5" width="132.4" height="50.6" fill="#fdf880" stroke="#4a4a30" stroke-width="1"/>
<text x="224.6" y="45.7" font-family='"Liberation Sans", sans-serif' font-weight="bold" font-size="14.2" fill="#1414a6" text-anchor="middle" textLength="123.3" lengthAdjust="spacingAndGlyphs">Special Comment</text>
<text x="225.1" y="62.7" font-family='"Liberation Sans", sans-serif' font-weight="bold" font-size="14.2" fill="#1414a6" text-anchor="middle" textLength="56.7" lengthAdjust="spacingAndGlyphs">S&amp;P 500</text>
<text x="224.6" y="79.0" font-family='"Liberation Sans", sans-serif' font-weight="bold" font-size="14.2" fill="#1414a6" text-anchor="middle" xml:space="preserve">(US  index)</text>
<text x="41" y="113.6" font-family='"Liberation Sans", sans-serif' font-weight="bold" font-size="11" fill="#248a24" textLength="28.2" lengthAdjust="spacingAndGlyphs">linear</text>
<text x="41" y="126" font-family='"Liberation Sans", sans-serif' font-weight="bold" font-size="11" fill="#248a24" textLength="27.2" lengthAdjust="spacingAndGlyphs">scale</text>
<rect x="110.5" y="99.5" width="155.5" height="37" fill="#fff" stroke="#5a5aa6" stroke-width="1"/>
<text x="111.8" y="106.1" font-family='"Liberation Sans", sans-serif' font-weight="bold" font-size="8" fill="#2424b8" textLength="113.4" lengthAdjust="spacingAndGlyphs">Up trend and down trend lines</text>
<text x="111.8" y="115.0" font-family='"Liberation Sans", sans-serif' font-weight="bold" font-size="8" fill="#2424b8" textLength="116.9" lengthAdjust="spacingAndGlyphs">(and percent change over time)</text>
<text x="111.8" y="123.9" font-family='"Liberation Sans", sans-serif' font-weight="bold" font-size="8" fill="#2424b8" textLength="105.4" lengthAdjust="spacingAndGlyphs">are drawn on the daily chart,</text>
<text x="111.8" y="132.8" font-family='"Liberation Sans", sans-serif' font-weight="bold" font-size="8" fill="#2424b8" textLength="145.9" lengthAdjust="spacingAndGlyphs">to touch extremes in daily close prices.</text>
<rect x="85.5" y="170.5" width="180" height="101" fill="#fff" stroke="#5a5aa6" stroke-width="1"/>
<text x="86.7" y="177.2" font-family='"Liberation Sans", sans-serif' font-weight="bold" font-size="8" fill="#2424b8" textLength="171.4" lengthAdjust="spacingAndGlyphs">There needs to be a balance of price increase</text>
<text x="86.7" y="186.3" font-family='"Liberation Sans", sans-serif' font-weight="bold" font-size="8" fill="#2424b8" textLength="37.2" lengthAdjust="spacingAndGlyphs">over time.</text>
<text x="86.7" y="195.3" font-family='"Liberation Sans", sans-serif' font-weight="bold" font-size="8" fill="#2424b8" textLength="150.1" lengthAdjust="spacingAndGlyphs">If price runs too high too fast, then it will</text>
<text x="86.7" y="204.4" font-family='"Liberation Sans", sans-serif' font-weight="bold" font-size="8" fill="#2424b8" textLength="84.4" lengthAdjust="spacingAndGlyphs">retrace and re-balance.</text>
<text x="86.7" y="213.4" font-family='"Liberation Sans", sans-serif' font-weight="bold" font-size="8" fill="#2424b8" textLength="146.1" lengthAdjust="spacingAndGlyphs">Price can run too high for long periods.</text>
<text x="86.7" y="231.6" font-family='"Liberation Sans", sans-serif' font-weight="bold" font-size="8" fill="#2424b8" textLength="72.4" lengthAdjust="spacingAndGlyphs">Key measurements:</text>
<text x="86.7" y="240.6" font-family='"Liberation Sans", sans-serif' font-weight="bold" font-size="8" fill="#2424b8" textLength="70.3" lengthAdjust="spacingAndGlyphs">===============</text>
<text x="86.7" y="249.7" font-family='"Liberation Sans", sans-serif' font-weight="bold" font-size="8" fill="#2424b8" textLength="55.5" lengthAdjust="spacingAndGlyphs">A to B - 11% pa</text>
<text x="86.7" y="258.7" font-family='"Liberation Sans", sans-serif' font-weight="bold" font-size="8" fill="#2424b8" textLength="56.1" lengthAdjust="spacingAndGlyphs">C to D - 21% pa</text>
<text x="86.7" y="267.8" font-family='"Liberation Sans", sans-serif' font-weight="bold" font-size="8" fill="#2424b8" textLength="51.3" lengthAdjust="spacingAndGlyphs">A to D - 9% pa</text>
<text x="439.2" y="84.8" font-family='"Liberation Sans", sans-serif' font-weight="bold" font-size="8.4" fill="#c83c3c" textLength="41.4" lengthAdjust="spacingAndGlyphs">resistance</text>
<text x="477.6" y="197.9" font-family='"Liberation Sans", sans-serif' font-weight="bold" font-size="11" fill="#2424b8" text-anchor="middle">GFC</text>
<text x="477.6" y="211.0" font-family='"Liberation Sans", sans-serif' font-weight="bold" font-size="11" fill="#2424b8" text-anchor="middle">down</text>
<text x="477.6" y="223.3" font-family='"Liberation Sans", sans-serif' font-weight="bold" font-size="11" fill="#2424b8" text-anchor="middle">57%</text>
<text x="503.1" y="300.9" font-family='"Liberation Sans", sans-serif' font-weight="bold" font-size="13" fill="#c82424">C</text>
<text x="266.4" y="309.3" font-family='"Liberation Sans", sans-serif' font-weight="bold" font-size="13" fill="#c82424">B</text>
<text x="60.6" y="390" font-family='"Liberation Sans", sans-serif' font-weight="bold" font-size="14.2" fill="#e01c1c" textLength="9.6" lengthAdjust="spacingAndGlyphs" stroke="#e01c1c" stroke-width="0.4" transform="translate(41 0) skewX(-6)" >A</text>
<text x="143.1" y="326" font-family='"Liberation Sans", sans-serif' font-weight="bold" font-size="8.3" fill="#2a8f2a" textLength="47.5" lengthAdjust="spacingAndGlyphs">uptrend line</text>
<text x="547.1" y="235.3" font-family='"Liberation Sans", sans-serif' font-weight="bold" font-size="8.4" fill="#2a8a2a" textLength="31.1" lengthAdjust="spacingAndGlyphs">uptrend</text>
<text x="547.1" y="244.8" font-family='"Liberation Sans", sans-serif' font-weight="bold" font-size="8.4" fill="#2a8a2a">line</text>
<rect x="546" y="150.8" width="48" height="14.6" fill="#fff"/>
<text x="548" y="160.9" font-family='"Liberation Sans", sans-serif' font-weight="bold" font-size="11" fill="#248a24" textLength="44" lengthAdjust="spacingAndGlyphs">5+ years</text>
<rect x="574" y="184" width="36" height="25" fill="#fff"/>
<text x="591.8" y="192.8" font-family='"Liberation Sans", sans-serif' font-weight="bold" font-size="11" fill="#2424b8" text-anchor="middle">up</text>
<text x="575.2" y="205.9" font-family='"Liberation Sans", sans-serif' font-weight="bold" font-size="11" fill="#2424b8" textLength="33.7" lengthAdjust="spacingAndGlyphs">~190%</text>
<path d="M377 307.6 L380.2 310.8" stroke="#555" stroke-width="1"/><path d="M378 309.6 L380.6 311.6 L378.6 312.4 Z" fill="#666"/><circle cx="382.6" cy="313.8" r="1.1" fill="none" stroke="#9a9ad0" stroke-width="0.7"/>
<rect x="483.8" y="319.9" width="82.2" height="39.8" fill="#fff" stroke="#505050" stroke-width="1"/>
<text x="485.6" y="327.7" font-family='"Liberation Sans", sans-serif' font-weight="bold" font-size="8.4" fill="#1c1c1c">S&amp;P 500 (US index)</text>
<text x="485.6" y="337.4" font-family='"Liberation Sans", sans-serif' font-weight="bold" font-size="8.4" fill="#1c1c1c">View in BullCharts</text>
<text x="485.6" y="347.1" font-family='"Liberation Sans", sans-serif' font-weight="bold" font-size="8.4" fill="#1c1c1c">using the code:</text>
<text x="485.6" y="356.8" font-family='"Liberation Sans", sans-serif' font-weight="bold" font-size="8.4" fill="#1c1c1c">US.^SPX</text>
<text x="490.6" y="379.1" font-family='"Liberation Sans", sans-serif' font-weight="normal" font-size="6.9" fill="#3a3a96" textLength="74.6" lengthAdjust="spacingAndGlyphs">This chart produced with</text>
<text x="490.6" y="386.8" font-family='"Liberation Sans", sans-serif' font-weight="normal" font-size="6.9" fill="#3a3a96">BullCharts software v4.0</text></svg>
</body></html>
